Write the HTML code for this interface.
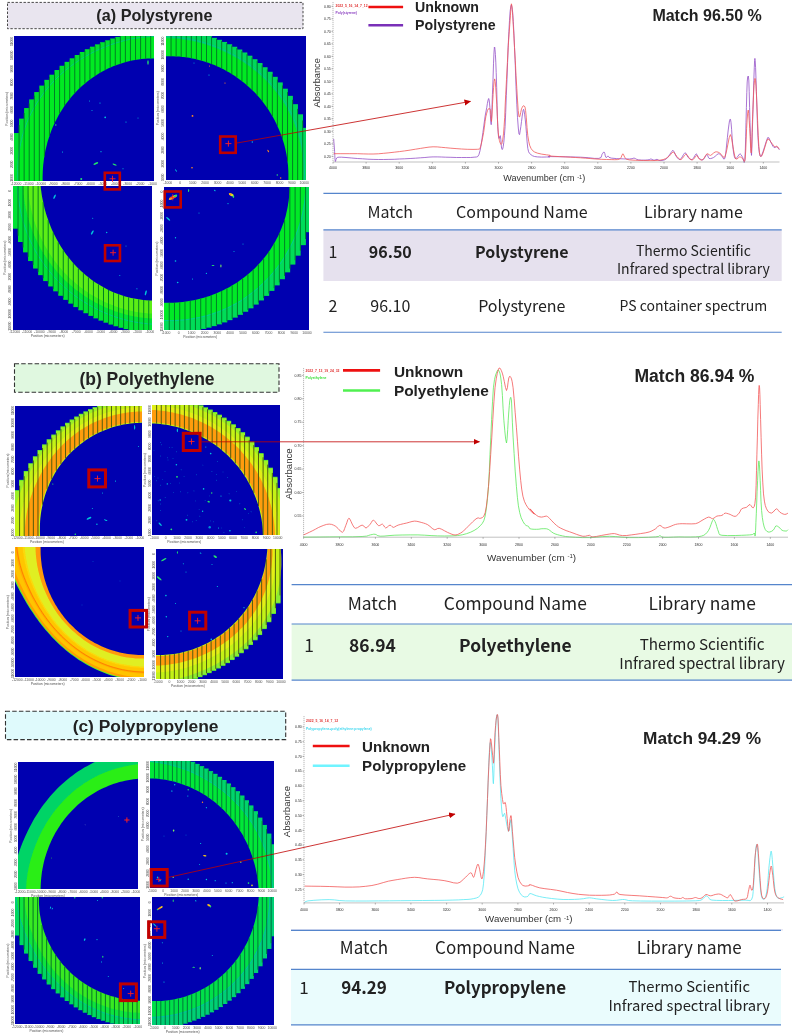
<!DOCTYPE html>
<html><head><meta charset="utf-8"><title>FTIR microplastic identification</title>
<style>html,body{margin:0;padding:0;background:#fff}svg{display:block}</style></head>
<body>
<svg width="792" height="1035" viewBox="0 0 792 1035" style="display:block">
<rect width="792" height="1035" fill="#fff"/>
<defs><filter id="bl" x="-5%" y="-5%" width="110%" height="110%"><feGaussianBlur stdDeviation="0.4"/></filter></defs>
<defs><marker id="ah" markerWidth="8" markerHeight="8" refX="6" refY="3" orient="auto" markerUnits="userSpaceOnUse"><path d="M0 0L6.5 3L0 6Z" fill="#c00000"/></marker></defs>
<clipPath id="c_aTL"><rect x="14" y="36" width="140.0" height="145.0"/></clipPath>
<g filter="url(#bl)"><g clip-path="url(#c_aTL)">
<rect x="14" y="36" width="140.0" height="145.0" fill="#0300b0"/>
<rect x="14.00" y="133.01" width="5.36" height="47.99" fill="#00e030"/>
<rect x="19.06" y="118.61" width="5.36" height="62.39" fill="#00e030"/>
<rect x="24.13" y="108.03" width="5.36" height="72.97" fill="#00e030"/>
<rect x="29.19" y="99.40" width="5.36" height="81.60" fill="#00e030"/>
<rect x="34.25" y="92.05" width="5.36" height="88.95" fill="#00e030"/>
<rect x="39.32" y="85.60" width="5.36" height="95.40" fill="#00e030"/>
<rect x="44.38" y="79.86" width="5.36" height="101.14" fill="#00e030"/>
<rect x="49.44" y="74.70" width="5.36" height="106.30" fill="#00e030"/>
<rect x="54.51" y="70.02" width="5.36" height="110.98" fill="#00e030"/>
<rect x="59.57" y="65.76" width="5.36" height="115.24" fill="#00e030"/>
<rect x="64.63" y="61.86" width="5.36" height="119.14" fill="#00e030"/>
<rect x="69.70" y="58.29" width="5.36" height="122.71" fill="#00e030"/>
<rect x="74.76" y="55.00" width="5.36" height="126.00" fill="#00e030"/>
<rect x="79.82" y="51.99" width="5.36" height="129.01" fill="#00e030"/>
<rect x="84.89" y="49.22" width="5.36" height="131.78" fill="#00e030"/>
<rect x="89.95" y="46.68" width="5.36" height="134.32" fill="#00e030"/>
<rect x="95.01" y="44.34" width="5.36" height="136.66" fill="#00e030"/>
<rect x="100.08" y="42.21" width="5.36" height="138.79" fill="#00e030"/>
<rect x="105.14" y="40.27" width="5.36" height="140.73" fill="#00e030"/>
<rect x="110.20" y="38.50" width="5.36" height="142.50" fill="#00e030"/>
<rect x="115.27" y="36.90" width="5.36" height="144.10" fill="#00e030"/>
<rect x="120.33" y="35.51" width="5.36" height="145.49" fill="#00e030"/>
<rect x="125.39" y="34.29" width="5.36" height="146.71" fill="#00e030"/>
<rect x="130.46" y="33.26" width="5.36" height="147.74" fill="#00e030"/>
<rect x="135.52" y="32.41" width="5.36" height="148.59" fill="#00e030"/>
<rect x="140.58" y="31.73" width="5.36" height="149.27" fill="#00e030"/>
<rect x="145.65" y="31.22" width="5.36" height="149.78" fill="#00e030"/>
<rect x="150.71" y="30.89" width="5.36" height="150.11" fill="#00e030"/>
<path d="M30.3 228.5L29.0 225.4L27.7 222.2L26.4 219.1L25.3 215.8L24.3 212.6L23.3 209.3L22.4 206.0L21.6 202.6L20.9 199.2L20.3 195.8L19.7 192.4L19.3 189.0L18.9 185.5L18.6 182.0L18.4 178.5L18.3 175.0L18.3 171.5L18.3 168.0L18.5 164.5L18.7 161.0L19.1 157.5L19.5 153.9L20.0 150.4L20.6 146.9L21.3 143.4L22.1 139.9L23.0 136.5L23.9 133.0L25.0 129.6L26.2 126.2L27.5 122.8L28.9 119.5L30.4 116.2L32.0 113.0L33.7 109.8L35.4 106.6L37.3 103.5L39.2 100.4L41.3 97.4L43.4 94.5L45.6 91.6L47.9 88.8L50.3 86.0L52.7 83.3L55.2 80.6L57.8 78.0L60.4 75.5L63.2 73.1L65.9 70.7L68.8 68.4L71.7 66.2L74.6 64.0L77.7 61.9L80.7 59.9L83.9 58.0L87.0 56.2L90.2 54.4L93.5 52.7L96.8 51.1L100.2 49.5L103.5 48.1L107.0 46.7L110.4 45.4L113.9 44.2L117.4 43.1L121.0 42.0L124.6 41.1L128.2 40.2L131.8 39.5L135.4 38.8L139.1 38.2L142.8 37.8L146.5 37.4L150.2 37.1L153.9 36.9L157.7 36.9L161.4 36.9L165.1 37.0L168.9 37.2L172.6 37.5L176.3 37.9L180.0 38.4L183.7 39.0L187.4 39.7L191.1 40.5L194.7 41.3L198.4 42.3L202.0 43.4L205.5 44.5L214.0 44.5L214.0 241.0L30.3 241.0Z" fill="#00ea20"/>
<path d="M29.8 228.7L28.4 225.6L27.1 222.4L25.9 219.2L24.8 216.0L23.7 212.7L22.7 209.4L21.8 206.1L21.0 202.7L20.3 199.3L19.7 195.9L19.1 192.4L18.6 189.0L18.3 185.5L18.0 182.0L17.8 178.5L17.7 175.0L17.7 171.5L17.7 167.9L17.9 164.4L18.1 160.9L18.5 157.3L18.9 153.8L19.4 150.3L20.0 146.7L20.7 143.2L21.5 139.7L22.3 136.2L23.3 132.8L24.4 129.3L25.6 125.9L26.9 122.6L28.3 119.2L29.8 115.9L31.4 112.7L33.1 109.4L34.9 106.3L36.8 103.1L38.7 100.1L40.8 97.1L42.9 94.1L45.1 91.2L47.4 88.4L49.8 85.6L52.3 82.9L54.8 80.2L57.4 77.6L60.0 75.1L62.8 72.6L65.6 70.3L68.4 68.0L71.4 65.7L74.3 63.6L77.4 61.5L80.4 59.5L83.6 57.5L86.8 55.7L90.0 53.9L93.3 52.2L96.6 50.6L100.0 49.1L103.4 47.6L106.8 46.2L110.3 44.9L113.8 43.7L117.3 42.6L120.8 41.5L124.4 40.6L128.1 39.7L131.7 38.9L135.4 38.3L139.1 37.7L142.8 37.2L146.5 36.8L150.2 36.6L153.9 36.4L157.7 36.3L161.4 36.3L165.2 36.4L168.9 36.6L172.7 36.9L176.4 37.3L180.1 37.8L183.8 38.4L187.5 39.1L191.2 39.9L194.9 40.8L198.5 41.7L202.2 42.8L205.8 44.0" fill="none" stroke="#00c890" stroke-width="0.8"/>
<path d="M51.0 221.0L49.9 218.3L48.9 215.7L48.0 213.0L47.2 210.3L46.4 207.6L45.7 204.8L45.1 202.0L44.5 199.2L44.0 196.4L43.6 193.6L43.3 190.8L43.0 187.9L42.8 185.1L42.7 182.2L42.6 179.3L42.6 176.4L42.7 173.6L42.8 170.7L43.0 167.8L43.2 164.9L43.6 162.1L43.9 159.2L44.4 156.3L44.9 153.4L45.4 150.6L46.1 147.7L46.8 144.9L47.5 142.0L48.4 139.2L49.3 136.4L50.3 133.6L51.3 130.8L52.4 128.0L53.6 125.3L54.8 122.6L56.2 119.9L57.6 117.2L59.0 114.6L60.6 111.9L62.2 109.4L63.9 106.8L65.6 104.3L67.4 101.9L69.3 99.5L71.3 97.1L73.3 94.8L75.4 92.5L77.5 90.3L79.7 88.1L82.0 86.0L84.4 84.0L86.8 82.0L89.2 80.1L91.8 78.2L94.3 76.4L97.0 74.7L99.6 73.1L102.4 71.5L105.2 70.0L108.0 68.6L110.9 67.3L113.8 66.1L116.7 64.9L119.7 63.9L122.8 62.9L125.8 62.0L128.9 61.2L132.0 60.6L135.1 60.0L138.3 59.5L141.4 59.1L144.6 58.8L147.7 58.6L150.9 58.5L154.1 58.5L157.3 58.6L160.4 58.8L163.6 59.1L166.8 59.4L169.9 59.8L173.0 60.3L176.1 60.9L179.2 61.6L182.3 62.3L185.3 63.1L188.4 64.0L191.4 65.0L194.3 66.0L197.3 67.2L214.0 67.2L214.0 241.0L51.0 241.0Z" fill="#0300b0"/>
<path d="M19.06 125.1V181.0M24.13 113.0V181.0M29.19 103.5V181.0M34.25 95.6V181.0M39.32 88.7V181.0M44.38 82.6V156.2M49.44 77.2V135.9M54.51 72.3V123.3M59.57 67.8V113.6M64.63 63.8V105.7M69.70 60.0V99.0M74.76 56.6V93.1M79.82 53.5V88.0M84.89 50.6V83.5M89.95 47.9V79.5M95.01 45.5V76.0M100.08 43.3V72.8M105.14 41.2V70.1M110.20 39.4V67.6M115.27 37.7V65.5M120.33 36.2V63.7M125.39 36.0V62.1M130.46 36.0V60.9M135.52 36.0V59.9M140.58 36.0V59.2M145.65 36.0V58.7M150.71 36.0V58.5" stroke="#007a26" stroke-width="0.95" fill="none"/>
<ellipse cx="148" cy="62.5" rx="0.7" ry="2.2" fill="#22e66a"/>
<ellipse cx="105.2" cy="117.3" rx="0.9" ry="0.9" fill="#00c4dc"/>
<ellipse cx="126" cy="122" rx="0.6" ry="0.6" fill="#00c4dc"/>
<ellipse cx="100" cy="103" rx="0.6" ry="0.6" fill="#00c4dc"/>
<ellipse cx="89.6" cy="101" rx="0.5" ry="0.5" fill="#00c4dc"/>
<ellipse cx="55.8" cy="125" rx="0.7" ry="0.7" fill="#22e66a"/>
<ellipse cx="95.8" cy="163.5" rx="2.6" ry="0.9" fill="#22e66a" transform="rotate(-25 95.8 163.5)"/>
<ellipse cx="114.6" cy="164.6" rx="2.2" ry="0.7" fill="#22e66a" transform="rotate(20 114.6 164.6)"/>
<ellipse cx="81.25" cy="179" rx="1" ry="1" fill="#22e66a"/>
<ellipse cx="62.5" cy="152" rx="0.6" ry="0.6" fill="#00c4dc"/>
<ellipse cx="123" cy="168.75" rx="0.6" ry="0.6" fill="#00c4dc"/>
<ellipse cx="101" cy="151.7" rx="0.6" ry="0.6" fill="#00c4dc"/>
<ellipse cx="138" cy="118" rx="0.5" ry="0.5" fill="#00c4dc"/>
<ellipse cx="92" cy="110.5" rx="0.5" ry="0.5" fill="#00c4dc"/>
</g></g>
<clipPath id="c_aTR"><rect x="166" y="36" width="140.0" height="144.0"/></clipPath>
<g filter="url(#bl)"><g clip-path="url(#c_aTR)">
<rect x="166" y="36" width="140.0" height="144.0" fill="#0300b0"/>
<rect x="166.00" y="28.37" width="5.36" height="151.63" fill="#00d85c"/>
<rect x="171.06" y="28.73" width="5.36" height="151.27" fill="#00d85c"/>
<rect x="176.13" y="29.26" width="5.36" height="150.74" fill="#00d85c"/>
<rect x="181.19" y="29.96" width="5.36" height="150.04" fill="#00d85c"/>
<rect x="186.25" y="30.83" width="5.36" height="149.17" fill="#00d85c"/>
<rect x="191.32" y="31.87" width="5.36" height="148.13" fill="#00d85c"/>
<rect x="196.38" y="33.09" width="5.36" height="146.91" fill="#00d85c"/>
<rect x="201.44" y="34.50" width="5.36" height="145.50" fill="#00d85c"/>
<rect x="206.51" y="36.08" width="5.36" height="143.92" fill="#00d85c"/>
<rect x="211.57" y="37.86" width="5.36" height="142.14" fill="#00d85c"/>
<rect x="216.63" y="39.80" width="5.36" height="140.20" fill="#00d85c"/>
<rect x="221.70" y="41.93" width="5.36" height="138.07" fill="#00d85c"/>
<rect x="226.76" y="44.24" width="5.36" height="135.76" fill="#00d85c"/>
<rect x="231.82" y="46.76" width="5.36" height="133.24" fill="#00d85c"/>
<rect x="236.89" y="49.50" width="5.36" height="130.50" fill="#00d85c"/>
<rect x="241.95" y="52.47" width="5.36" height="127.53" fill="#00d85c"/>
<rect x="247.01" y="55.70" width="5.36" height="124.30" fill="#00d85c"/>
<rect x="252.08" y="59.21" width="5.36" height="120.79" fill="#00d85c"/>
<rect x="257.14" y="63.04" width="5.36" height="116.96" fill="#00d85c"/>
<rect x="262.20" y="67.21" width="5.36" height="112.79" fill="#00d85c"/>
<rect x="267.27" y="71.79" width="5.36" height="108.21" fill="#00d85c"/>
<rect x="272.33" y="76.83" width="5.36" height="103.17" fill="#00d85c"/>
<rect x="277.39" y="82.42" width="5.36" height="97.58" fill="#00d85c"/>
<rect x="282.46" y="88.69" width="5.36" height="91.31" fill="#00d85c"/>
<rect x="287.52" y="95.84" width="5.36" height="84.16" fill="#00d85c"/>
<rect x="292.58" y="104.17" width="5.36" height="75.83" fill="#00d85c"/>
<rect x="297.65" y="114.31" width="5.36" height="65.69" fill="#00d85c"/>
<rect x="302.71" y="127.85" width="5.36" height="52.15" fill="#00d85c"/>
<path d="M112.3 47.7L115.7 46.5L119.3 45.3L122.8 44.2L126.4 43.2L130.0 42.3L133.6 41.5L137.2 40.8L140.9 40.1L144.5 39.6L148.2 39.2L151.9 38.8L155.6 38.6L159.3 38.4L163.0 38.3L166.8 38.4L170.5 38.5L174.2 38.7L177.9 39.1L181.6 39.5L185.3 40.0L189.0 40.6L192.6 41.3L196.2 42.1L199.9 43.0L203.4 44.0L207.0 45.1L210.5 46.3L214.0 47.6L217.5 48.9L220.9 50.4L224.3 51.9L227.7 53.5L231.0 55.2L234.3 57.0L237.6 58.8L240.7 60.8L243.9 62.8L247.0 64.9L250.0 67.0L253.0 69.3L255.9 71.6L258.7 74.1L261.5 76.6L264.2 79.1L266.9 81.8L269.4 84.5L271.9 87.3L274.3 90.1L276.7 93.0L278.9 96.0L281.1 99.1L283.1 102.2L285.1 105.3L287.0 108.6L288.8 111.8L290.4 115.2L292.0 118.5L293.5 122.0L294.8 125.4L296.1 128.9L297.2 132.4L298.2 136.0L299.2 139.5L300.0 143.1L300.7 146.7L301.4 150.4L301.9 154.0L302.3 157.6L302.7 161.3L302.9 164.9L303.1 168.5L303.2 172.2L303.1 175.8L303.0 179.4L302.8 183.0L302.5 186.6L302.1 190.1L301.6 193.7L301.0 197.2L300.3 200.7L299.5 204.2L298.7 207.7L297.8 211.1L296.7 214.5L295.6 217.8L294.4 221.1L293.2 224.4L291.8 227.7L290.4 230.9L290.4 240.0L106.0 240.0L106.0 47.7Z" fill="#00ea20"/>
<path d="M111.6 45.9L115.1 44.7L118.7 43.5L122.3 42.4L125.9 41.4L129.5 40.5L133.2 39.7L136.9 39.0L140.6 38.4L144.3 37.8L148.1 37.4L151.8 37.1L155.5 36.8L159.3 36.7L163.1 36.6L166.8 36.7L170.6 36.8L174.3 37.1L178.1 37.4L181.8 37.9L185.5 38.4L189.2 39.0L192.9 39.8L196.6 40.6L200.3 41.5L203.9 42.6L207.5 43.7L211.0 44.9L214.6 46.2L218.1 47.5L221.5 49.0L225.0 50.5L228.4 52.2L231.7 53.9L235.1 55.7L238.3 57.5L241.6 59.5L244.7 61.5L247.8 63.6L250.9 65.8L253.9 68.1L256.9 70.5L259.7 72.9L262.6 75.4L265.3 78.0L268.0 80.7L270.6 83.4L273.1 86.2L275.5 89.1L277.9 92.1L280.2 95.1L282.3 98.2L284.4 101.3L286.4 104.5L288.3 107.8L290.1 111.1L291.8 114.4L293.4 117.8L294.9 121.3L296.2 124.8L297.5 128.3L298.6 131.9L299.7 135.5L300.6 139.1L301.4 142.7L302.1 146.4L302.8 150.0L303.3 153.7L303.7 157.4L304.1 161.0L304.3 164.7L304.5 168.4L304.5 172.0L304.5 175.7L304.4 179.3L304.1 183.0L303.8 186.6L303.4 190.2L302.9 193.8L302.3 197.3L301.6 200.9L300.8 204.4L300.0 207.9L299.0 211.3L298.0 214.8L296.9 218.1L295.7 221.5L294.4 224.8L293.0 228.1L291.5 231.3" fill="none" stroke="#00c0a0" stroke-width="0.8"/>
<path d="M119.3 67.0L122.2 65.7L125.2 64.6L128.2 63.5L131.2 62.4L134.3 61.5L137.4 60.6L140.5 59.8L143.6 59.1L146.8 58.4L150.0 57.9L153.2 57.4L156.4 57.0L159.7 56.7L162.9 56.4L166.2 56.3L169.4 56.2L172.7 56.3L176.0 56.4L179.3 56.6L182.5 56.9L185.8 57.3L189.1 57.8L192.3 58.4L195.5 59.1L198.7 59.9L201.9 60.8L205.1 61.7L208.2 62.8L211.4 63.9L214.4 65.1L217.5 66.4L220.5 67.8L223.5 69.3L226.4 70.9L229.3 72.5L232.1 74.3L234.9 76.1L237.6 77.9L240.3 79.9L243.0 81.9L245.5 84.0L248.0 86.2L250.5 88.5L252.9 90.8L255.2 93.1L257.5 95.6L259.7 98.1L261.8 100.6L263.8 103.2L265.8 105.9L267.7 108.6L269.5 111.4L271.2 114.2L272.9 117.1L274.5 120.0L276.0 122.9L277.4 125.9L278.7 128.9L280.0 132.0L281.2 135.0L282.2 138.1L283.2 141.3L284.2 144.4L285.0 147.6L285.7 150.8L286.4 154.0L286.9 157.2L287.4 160.4L287.8 163.7L288.1 166.9L288.3 170.1L288.4 173.4L288.4 176.6L288.4 179.9L288.2 183.1L288.0 186.3L287.7 189.5L287.3 192.7L286.9 195.9L286.3 199.0L285.7 202.2L285.0 205.3L284.2 208.4L283.4 211.4L282.4 214.5L281.4 217.5L280.3 220.5L279.2 223.4L277.9 226.3L277.9 240.0L106.0 240.0L106.0 67.0Z" fill="#0300b0"/>
<path d="M171.06 36.0V56.2M176.13 36.0V56.4M181.19 36.0V56.8M186.25 36.0V57.4M191.32 36.0V58.2M196.38 36.0V59.3M201.44 36.0V60.6M206.51 36.0V62.2M211.57 36.9V64.0M216.63 38.8V66.1M221.70 40.8V68.4M226.76 43.1V71.1M231.82 45.5V74.1M236.89 48.1V77.4M241.95 51.0V81.1M247.01 54.1V85.3M252.08 57.4V90.0M257.14 61.1V95.2M262.20 65.1V101.2M267.27 69.4V108.0M272.33 74.2V116.1M277.39 79.6V125.9M282.46 85.5V138.8M287.52 92.1V161.4M292.58 99.8V180.0M297.65 108.9V180.0M302.71 120.5V180.0" stroke="#007a26" stroke-width="0.95" fill="none"/>
<ellipse cx="192.5" cy="115.9" rx="0.9" ry="0.9" fill="#ff8c1e"/>
<ellipse cx="192" cy="167.7" rx="0.8" ry="0.8" fill="#ff8c1e"/>
<ellipse cx="225" cy="83" rx="0.6" ry="0.6" fill="#ff8c1e"/>
<ellipse cx="209" cy="75" rx="0.6" ry="0.6" fill="#00c4dc"/>
<ellipse cx="268.2" cy="151" rx="0.6" ry="1.4" fill="#ff8c1e" transform="rotate(-30 268.2 151)"/>
<ellipse cx="252.3" cy="142" rx="0.7" ry="0.7" fill="#00c4dc"/>
<ellipse cx="176" cy="170.5" rx="0.5" ry="1.6" fill="#00c4dc" transform="rotate(-40 176 170.5)"/>
<ellipse cx="277.3" cy="175" rx="0.7" ry="0.7" fill="#22e66a"/>
<ellipse cx="280.7" cy="178" rx="0.7" ry="0.7" fill="#ff8c1e"/>
<ellipse cx="209.5" cy="66" rx="0.5" ry="0.5" fill="#ff8c1e"/>
<ellipse cx="194" cy="63" rx="0.5" ry="0.5" fill="#00c4dc"/>
</g></g>
<clipPath id="c_aBL"><rect x="13" y="186" width="139.0" height="144.0"/></clipPath>
<g filter="url(#bl)"><g clip-path="url(#c_aBL)">
<rect x="13" y="186" width="139.0" height="144.0" fill="#0300b0"/>
<rect x="13.00" y="186" width="5.33" height="42.68" fill="#00e234"/>
<rect x="18.03" y="186" width="5.33" height="56.00" fill="#00e234"/>
<rect x="23.05" y="186" width="5.33" height="66.37" fill="#00e234"/>
<rect x="28.08" y="186" width="5.33" height="75.04" fill="#00e234"/>
<rect x="33.11" y="186" width="5.33" height="82.54" fill="#00e234"/>
<rect x="38.14" y="186" width="5.33" height="89.16" fill="#00e234"/>
<rect x="43.16" y="186" width="5.33" height="95.09" fill="#00e234"/>
<rect x="48.19" y="186" width="5.33" height="100.45" fill="#00e234"/>
<rect x="53.22" y="186" width="5.33" height="105.33" fill="#00e234"/>
<rect x="58.24" y="186" width="5.33" height="109.79" fill="#00e234"/>
<rect x="63.27" y="186" width="5.33" height="113.88" fill="#00e234"/>
<rect x="68.30" y="186" width="5.33" height="117.64" fill="#00e234"/>
<rect x="73.33" y="186" width="5.33" height="121.09" fill="#00e234"/>
<rect x="78.35" y="186" width="5.33" height="124.28" fill="#00e234"/>
<rect x="83.38" y="186" width="5.33" height="127.21" fill="#00e234"/>
<rect x="88.41" y="186" width="5.33" height="129.90" fill="#00e234"/>
<rect x="93.43" y="186" width="5.33" height="132.37" fill="#00e234"/>
<rect x="98.46" y="186" width="5.33" height="134.64" fill="#00e234"/>
<rect x="103.49" y="186" width="5.33" height="136.70" fill="#00e234"/>
<rect x="108.52" y="186" width="5.33" height="138.57" fill="#00e234"/>
<rect x="113.54" y="186" width="5.33" height="140.27" fill="#00e234"/>
<rect x="118.57" y="186" width="5.33" height="141.79" fill="#00e234"/>
<rect x="123.60" y="186" width="5.33" height="143.14" fill="#00e234"/>
<rect x="128.62" y="186" width="5.33" height="144.32" fill="#00e234"/>
<rect x="133.65" y="186" width="5.33" height="145.32" fill="#00e234"/>
<rect x="138.68" y="186" width="5.33" height="146.15" fill="#00e234"/>
<rect x="143.71" y="186" width="5.33" height="146.81" fill="#00e234"/>
<rect x="148.73" y="186" width="5.33" height="147.29" fill="#00e234"/>
<path d="M203.2 311.4L199.9 312.5L196.5 313.5L193.1 314.4L189.7 315.2L186.3 316.0L182.9 316.6L179.4 317.2L175.9 317.7L172.5 318.0L169.0 318.3L165.5 318.6L162.0 318.7L158.5 318.7L155.0 318.7L151.5 318.5L148.1 318.3L144.6 317.9L141.1 317.5L137.7 317.0L134.3 316.4L130.9 315.7L127.5 314.9L124.1 314.0L120.8 313.0L117.5 312.0L114.2 310.9L111.0 309.6L107.8 308.4L104.6 307.0L101.5 305.5L98.4 304.0L95.4 302.4L92.4 300.7L89.4 299.0L86.5 297.2L83.6 295.3L80.8 293.3L78.0 291.3L75.3 289.2L72.7 287.1L70.1 284.8L67.5 282.5L65.0 280.2L62.6 277.8L60.3 275.3L58.0 272.8L55.7 270.2L53.6 267.6L51.5 264.9L49.4 262.2L47.5 259.4L45.6 256.6L43.7 253.7L42.0 250.8L40.3 247.9L38.7 244.9L37.2 241.8L35.7 238.8L34.3 235.7L33.0 232.5L31.8 229.4L30.7 226.2L29.6 223.0L28.6 219.7L27.7 216.5L26.9 213.2L26.1 209.9L25.4 206.5L24.8 203.2L24.3 199.9L23.8 196.5L23.5 193.1L23.2 189.7L22.9 186.4L22.8 183.0L22.8 179.6L22.8 176.2L22.9 172.8L23.1 169.4L23.4 166.0L23.8 162.6L24.3 159.2L24.8 155.8L25.5 152.5L26.2 149.1L27.0 145.8L27.9 142.5L28.9 139.2L30.0 136.0L30.0 126.0L212.0 126.0L212.0 311.4Z" fill="#30ea1c"/>
<path d="M201.3 306.2L198.2 307.3L194.9 308.3L191.7 309.2L188.4 310.1L185.1 310.8L181.8 311.5L178.5 312.0L175.2 312.5L171.8 312.9L168.5 313.3L165.1 313.5L161.8 313.6L158.4 313.7L155.1 313.7L151.7 313.6L148.3 313.4L145.0 313.1L141.7 312.7L138.3 312.2L135.0 311.7L131.8 311.0L128.5 310.3L125.2 309.4L122.0 308.5L118.8 307.5L115.7 306.4L112.6 305.2L109.5 304.0L106.4 302.7L103.4 301.3L100.4 299.8L97.5 298.2L94.6 296.6L91.7 294.9L88.9 293.2L86.2 291.3L83.5 289.4L80.8 287.4L78.2 285.4L75.6 283.3L73.1 281.1L70.7 278.9L68.3 276.7L66.0 274.3L63.7 271.9L61.6 269.5L59.4 267.0L57.3 264.4L55.3 261.8L53.4 259.2L51.5 256.5L49.7 253.8L48.0 251.0L46.3 248.2L44.7 245.4L43.2 242.5L41.7 239.6L40.3 236.6L39.0 233.6L37.7 230.6L36.5 227.6L35.4 224.5L34.4 221.4L33.4 218.3L32.6 215.2L31.7 212.0L31.0 208.8L30.3 205.6L29.7 202.4L29.2 199.2L28.7 196.0L28.3 192.7L28.0 189.5L27.8 186.2L27.6 182.9L27.5 179.6L27.5 176.4L27.6 173.1L27.7 169.8L28.0 166.5L28.3 163.2L28.7 160.0L29.2 156.7L29.8 153.5L30.5 150.2L31.2 147.0L32.1 143.8L33.0 140.6L34.0 137.5L34.0 126.0L212.0 126.0L212.0 306.2Z" fill="#5cee16"/>
<path d="M205.3 317.2L201.8 318.3L198.3 319.3L194.8 320.2L191.2 321.1L187.6 321.8L184.0 322.4L180.4 323.0L176.8 323.5L173.2 323.8L169.5 324.1L165.9 324.3L162.2 324.4L158.6 324.4L155.0 324.3L151.3 324.1L147.7 323.8L144.1 323.4L140.5 322.9L137.0 322.4L133.4 321.7L129.9 321.0L126.4 320.1L122.9 319.2L119.4 318.2L116.0 317.1L112.6 315.9L109.2 314.6L105.9 313.3L102.6 311.9L99.4 310.4L96.2 308.8L93.0 307.1L89.9 305.4L86.8 303.6L83.7 301.7L80.7 299.8L77.8 297.8L74.9 295.7L72.1 293.5L69.3 291.3L66.6 289.0L63.9 286.6L61.3 284.2L58.8 281.7L56.3 279.2L53.9 276.6L51.6 273.9L49.3 271.2L47.1 268.4L44.9 265.6L42.9 262.7L40.9 259.8L39.0 256.8L37.1 253.7L35.4 250.7L33.7 247.6L32.1 244.4L30.5 241.2L29.1 238.0L27.7 234.7L26.5 231.4L25.3 228.1L24.1 224.7L23.1 221.3L22.2 217.9L21.3 214.5L20.6 211.1L19.9 207.6L19.3 204.1L18.7 200.6L18.3 197.1L17.9 193.6L17.7 190.1L17.5 186.5L17.4 183.0L17.4 179.5L17.5 175.9L17.6 172.4L17.9 168.9L18.3 165.3L18.7 161.8L19.2 158.3L19.9 154.8L20.6 151.4L21.4 147.9L22.2 144.5L23.2 141.1L24.3 137.7L25.4 134.3" fill="none" stroke="#00c890" stroke-width="0.9"/>
<path d="M196.3 292.5L193.5 293.6L190.7 294.6L187.8 295.5L184.9 296.3L182.0 297.0L179.1 297.7L176.1 298.3L173.2 298.9L170.2 299.3L167.2 299.7L164.2 300.0L161.2 300.2L158.2 300.4L155.1 300.5L152.1 300.5L149.1 300.4L146.1 300.2L143.1 299.9L140.1 299.6L137.1 299.1L134.1 298.6L131.1 297.9L128.2 297.2L125.3 296.4L122.4 295.5L119.5 294.6L116.7 293.5L113.9 292.4L111.1 291.2L108.4 289.9L105.7 288.5L103.1 287.1L100.5 285.6L97.9 284.1L95.4 282.4L92.9 280.7L90.5 279.0L88.1 277.1L85.8 275.3L83.6 273.3L81.3 271.3L79.2 269.3L77.1 267.2L75.0 265.1L73.1 262.9L71.1 260.6L69.2 258.3L67.4 256.0L65.7 253.7L64.0 251.3L62.3 248.8L60.7 246.3L59.2 243.8L57.8 241.3L56.4 238.7L55.0 236.1L53.7 233.5L52.5 230.9L51.3 228.2L50.2 225.5L49.2 222.8L48.2 220.0L47.2 217.3L46.3 214.5L45.5 211.7L44.7 208.9L44.0 206.0L43.4 203.2L42.8 200.3L42.2 197.4L41.7 194.5L41.3 191.6L40.9 188.7L40.6 185.8L40.3 182.8L40.1 179.9L40.0 176.9L40.0 173.9L40.0 171.0L40.1 168.0L40.3 165.0L40.6 162.0L41.0 159.0L41.4 156.1L41.9 153.1L42.5 150.2L43.1 147.2L43.8 144.3L44.6 141.4L44.6 126.0L212.0 126.0L212.0 292.5Z" fill="#0300b0"/>
<path d="M18.03 186.0V235.8M23.05 186.0V247.5M28.08 186.0V256.9M33.11 186.0V264.9M38.14 186.0V271.9M43.16 202.2V278.2M48.19 220.1V283.8M53.22 232.4V288.9M58.24 242.2V293.6M63.27 250.2V297.9M68.30 257.1V301.8M73.33 263.2V305.4M78.35 268.5V308.7M83.38 273.2V311.8M88.41 277.4V314.6M93.43 281.1V317.2M98.46 284.4V319.5M103.49 287.3V321.7M108.52 289.9V323.7M113.54 292.2V325.4M118.57 294.2V327.0M123.60 295.9V328.5M128.62 297.3V329.8M133.65 298.5V330.0M138.68 299.4V330.0M143.71 300.0V330.0M148.73 300.4V330.0" stroke="#007a26" stroke-width="0.95" fill="none"/>
<ellipse cx="54.6" cy="196.7" rx="0.8" ry="2.4" fill="#00c4dc" transform="rotate(25 54.6 196.7)"/>
<ellipse cx="92.3" cy="232.5" rx="0.8" ry="2.4" fill="#00c4dc" transform="rotate(30 92.3 232.5)"/>
<ellipse cx="106.7" cy="232.5" rx="0.7" ry="0.7" fill="#00c4dc"/>
<ellipse cx="145.8" cy="292.9" rx="0.8" ry="2.6" fill="#00c4dc" transform="rotate(15 145.8 292.9)"/>
<ellipse cx="136.9" cy="288.75" rx="0.6" ry="0.6" fill="#00c4dc"/>
<ellipse cx="92.7" cy="218.3" rx="0.5" ry="0.5" fill="#00c4dc"/>
<ellipse cx="119.8" cy="275.5" rx="0.5" ry="0.5" fill="#00c4dc"/>
<ellipse cx="126" cy="246" rx="0.5" ry="0.5" fill="#00c4dc"/>
</g></g>
<clipPath id="c_aBR"><rect x="164" y="187" width="145.0" height="143.0"/></clipPath>
<g filter="url(#bl)"><g clip-path="url(#c_aBR)">
<rect x="164" y="187" width="145.0" height="143.0" fill="#0300b0"/>
<rect x="164.00" y="187" width="5.54" height="145.49" fill="#00dc58"/>
<rect x="169.24" y="187" width="5.54" height="145.53" fill="#00dc58"/>
<rect x="174.49" y="187" width="5.54" height="145.40" fill="#00dc58"/>
<rect x="179.73" y="187" width="5.54" height="145.08" fill="#00dc58"/>
<rect x="184.98" y="187" width="5.54" height="144.57" fill="#00dc58"/>
<rect x="190.22" y="187" width="5.54" height="143.88" fill="#00dc58"/>
<rect x="195.46" y="187" width="5.54" height="142.99" fill="#00dc58"/>
<rect x="200.71" y="187" width="5.54" height="141.91" fill="#00dc58"/>
<rect x="205.95" y="187" width="5.54" height="140.63" fill="#00dc58"/>
<rect x="211.20" y="187" width="5.54" height="139.13" fill="#00dc58"/>
<rect x="216.44" y="187" width="5.54" height="137.38" fill="#00dc58"/>
<rect x="221.69" y="187" width="5.54" height="135.40" fill="#00dc58"/>
<rect x="226.93" y="187" width="5.54" height="133.15" fill="#00dc58"/>
<rect x="232.17" y="187" width="5.54" height="130.64" fill="#00dc58"/>
<rect x="237.42" y="187" width="5.54" height="127.84" fill="#00dc58"/>
<rect x="242.66" y="187" width="5.54" height="124.76" fill="#00dc58"/>
<rect x="247.91" y="187" width="5.54" height="121.34" fill="#00dc58"/>
<rect x="253.15" y="187" width="5.54" height="117.59" fill="#00dc58"/>
<rect x="258.39" y="187" width="5.54" height="113.46" fill="#00dc58"/>
<rect x="263.64" y="187" width="5.54" height="108.91" fill="#00dc58"/>
<rect x="268.88" y="187" width="5.54" height="103.90" fill="#00dc58"/>
<rect x="274.13" y="187" width="5.54" height="98.37" fill="#00dc58"/>
<rect x="279.37" y="187" width="5.54" height="92.23" fill="#00dc58"/>
<rect x="284.61" y="187" width="5.54" height="85.35" fill="#00dc58"/>
<rect x="289.86" y="187" width="5.54" height="77.58" fill="#00dc58"/>
<rect x="295.10" y="187" width="5.54" height="68.67" fill="#00dc58"/>
<rect x="300.35" y="187" width="5.54" height="58.16" fill="#00dc58"/>
<rect x="305.59" y="187" width="5.54" height="45.19" fill="#00dc58"/>
<path d="M296.7 136.7L297.9 140.0L298.9 143.3L300.0 146.7L300.9 150.1L301.7 153.5L302.5 157.0L303.1 160.4L303.7 163.9L304.2 167.4L304.6 170.9L304.9 174.4L305.1 177.9L305.2 181.5L305.2 185.0L305.2 188.5L305.0 192.0L304.8 195.6L304.5 199.1L304.0 202.6L303.5 206.1L302.9 209.5L302.2 213.0L301.4 216.4L300.5 219.8L299.5 223.2L298.4 226.6L297.3 229.9L296.0 233.2L294.7 236.5L293.3 239.7L291.8 242.9L290.2 246.0L288.6 249.2L286.9 252.2L285.1 255.3L283.2 258.2L281.2 261.2L279.2 264.0L277.1 266.9L275.0 269.6L272.7 272.4L270.4 275.0L268.1 277.6L265.6 280.2L263.1 282.6L260.6 285.0L258.0 287.4L255.3 289.6L252.5 291.8L249.8 294.0L246.9 296.0L244.0 298.0L241.1 299.9L238.1 301.7L235.0 303.5L231.9 305.1L228.8 306.7L225.6 308.2L222.4 309.6L219.2 310.9L215.9 312.1L212.6 313.3L209.2 314.3L205.9 315.3L202.5 316.1L199.1 316.9L195.7 317.6L192.2 318.2L188.8 318.7L185.3 319.2L181.9 319.5L178.4 319.8L174.9 319.9L171.5 320.0L168.0 320.0L164.5 320.0L161.0 319.8L157.6 319.5L154.1 319.2L150.7 318.7L147.3 318.2L143.9 317.6L140.5 316.9L137.1 316.1L133.8 315.3L130.4 314.3L127.2 313.3L123.9 312.2L120.7 311.0L104.0 311.0L104.0 127.0L296.7 127.0Z" fill="#00ea28"/>
<path d="M297.2 136.5L298.4 139.8L299.5 143.2L300.5 146.6L301.4 150.0L302.3 153.4L303.0 156.9L303.7 160.3L304.2 163.8L304.7 167.3L305.1 170.9L305.4 174.4L305.6 177.9L305.8 181.5L305.8 185.0L305.7 188.5L305.6 192.1L305.3 195.6L305.0 199.1L304.6 202.7L304.0 206.2L303.4 209.6L302.7 213.1L301.9 216.6L301.0 220.0L300.0 223.4L298.9 226.8L297.8 230.1L296.5 233.4L295.2 236.7L293.8 239.9L292.3 243.1L290.7 246.3L289.0 249.4L287.3 252.5L285.5 255.5L283.6 258.5L281.7 261.5L279.7 264.4L277.6 267.2L275.4 270.0L273.2 272.7L270.9 275.4L268.5 278.0L266.0 280.5L263.5 283.0L261.0 285.4L258.3 287.8L255.6 290.1L252.9 292.3L250.1 294.4L247.2 296.5L244.3 298.5L241.4 300.4L238.4 302.2L235.3 304.0L232.2 305.6L229.1 307.2L225.9 308.7L222.6 310.1L219.4 311.5L216.1 312.7L212.8 313.8L209.4 314.9L206.0 315.9L202.6 316.7L199.2 317.5L195.8 318.2L192.3 318.8L188.9 319.3L185.4 319.8L181.9 320.1L178.4 320.4L175.0 320.5L171.5 320.6L168.0 320.6L164.5 320.5L161.0 320.4L157.5 320.1L154.1 319.8L150.6 319.3L147.2 318.8L143.8 318.2L140.4 317.5L137.0 316.7L133.6 315.8L130.3 314.9L127.0 313.8L123.7 312.7L120.5 311.5" fill="none" stroke="#00c8a0" stroke-width="0.8"/>
<path d="M280.9 142.4L282.0 145.3L283.0 148.2L284.0 151.2L284.9 154.2L285.7 157.2L286.4 160.2L287.1 163.2L287.6 166.3L288.1 169.3L288.6 172.4L288.9 175.5L289.2 178.6L289.3 181.8L289.4 184.9L289.5 188.0L289.4 191.1L289.2 194.3L289.0 197.4L288.7 200.5L288.2 203.6L287.7 206.7L287.1 209.8L286.4 212.8L285.7 215.9L284.8 218.9L283.9 221.9L282.8 224.8L281.7 227.8L280.5 230.7L279.3 233.5L277.9 236.4L276.5 239.1L275.0 241.9L273.4 244.6L271.8 247.3L270.1 249.9L268.3 252.4L266.5 254.9L264.5 257.4L262.6 259.8L260.5 262.2L258.4 264.5L256.3 266.7L254.1 268.9L251.8 271.0L249.5 273.0L247.1 275.0L244.7 277.0L242.2 278.8L239.7 280.6L237.2 282.4L234.6 284.0L231.9 285.6L229.3 287.2L226.5 288.6L223.8 290.0L221.0 291.3L218.2 292.6L215.4 293.7L212.6 294.8L209.7 295.9L206.8 296.8L203.9 297.7L200.9 298.5L198.0 299.3L195.0 300.0L192.0 300.6L189.0 301.1L186.0 301.6L183.0 301.9L180.0 302.3L176.9 302.5L173.9 302.7L170.9 302.8L167.9 302.8L164.8 302.8L161.8 302.6L158.8 302.5L155.8 302.2L152.7 301.8L149.7 301.4L146.8 300.9L143.8 300.4L140.8 299.7L137.9 299.0L135.0 298.2L132.1 297.3L129.2 296.4L126.4 295.4L104.0 295.4L104.0 127.0L280.9 127.0Z" fill="#0300b0"/>
<path d="M169.24 302.8V330.0M174.49 302.6V330.0M179.73 302.3V330.0M184.98 301.7V330.0M190.22 300.9V330.0M195.46 299.9V330.0M200.71 298.6V329.5M205.95 297.1V328.3M211.20 295.3V326.9M216.44 293.3V325.3M221.69 291.0V323.4M226.93 288.4V321.3M232.17 285.5V318.9M237.42 282.2V316.3M242.66 278.5V313.3M247.91 274.4V310.1M253.15 269.7V306.5M258.39 264.5V302.6M263.64 258.5V298.2M268.88 251.6V293.5M274.13 243.4V288.2M279.37 233.3V282.4M284.61 219.5V275.9M289.86 187.0V268.6M295.10 187.0V260.3M300.35 187.0V250.6M305.59 187.0V239.1" stroke="#007a26" stroke-width="0.95" fill="none"/>
<ellipse cx="172.9" cy="197.4" rx="4.6" ry="1.3" fill="#e6e21e" transform="rotate(-28 172.9 197.4)"/>
<ellipse cx="170.8" cy="198.6" rx="2.0" ry="1.0" fill="#ff8c1e" transform="rotate(-28 170.8 198.6)"/>
<ellipse cx="175.6" cy="195.9" rx="1.8" ry="1.0" fill="#22e66a" transform="rotate(-28 175.6 195.9)"/>
<ellipse cx="231.2" cy="194.6" rx="2.6" ry="1.3" fill="#e6e21e" transform="rotate(25 231.2 194.6)"/>
<ellipse cx="230.2" cy="194.2" rx="1.3" ry="0.8" fill="#ff8c1e" transform="rotate(25 230.2 194.2)"/>
<ellipse cx="233.4" cy="196.6" rx="0.8" ry="1.3" fill="#22e66a"/>
<ellipse cx="168.2" cy="218.9" rx="0.7" ry="2.6" fill="#00c4dc" transform="rotate(-50 168.2 218.9)"/>
<ellipse cx="188.6" cy="190.5" rx="0.6" ry="1.6" fill="#22e66a"/>
<ellipse cx="214.8" cy="190.5" rx="0.9" ry="0.5" fill="#00c4dc" transform="rotate(30 214.8 190.5)"/>
<ellipse cx="213" cy="265.5" rx="1.4" ry="0.5" fill="#22e66a"/>
<ellipse cx="220.9" cy="266" rx="0.6" ry="1.4" fill="#7cf060"/>
<ellipse cx="175.5" cy="261" rx="0.8" ry="0.8" fill="#00c4dc"/>
<ellipse cx="177.7" cy="282.5" rx="0.8" ry="0.8" fill="#00c4dc"/>
<ellipse cx="175.5" cy="237.7" rx="0.7" ry="0.7" fill="#00c4dc"/>
<ellipse cx="228" cy="203.6" rx="0.6" ry="0.6" fill="#00c4dc"/>
<ellipse cx="192.5" cy="279" rx="0.6" ry="0.6" fill="#00c4dc"/>
<ellipse cx="206.4" cy="273.4" rx="0.6" ry="0.6" fill="#00c4dc"/>
<ellipse cx="199" cy="213" rx="0.5" ry="0.5" fill="#00c4dc"/>
<ellipse cx="234" cy="251.5" rx="0.5" ry="0.5" fill="#00c4dc"/>
<ellipse cx="243" cy="244" rx="0.5" ry="0.5" fill="#00c4dc"/>
</g></g>
<clipPath id="c_bTL"><rect x="15" y="406" width="127.0" height="130.0"/></clipPath>
<g filter="url(#bl)"><g clip-path="url(#c_bTL)">
<rect x="15" y="406" width="127.0" height="130.0" fill="#0300b0"/>
<rect x="14.50" y="490.10" width="5.59" height="45.00" fill="#58e838"/>
<rect x="19.09" y="479.84" width="5.59" height="55.26" fill="#58e838"/>
<rect x="23.69" y="470.97" width="5.59" height="64.13" fill="#58e838"/>
<rect x="28.28" y="463.18" width="5.59" height="71.92" fill="#58e838"/>
<rect x="32.87" y="456.23" width="5.59" height="78.87" fill="#58e838"/>
<rect x="37.47" y="449.99" width="5.59" height="85.11" fill="#58e838"/>
<rect x="42.06" y="444.34" width="5.59" height="90.76" fill="#58e838"/>
<rect x="46.65" y="439.20" width="5.59" height="95.90" fill="#58e838"/>
<rect x="51.25" y="434.52" width="5.59" height="100.58" fill="#58e838"/>
<rect x="55.84" y="430.25" width="5.59" height="104.85" fill="#58e838"/>
<rect x="60.43" y="426.33" width="5.59" height="108.77" fill="#58e838"/>
<rect x="65.02" y="422.75" width="5.59" height="112.35" fill="#58e838"/>
<rect x="69.62" y="419.48" width="5.59" height="115.62" fill="#58e838"/>
<rect x="74.21" y="416.50" width="5.59" height="118.60" fill="#58e838"/>
<rect x="78.80" y="413.79" width="5.59" height="121.31" fill="#58e838"/>
<rect x="83.40" y="411.33" width="5.59" height="123.77" fill="#58e838"/>
<rect x="87.99" y="409.11" width="5.59" height="125.99" fill="#58e838"/>
<rect x="92.58" y="407.12" width="5.59" height="127.98" fill="#58e838"/>
<rect x="97.18" y="405.36" width="5.59" height="129.74" fill="#58e838"/>
<rect x="101.77" y="403.81" width="5.59" height="131.29" fill="#58e838"/>
<rect x="106.36" y="402.44" width="5.59" height="132.66" fill="#58e838"/>
<rect x="110.96" y="401.26" width="5.59" height="133.84" fill="#58e838"/>
<rect x="115.55" y="400.25" width="5.59" height="134.85" fill="#58e838"/>
<rect x="120.14" y="399.41" width="5.59" height="135.69" fill="#58e838"/>
<rect x="124.74" y="398.74" width="5.59" height="136.36" fill="#58e838"/>
<rect x="129.33" y="398.23" width="5.59" height="136.87" fill="#58e838"/>
<rect x="133.92" y="397.89" width="5.59" height="137.21" fill="#58e838"/>
<rect x="138.51" y="397.71" width="5.59" height="137.39" fill="#58e838"/>
<rect x="15.00" y="491.00" width="4.89" height="45.00" fill="#9cf028"/>
<rect x="19.59" y="480.74" width="4.89" height="55.26" fill="#9cf028"/>
<rect x="24.19" y="471.87" width="4.89" height="64.13" fill="#9cf028"/>
<rect x="28.78" y="464.08" width="4.89" height="71.92" fill="#9cf028"/>
<rect x="33.37" y="457.13" width="4.89" height="78.87" fill="#9cf028"/>
<rect x="37.97" y="450.89" width="4.89" height="85.11" fill="#9cf028"/>
<rect x="42.56" y="445.24" width="4.89" height="90.76" fill="#9cf028"/>
<rect x="47.15" y="440.10" width="4.89" height="95.90" fill="#9cf028"/>
<rect x="51.75" y="435.42" width="4.89" height="100.58" fill="#9cf028"/>
<rect x="56.34" y="431.15" width="4.89" height="104.85" fill="#9cf028"/>
<rect x="60.93" y="427.23" width="4.89" height="108.77" fill="#9cf028"/>
<rect x="65.52" y="423.65" width="4.89" height="112.35" fill="#9cf028"/>
<rect x="70.12" y="420.38" width="4.89" height="115.62" fill="#9cf028"/>
<rect x="74.71" y="417.40" width="4.89" height="118.60" fill="#9cf028"/>
<rect x="79.30" y="414.69" width="4.89" height="121.31" fill="#9cf028"/>
<rect x="83.90" y="412.23" width="4.89" height="123.77" fill="#9cf028"/>
<rect x="88.49" y="410.01" width="4.89" height="125.99" fill="#9cf028"/>
<rect x="93.08" y="408.02" width="4.89" height="127.98" fill="#9cf028"/>
<rect x="97.68" y="406.26" width="4.89" height="129.74" fill="#9cf028"/>
<rect x="102.27" y="404.71" width="4.89" height="131.29" fill="#9cf028"/>
<rect x="106.86" y="403.34" width="4.89" height="132.66" fill="#9cf028"/>
<rect x="111.46" y="402.16" width="4.89" height="133.84" fill="#9cf028"/>
<rect x="116.05" y="401.15" width="4.89" height="134.85" fill="#9cf028"/>
<rect x="120.64" y="400.31" width="4.89" height="135.69" fill="#9cf028"/>
<rect x="125.24" y="399.64" width="4.89" height="136.36" fill="#9cf028"/>
<rect x="129.83" y="399.13" width="4.89" height="136.87" fill="#9cf028"/>
<rect x="134.42" y="398.79" width="4.89" height="137.21" fill="#9cf028"/>
<rect x="139.01" y="398.61" width="4.89" height="137.39" fill="#9cf028"/>
<path d="M16.1 576.0L15.2 572.6L14.4 569.3L13.7 566.0L13.1 562.6L12.6 559.3L12.1 555.9L11.8 552.5L11.5 549.2L11.3 545.8L11.2 542.4L11.2 539.1L11.3 535.7L11.4 532.4L11.7 529.1L12.0 525.7L12.4 522.4L12.9 519.2L13.5 515.9L14.2 512.7L14.9 509.4L15.7 506.3L16.6 503.1L17.6 500.0L18.6 496.9L19.8 493.8L21.0 490.8L22.2 487.8L23.5 484.8L24.9 481.9L26.3 479.0L27.8 476.1L29.3 473.2L30.8 470.4L32.5 467.6L34.1 464.9L35.9 462.2L37.6 459.5L39.5 456.9L41.4 454.3L43.3 451.7L45.3 449.2L47.4 446.8L49.5 444.3L51.7 442.0L53.9 439.6L56.2 437.4L58.5 435.1L60.9 433.0L63.4 430.9L65.9 428.8L68.4 426.8L71.0 424.9L73.7 423.0L76.3 421.2L79.1 419.5L81.9 417.8L84.7 416.2L87.6 414.7L90.5 413.3L93.5 411.9L96.5 410.7L99.5 409.5L102.6 408.4L105.7 407.4L108.8 406.4L112.0 405.6L115.1 404.8L118.3 404.1L121.5 403.5L124.8 402.9L128.0 402.5L131.3 402.1L134.5 401.8L137.8 401.6L141.1 401.5L144.4 401.5L147.6 401.5L150.9 401.7L154.2 401.9L157.5 402.2L160.7 402.6L164.0 403.1L167.2 403.6L170.4 404.3L173.7 405.0L176.8 405.8L180.0 406.7L183.2 407.6L186.3 408.7L202.0 408.7L202.0 596.0L16.1 596.0Z" fill="#c4f214"/>
<path d="M24.0 573.1L23.1 570.0L22.3 566.9L21.6 563.8L20.9 560.6L20.4 557.5L19.9 554.4L19.5 551.2L19.2 548.0L19.0 544.9L18.8 541.7L18.8 538.6L18.8 535.4L18.9 532.3L19.0 529.1L19.3 526.0L19.6 522.9L20.0 519.8L20.5 516.7L21.1 513.6L21.7 510.5L22.4 507.5L23.2 504.5L24.0 501.5L25.0 498.6L26.0 495.6L27.0 492.7L28.2 489.9L29.3 487.0L30.6 484.2L31.9 481.4L33.2 478.7L34.6 475.9L36.0 473.2L37.5 470.5L39.1 467.9L40.7 465.3L42.4 462.7L44.1 460.2L45.9 457.7L47.8 455.2L49.6 452.8L51.6 450.5L53.6 448.1L55.7 445.8L57.8 443.6L60.0 441.4L62.2 439.3L64.5 437.2L66.8 435.2L69.2 433.2L71.6 431.3L74.1 429.5L76.6 427.7L79.2 425.9L81.8 424.3L84.5 422.7L87.2 421.2L90.0 419.7L92.7 418.3L95.6 417.0L98.5 415.8L101.4 414.7L104.3 413.6L107.3 412.6L110.2 411.7L113.3 410.9L116.3 410.2L119.3 409.5L122.4 408.9L125.5 408.4L128.6 408.0L131.7 407.6L134.9 407.4L138.0 407.2L141.1 407.1L144.3 407.1L147.4 407.1L150.5 407.3L153.7 407.5L156.8 407.8L159.9 408.2L163.0 408.7L166.1 409.2L169.2 409.8L172.2 410.5L175.3 411.3L178.3 412.2L181.3 413.1L184.3 414.1L202.0 414.1L202.0 596.0L24.0 596.0Z" fill="#e2ee18"/>
<path d="M30.1 570.8L29.2 567.9L28.4 565.0L27.7 562.1L27.1 559.1L26.5 556.1L26.0 553.1L25.6 550.2L25.2 547.2L25.0 544.2L24.8 541.2L24.7 538.1L24.7 535.1L24.7 532.1L24.8 529.2L25.0 526.2L25.3 523.2L25.6 520.2L26.0 517.3L26.5 514.3L27.0 511.4L27.6 508.5L28.3 505.6L29.1 502.7L29.9 499.9L30.8 497.1L31.8 494.3L32.8 491.5L33.9 488.8L35.0 486.0L36.2 483.3L37.4 480.7L38.8 478.0L40.1 475.4L41.5 472.8L43.0 470.3L44.5 467.7L46.1 465.2L47.8 462.8L49.5 460.4L51.2 458.0L53.0 455.6L54.9 453.4L56.8 451.1L58.8 448.9L60.8 446.7L62.9 444.6L65.0 442.5L67.2 440.5L69.5 438.6L71.8 436.7L74.1 434.8L76.5 433.0L78.9 431.3L81.4 429.6L84.0 428.0L86.5 426.5L89.1 425.0L91.8 423.6L94.5 422.3L97.2 421.0L100.0 419.9L102.8 418.8L105.6 417.7L108.5 416.8L111.4 415.9L114.3 415.1L117.2 414.4L120.1 413.7L123.1 413.2L126.1 412.7L129.1 412.3L132.1 411.9L135.1 411.7L138.1 411.5L141.1 411.5L144.2 411.4L147.2 411.5L150.2 411.7L153.2 411.9L156.2 412.2L159.3 412.6L162.2 413.0L165.2 413.6L168.2 414.2L171.1 414.9L174.1 415.6L177.0 416.5L179.9 417.4L182.8 418.3L202.0 418.3L202.0 596.0L30.1 596.0Z" fill="#ff9c08"/>
<path d="M44.8 565.5L43.9 563.0L43.1 560.5L42.4 557.9L41.7 555.4L41.1 552.8L40.6 550.2L40.1 547.6L39.7 545.0L39.3 542.4L39.1 539.8L38.8 537.2L38.7 534.5L38.6 531.9L38.6 529.3L38.6 526.6L38.7 524.0L38.9 521.3L39.1 518.7L39.4 516.1L39.7 513.5L40.1 510.9L40.6 508.3L41.1 505.7L41.7 503.1L42.4 500.5L43.1 498.0L43.9 495.4L44.7 492.9L45.6 490.4L46.6 487.9L47.6 485.5L48.7 483.0L49.8 480.6L51.0 478.2L52.3 475.9L53.6 473.5L55.0 471.2L56.4 469.0L57.9 466.7L59.5 464.5L61.1 462.4L62.7 460.3L64.5 458.2L66.2 456.2L68.1 454.2L69.9 452.2L71.9 450.3L73.9 448.5L75.9 446.7L78.0 444.9L80.1 443.2L82.3 441.6L84.5 440.0L86.7 438.5L89.1 437.0L91.4 435.6L93.8 434.2L96.2 432.9L98.7 431.7L101.1 430.6L103.7 429.5L106.2 428.5L108.8 427.5L111.4 426.7L114.0 425.8L116.7 425.1L119.4 424.5L122.0 423.9L124.8 423.3L127.5 422.9L130.2 422.6L133.0 422.3L135.7 422.1L138.5 421.9L141.2 421.9L144.0 421.9L146.7 422.0L149.5 422.1L152.2 422.4L155.0 422.7L157.7 423.0L160.4 423.5L163.1 424.0L165.8 424.6L168.5 425.2L171.2 425.9L173.8 426.7L176.5 427.6L179.1 428.5L202.0 428.5L202.0 596.0L44.8 596.0Z" fill="#c4f214"/>
<path d="M46.2 565.0L45.3 562.5L44.5 560.0L43.8 557.6L43.1 555.0L42.5 552.5L41.9 550.0L41.4 547.4L41.0 544.8L40.7 542.3L40.4 539.7L40.2 537.1L40.0 534.5L39.9 531.9L39.9 529.3L39.9 526.7L40.0 524.1L40.1 521.4L40.3 518.8L40.6 516.3L40.9 513.7L41.3 511.1L41.8 508.5L42.3 505.9L42.8 503.4L43.5 500.8L44.2 498.3L44.9 495.8L45.7 493.3L46.6 490.8L47.6 488.3L48.6 485.9L49.6 483.5L50.7 481.1L51.9 478.7L53.2 476.4L54.5 474.1L55.8 471.8L57.2 469.5L58.7 467.3L60.2 465.2L61.8 463.0L63.5 460.9L65.2 458.8L66.9 456.8L68.7 454.8L70.6 452.9L72.5 451.0L74.5 449.2L76.5 447.4L78.5 445.7L80.7 444.0L82.8 442.4L85.0 440.8L87.2 439.3L89.5 437.8L91.8 436.4L94.2 435.1L96.6 433.8L99.0 432.6L101.5 431.5L104.0 430.4L106.5 429.4L109.1 428.4L111.7 427.6L114.3 426.8L116.9 426.0L119.6 425.4L122.2 424.8L124.9 424.3L127.6 423.9L130.3 423.5L133.0 423.2L135.8 423.0L138.5 422.9L141.2 422.8L144.0 422.9L146.7 423.0L149.4 423.1L152.1 423.3L154.9 423.6L157.6 424.0L160.3 424.5L163.0 425.0L165.6 425.5L168.3 426.2L170.9 426.9L173.5 427.7L176.1 428.5L178.7 429.4L202.0 429.4L202.0 596.0L46.2 596.0Z" fill="#0300b0"/>
<path d="M19.59 485.7V536.0M24.19 476.2V536.0M28.78 467.9V536.0M33.37 460.5V536.0M37.97 453.9V536.0M42.56 448.0V504.6M47.15 442.6V489.4M51.75 437.7V479.1M56.34 433.2V471.0M60.93 429.1V464.2M65.52 425.4V458.4M70.12 422.0V453.4M74.71 418.9V449.0M79.30 416.0V445.1M83.90 413.4V441.6M88.49 411.1V438.5M93.08 409.0V435.7M97.68 407.1V433.3M102.27 406.0V431.1M106.86 406.0V429.3M111.46 406.0V427.6M116.05 406.0V426.3M120.64 406.0V425.1M125.24 406.0V424.2M129.83 406.0V423.6M134.42 406.0V423.1M139.01 406.0V422.9" stroke="#4a5810" stroke-width="0.95" fill="none"/>
<ellipse cx="134.6" cy="427.3" rx="0.6" ry="2.4" fill="#00c4dc"/>
<ellipse cx="89" cy="518.3" rx="2.6" ry="0.9" fill="#00c4dc" transform="rotate(-25 89 518.3)"/>
<ellipse cx="105.7" cy="520.2" rx="1.8" ry="0.6" fill="#00c4dc" transform="rotate(20 105.7 520.2)"/>
<ellipse cx="96.9" cy="524.2" rx="0.7" ry="0.7" fill="#00c4dc"/>
<ellipse cx="115.5" cy="481.1" rx="0.6" ry="0.6" fill="#00c4dc"/>
<ellipse cx="52.8" cy="484" rx="0.6" ry="0.6" fill="#22e66a"/>
<ellipse cx="92.4" cy="508.5" rx="0.5" ry="0.5" fill="#00c4dc"/>
<ellipse cx="75.3" cy="534.3" rx="0.8" ry="0.8" fill="#22e66a"/>
<ellipse cx="138.5" cy="446.5" rx="0.5" ry="0.5" fill="#00c4dc"/>
<ellipse cx="102.5" cy="493" rx="0.5" ry="0.5" fill="#00c4dc"/>
</g></g>
<clipPath id="c_bTR"><rect x="152" y="405" width="128.0" height="130.0"/></clipPath>
<g filter="url(#bl)"><g clip-path="url(#c_bTR)">
<rect x="152" y="405" width="128.0" height="130.0" fill="#0300b0"/>
<rect x="151.50" y="394.54" width="5.63" height="139.56" fill="#58e838"/>
<rect x="156.13" y="394.89" width="5.63" height="139.21" fill="#58e838"/>
<rect x="160.76" y="395.40" width="5.63" height="138.70" fill="#58e838"/>
<rect x="165.39" y="396.06" width="5.63" height="138.04" fill="#58e838"/>
<rect x="170.02" y="396.88" width="5.63" height="137.22" fill="#58e838"/>
<rect x="174.65" y="397.85" width="5.63" height="136.25" fill="#58e838"/>
<rect x="179.28" y="398.99" width="5.63" height="135.11" fill="#58e838"/>
<rect x="183.91" y="400.29" width="5.63" height="133.81" fill="#58e838"/>
<rect x="188.53" y="401.77" width="5.63" height="132.33" fill="#58e838"/>
<rect x="193.16" y="403.42" width="5.63" height="130.68" fill="#58e838"/>
<rect x="197.79" y="405.26" width="5.63" height="128.84" fill="#58e838"/>
<rect x="202.42" y="407.29" width="5.63" height="126.81" fill="#58e838"/>
<rect x="207.05" y="409.53" width="5.63" height="124.57" fill="#58e838"/>
<rect x="211.68" y="411.98" width="5.63" height="122.12" fill="#58e838"/>
<rect x="216.31" y="414.66" width="5.63" height="119.44" fill="#58e838"/>
<rect x="220.94" y="417.58" width="5.63" height="116.52" fill="#58e838"/>
<rect x="225.57" y="420.77" width="5.63" height="113.33" fill="#58e838"/>
<rect x="230.20" y="424.23" width="5.63" height="109.87" fill="#58e838"/>
<rect x="234.83" y="428.01" width="5.63" height="106.09" fill="#58e838"/>
<rect x="239.46" y="432.13" width="5.63" height="101.97" fill="#58e838"/>
<rect x="244.09" y="436.64" width="5.63" height="97.46" fill="#58e838"/>
<rect x="248.72" y="441.58" width="5.63" height="92.52" fill="#58e838"/>
<rect x="253.34" y="447.03" width="5.63" height="87.07" fill="#58e838"/>
<rect x="257.97" y="453.10" width="5.63" height="81.00" fill="#58e838"/>
<rect x="262.60" y="459.90" width="5.63" height="74.20" fill="#58e838"/>
<rect x="267.23" y="467.68" width="5.63" height="66.42" fill="#58e838"/>
<rect x="271.86" y="476.79" width="5.63" height="57.31" fill="#58e838"/>
<rect x="276.49" y="487.93" width="5.63" height="46.17" fill="#58e838"/>
<rect x="152.00" y="395.44" width="4.93" height="139.56" fill="#9cf028"/>
<rect x="156.63" y="395.79" width="4.93" height="139.21" fill="#9cf028"/>
<rect x="161.26" y="396.30" width="4.93" height="138.70" fill="#9cf028"/>
<rect x="165.89" y="396.96" width="4.93" height="138.04" fill="#9cf028"/>
<rect x="170.52" y="397.78" width="4.93" height="137.22" fill="#9cf028"/>
<rect x="175.15" y="398.75" width="4.93" height="136.25" fill="#9cf028"/>
<rect x="179.78" y="399.89" width="4.93" height="135.11" fill="#9cf028"/>
<rect x="184.41" y="401.19" width="4.93" height="133.81" fill="#9cf028"/>
<rect x="189.03" y="402.67" width="4.93" height="132.33" fill="#9cf028"/>
<rect x="193.66" y="404.32" width="4.93" height="130.68" fill="#9cf028"/>
<rect x="198.29" y="406.16" width="4.93" height="128.84" fill="#9cf028"/>
<rect x="202.92" y="408.19" width="4.93" height="126.81" fill="#9cf028"/>
<rect x="207.55" y="410.43" width="4.93" height="124.57" fill="#9cf028"/>
<rect x="212.18" y="412.88" width="4.93" height="122.12" fill="#9cf028"/>
<rect x="216.81" y="415.56" width="4.93" height="119.44" fill="#9cf028"/>
<rect x="221.44" y="418.48" width="4.93" height="116.52" fill="#9cf028"/>
<rect x="226.07" y="421.67" width="4.93" height="113.33" fill="#9cf028"/>
<rect x="230.70" y="425.13" width="4.93" height="109.87" fill="#9cf028"/>
<rect x="235.33" y="428.91" width="4.93" height="106.09" fill="#9cf028"/>
<rect x="239.96" y="433.03" width="4.93" height="101.97" fill="#9cf028"/>
<rect x="244.59" y="437.54" width="4.93" height="97.46" fill="#9cf028"/>
<rect x="249.22" y="442.48" width="4.93" height="92.52" fill="#9cf028"/>
<rect x="253.84" y="447.93" width="4.93" height="87.07" fill="#9cf028"/>
<rect x="258.47" y="454.00" width="4.93" height="81.00" fill="#9cf028"/>
<rect x="263.10" y="460.80" width="4.93" height="74.20" fill="#9cf028"/>
<rect x="267.73" y="468.58" width="4.93" height="66.42" fill="#9cf028"/>
<rect x="272.36" y="477.69" width="4.93" height="57.31" fill="#9cf028"/>
<rect x="276.99" y="488.83" width="4.93" height="46.17" fill="#9cf028"/>
<path d="M99.9 406.4L103.3 405.2L106.8 404.2L110.2 403.2L113.7 402.4L117.1 401.6L120.6 400.9L124.2 400.3L127.7 399.8L131.2 399.3L134.8 399.0L138.3 398.8L141.9 398.6L145.4 398.6L149.0 398.6L152.6 398.7L156.1 398.9L159.6 399.2L163.2 399.6L166.7 400.1L170.2 400.7L173.7 401.3L177.2 402.1L180.6 402.9L184.0 403.8L187.4 404.9L190.8 406.0L194.1 407.1L197.4 408.4L200.7 409.8L203.9 411.2L207.1 412.7L210.3 414.3L213.4 416.0L216.5 417.7L219.5 419.6L222.4 421.5L225.4 423.5L228.2 425.5L231.0 427.6L233.8 429.8L236.5 432.1L239.1 434.4L241.7 436.8L244.2 439.3L246.7 441.8L249.1 444.4L251.4 447.0L253.6 449.7L255.8 452.5L257.9 455.3L259.9 458.2L261.9 461.1L263.8 464.0L265.6 467.0L267.4 470.1L269.0 473.1L270.6 476.3L272.1 479.4L273.6 482.6L274.9 485.8L276.2 489.1L277.4 492.4L278.5 495.7L279.5 499.1L280.4 502.4L281.3 505.8L282.0 509.2L282.7 512.7L283.3 516.1L283.8 519.6L284.2 523.1L284.5 526.5L284.8 530.0L284.9 533.5L285.0 537.0L284.9 540.5L284.8 544.0L284.6 547.5L284.3 551.0L283.9 554.4L283.4 557.9L282.8 561.3L282.2 564.8L281.4 568.2L280.6 571.6L279.7 574.9L278.7 578.3L277.6 581.6L276.4 584.9L276.4 595.0L92.0 595.0L92.0 406.4Z" fill="#c4f214"/>
<path d="M102.2 412.6L105.4 411.5L108.7 410.5L112.0 409.6L115.3 408.7L118.6 408.0L121.9 407.3L125.3 406.7L128.6 406.2L132.0 405.8L135.4 405.5L138.8 405.2L142.2 405.1L145.6 405.0L149.0 405.1L152.3 405.2L155.7 405.4L159.1 405.6L162.5 406.0L165.8 406.5L169.2 407.0L172.5 407.6L175.8 408.3L179.1 409.1L182.4 410.0L185.6 410.9L188.8 412.0L192.0 413.1L195.2 414.3L198.3 415.6L201.4 416.9L204.5 418.4L207.5 419.9L210.5 421.5L213.4 423.1L216.3 424.9L219.1 426.7L221.9 428.6L224.7 430.5L227.4 432.5L230.0 434.6L232.6 436.8L235.1 439.0L237.6 441.3L240.0 443.6L242.4 446.0L244.6 448.5L246.9 451.0L249.0 453.6L251.1 456.2L253.2 458.9L255.1 461.6L257.0 464.4L258.8 467.2L260.6 470.1L262.3 473.0L263.9 475.9L265.4 478.9L266.9 481.9L268.2 485.0L269.5 488.1L270.8 491.2L271.9 494.3L273.0 497.5L273.9 500.7L274.8 503.9L275.7 507.2L276.4 510.5L277.1 513.7L277.6 517.0L278.1 520.4L278.5 523.7L278.8 527.0L279.0 530.4L279.2 533.7L279.2 537.1L279.2 540.4L279.1 543.7L278.9 547.1L278.6 550.4L278.2 553.8L277.8 557.1L277.2 560.4L276.6 563.7L275.9 566.9L275.1 570.2L274.3 573.4L273.3 576.6L272.3 579.8L271.1 583.0L271.1 595.0L92.0 595.0L92.0 412.6Z" fill="#e2ee18"/>
<path d="M103.9 417.2L107.0 416.1L110.1 415.1L113.3 414.2L116.5 413.4L119.7 412.7L122.9 412.1L126.1 411.5L129.3 411.0L132.6 410.6L135.8 410.3L139.1 410.0L142.4 409.9L145.7 409.8L148.9 409.8L152.2 409.9L155.5 410.1L158.7 410.4L162.0 410.7L165.2 411.1L168.4 411.7L171.6 412.2L174.8 412.9L178.0 413.7L181.2 414.5L184.3 415.4L187.4 416.4L190.5 417.5L193.5 418.6L196.6 419.9L199.5 421.2L202.5 422.5L205.4 424.0L208.3 425.5L211.1 427.1L213.9 428.8L216.7 430.5L219.4 432.3L222.0 434.2L224.6 436.1L227.2 438.2L229.7 440.2L232.2 442.4L234.6 444.6L236.9 446.8L239.2 449.1L241.4 451.5L243.6 453.9L245.7 456.4L247.7 458.9L249.7 461.5L251.6 464.1L253.4 466.8L255.2 469.5L256.9 472.3L258.5 475.1L260.1 477.9L261.5 480.8L262.9 483.8L264.3 486.7L265.6 489.7L266.7 492.7L267.9 495.8L268.9 498.8L269.8 501.9L270.7 505.0L271.5 508.2L272.2 511.3L272.9 514.5L273.4 517.7L273.9 520.9L274.3 524.1L274.6 527.4L274.8 530.6L275.0 533.8L275.0 537.1L275.0 540.3L274.9 543.6L274.7 546.8L274.4 550.0L274.1 553.2L273.6 556.5L273.1 559.7L272.5 562.8L271.8 566.0L271.1 569.2L270.2 572.3L269.3 575.4L268.3 578.5L267.2 581.5L267.2 595.0L92.0 595.0L92.0 417.2Z" fill="#ff9c08"/>
<path d="M108.2 429.1L111.0 428.1L113.9 427.2L116.7 426.4L119.6 425.6L122.4 424.9L125.3 424.3L128.2 423.8L131.2 423.4L134.1 423.0L137.0 422.7L140.0 422.4L142.9 422.3L145.9 422.2L148.8 422.2L151.8 422.3L154.7 422.4L157.7 422.6L160.6 422.9L163.6 423.3L166.5 423.7L169.4 424.2L172.3 424.8L175.2 425.5L178.0 426.2L180.9 427.0L183.7 427.9L186.5 428.9L189.2 429.9L192.0 431.0L194.7 432.1L197.4 433.3L200.0 434.6L202.7 436.0L205.3 437.4L207.8 438.9L210.3 440.5L212.8 442.1L215.2 443.8L217.6 445.5L219.9 447.3L222.2 449.2L224.5 451.1L226.7 453.0L228.8 455.1L230.9 457.2L233.0 459.3L235.0 461.5L236.9 463.7L238.8 466.0L240.6 468.3L242.3 470.7L244.0 473.1L245.7 475.6L247.2 478.1L248.7 480.7L250.2 483.2L251.5 485.9L252.9 488.5L254.1 491.2L255.3 493.9L256.4 496.7L257.4 499.4L258.4 502.2L259.2 505.1L260.1 507.9L260.8 510.8L261.5 513.7L262.1 516.6L262.6 519.5L263.0 522.4L263.4 525.3L263.7 528.3L263.9 531.2L264.0 534.2L264.1 537.2L264.1 540.1L264.0 543.1L263.8 546.0L263.6 549.0L263.3 551.9L262.9 554.9L262.4 557.8L261.9 560.7L261.3 563.6L260.6 566.5L259.9 569.4L259.0 572.2L258.1 575.0L257.1 577.8L257.1 595.0L92.0 595.0L92.0 429.1Z" fill="#c4f214"/>
<path d="M108.6 430.2L111.4 429.2L114.2 428.3L117.0 427.5L119.8 426.7L122.7 426.1L125.5 425.5L128.4 424.9L131.3 424.5L134.2 424.1L137.1 423.8L140.1 423.6L143.0 423.4L145.9 423.3L148.8 423.3L151.8 423.4L154.7 423.5L157.6 423.7L160.5 424.0L163.4 424.4L166.3 424.8L169.2 425.3L172.0 425.9L174.9 426.6L177.7 427.3L180.5 428.1L183.3 429.0L186.1 429.9L188.9 430.9L191.6 432.0L194.3 433.1L196.9 434.3L199.6 435.6L202.2 436.9L204.7 438.4L207.3 439.8L209.7 441.4L212.2 443.0L214.6 444.6L217.0 446.3L219.3 448.1L221.6 450.0L223.8 451.9L226.0 453.8L228.1 455.8L230.2 457.9L232.2 460.0L234.2 462.2L236.1 464.4L238.0 466.6L239.8 469.0L241.5 471.3L243.2 473.7L244.8 476.2L246.4 478.6L247.8 481.2L249.3 483.7L250.6 486.3L251.9 488.9L253.2 491.6L254.3 494.3L255.4 497.0L256.4 499.8L257.4 502.6L258.3 505.3L259.1 508.2L259.8 511.0L260.5 513.9L261.1 516.7L261.6 519.6L262.0 522.5L262.4 525.5L262.7 528.4L262.9 531.3L263.0 534.2L263.1 537.2L263.1 540.1L263.0 543.0L262.9 546.0L262.6 548.9L262.3 551.8L261.9 554.7L261.5 557.6L260.9 560.5L260.3 563.4L259.7 566.3L258.9 569.1L258.1 571.9L257.2 574.7L256.2 577.5L256.2 595.0L92.0 595.0L92.0 430.2Z" fill="#0300b0"/>
<path d="M156.63 405.0V423.7M161.26 405.0V424.1M165.89 405.0V424.8M170.52 405.0V425.6M175.15 405.0V426.6M179.78 405.0V427.9M184.41 405.0V429.3M189.03 405.0V431.0M193.66 405.0V432.9M198.29 405.2V435.0M202.92 407.2V437.4M207.55 409.3V440.0M212.18 411.6V443.0M216.81 414.2V446.2M221.44 417.0V449.9M226.07 420.0V453.9M230.70 423.4V458.4M235.33 427.0V463.5M239.96 430.9V469.2M244.59 435.2V475.8M249.22 439.9V483.6M253.84 445.1V493.2M258.47 450.9V506.0M263.10 457.3V535.0M267.73 464.6V535.0M272.36 472.9V535.0M276.99 482.9V535.0" stroke="#4a5810" stroke-width="0.95" fill="none"/>
<ellipse cx="177.4" cy="430.4" rx="0.6" ry="1.8" fill="#00c4dc"/>
<ellipse cx="177" cy="476.8" rx="0.9" ry="0.9" fill="#22e66a"/>
<ellipse cx="203.6" cy="488.9" rx="0.8" ry="0.8" fill="#00c4dc"/>
<ellipse cx="208.7" cy="501.7" rx="1.3" ry="0.8" fill="#22e66a" transform="rotate(20 208.7 501.7)"/>
<ellipse cx="230.3" cy="500.5" rx="1.1" ry="1.1" fill="#00c4dc"/>
<ellipse cx="210.7" cy="453.6" rx="0.8" ry="0.8" fill="#00c4dc"/>
<ellipse cx="211.7" cy="493" rx="0.7" ry="0.7" fill="#22e66a"/>
<ellipse cx="245" cy="509" rx="0.6" ry="1.3" fill="#22e66a" transform="rotate(-40 245 509)"/>
<ellipse cx="160.2" cy="524.3" rx="0.7" ry="2.2" fill="#00c4dc" transform="rotate(-45 160.2 524.3)"/>
<ellipse cx="171.3" cy="529.3" rx="0.9" ry="0.9" fill="#22e66a"/>
<ellipse cx="209.7" cy="527.3" rx="1.2" ry="1.2" fill="#0090d8"/>
<ellipse cx="229.9" cy="530.8" rx="0.8" ry="0.8" fill="#00c4dc"/>
<ellipse cx="256.2" cy="532.4" rx="0.8" ry="0.8" fill="#22e66a"/>
<ellipse cx="186.5" cy="519.8" rx="0.9" ry="0.9" fill="#00c4dc"/>
<ellipse cx="202.6" cy="511.2" rx="0.7" ry="0.7" fill="#00c4dc"/>
<ellipse cx="160.2" cy="500" rx="0.7" ry="0.7" fill="#00c4dc"/>
<ellipse cx="167.3" cy="483.9" rx="0.7" ry="0.7" fill="#00c4dc"/>
<ellipse cx="176.4" cy="464.7" rx="0.8" ry="0.8" fill="#00c4dc"/>
<ellipse cx="205.8" cy="447" rx="0.6" ry="0.6" fill="#00c4dc"/>
<ellipse cx="221" cy="496" rx="0.6" ry="0.6" fill="#00c4dc"/>
<ellipse cx="218.5" cy="528" rx="0.6" ry="0.6" fill="#00c4dc"/>
<ellipse cx="189.0" cy="450.6" rx="0.45" ry="0.45" fill="#0a7ad0"/>
<ellipse cx="211.9" cy="471.5" rx="0.45" ry="0.45" fill="#0a7ad0"/>
<ellipse cx="160.3" cy="485.2" rx="0.45" ry="0.45" fill="#0a7ad0"/>
<ellipse cx="158.0" cy="478.1" rx="0.45" ry="0.45" fill="#0a7ad0"/>
<ellipse cx="161.5" cy="444.8" rx="0.45" ry="0.45" fill="#0a7ad0"/>
<ellipse cx="199.8" cy="516.2" rx="0.45" ry="0.45" fill="#0a7ad0"/>
<ellipse cx="167.4" cy="457.7" rx="0.45" ry="0.45" fill="#0a7ad0"/>
<ellipse cx="221.8" cy="527.9" rx="0.45" ry="0.45" fill="#0a7ad0"/>
<ellipse cx="216.3" cy="474.5" rx="0.45" ry="0.45" fill="#0a7ad0"/>
<ellipse cx="169.6" cy="447.4" rx="0.45" ry="0.45" fill="#0a7ad0"/>
<ellipse cx="187.3" cy="515.2" rx="0.45" ry="0.45" fill="#0a7ad0"/>
<ellipse cx="173.5" cy="492.4" rx="0.45" ry="0.45" fill="#0a7ad0"/>
<ellipse cx="223.0" cy="472.1" rx="0.45" ry="0.45" fill="#0a7ad0"/>
<ellipse cx="160.4" cy="456.0" rx="0.45" ry="0.45" fill="#0a7ad0"/>
<ellipse cx="227.5" cy="477.5" rx="0.45" ry="0.45" fill="#0a7ad0"/>
<ellipse cx="187.9" cy="492.8" rx="0.45" ry="0.45" fill="#0a7ad0"/>
<ellipse cx="202.9" cy="465.1" rx="0.45" ry="0.45" fill="#0a7ad0"/>
<ellipse cx="239.8" cy="503.8" rx="0.45" ry="0.45" fill="#0a7ad0"/>
<ellipse cx="180.4" cy="491.7" rx="0.45" ry="0.45" fill="#0a7ad0"/>
<ellipse cx="210.7" cy="520.9" rx="0.45" ry="0.45" fill="#0a7ad0"/>
<ellipse cx="199.2" cy="509.4" rx="0.45" ry="0.45" fill="#0a7ad0"/>
<ellipse cx="170.4" cy="483.4" rx="0.45" ry="0.45" fill="#0a7ad0"/>
<ellipse cx="158.2" cy="500.8" rx="0.45" ry="0.45" fill="#0a7ad0"/>
<ellipse cx="236.6" cy="491.6" rx="0.45" ry="0.45" fill="#0a7ad0"/>
<ellipse cx="229.1" cy="493.7" rx="0.45" ry="0.45" fill="#0a7ad0"/>
<ellipse cx="216.6" cy="480.3" rx="0.45" ry="0.45" fill="#0a7ad0"/>
<ellipse cx="244.7" cy="527.6" rx="0.45" ry="0.45" fill="#0a7ad0"/>
<ellipse cx="205.2" cy="500.4" rx="0.45" ry="0.45" fill="#0a7ad0"/>
<ellipse cx="160.6" cy="504.0" rx="0.45" ry="0.45" fill="#0a7ad0"/>
<ellipse cx="223.9" cy="532.3" rx="0.45" ry="0.45" fill="#0a7ad0"/>
<ellipse cx="195.7" cy="500.9" rx="0.45" ry="0.45" fill="#0a7ad0"/>
<ellipse cx="156.4" cy="480.8" rx="0.45" ry="0.45" fill="#0a7ad0"/>
<ellipse cx="172.1" cy="447.4" rx="0.45" ry="0.45" fill="#0a7ad0"/>
<ellipse cx="160.4" cy="510.5" rx="0.45" ry="0.45" fill="#0a7ad0"/>
<ellipse cx="168.0" cy="460.0" rx="0.45" ry="0.45" fill="#0a7ad0"/>
<ellipse cx="196.2" cy="520.5" rx="0.45" ry="0.45" fill="#0a7ad0"/>
<ellipse cx="162.7" cy="479.6" rx="0.45" ry="0.45" fill="#0a7ad0"/>
<ellipse cx="213.3" cy="521.7" rx="0.45" ry="0.45" fill="#0a7ad0"/>
<ellipse cx="242.5" cy="519.8" rx="0.45" ry="0.45" fill="#0a7ad0"/>
<ellipse cx="184.1" cy="476.3" rx="0.45" ry="0.45" fill="#0a7ad0"/>
<ellipse cx="192.7" cy="521.8" rx="0.45" ry="0.45" fill="#0a7ad0"/>
<ellipse cx="173.0" cy="458.5" rx="0.45" ry="0.45" fill="#0a7ad0"/>
<ellipse cx="179.2" cy="483.0" rx="0.45" ry="0.45" fill="#0a7ad0"/>
<ellipse cx="217.6" cy="461.5" rx="0.45" ry="0.45" fill="#0a7ad0"/>
<ellipse cx="154.4" cy="476.6" rx="0.45" ry="0.45" fill="#0a7ad0"/>
<ellipse cx="193.9" cy="490.9" rx="0.45" ry="0.45" fill="#0a7ad0"/>
<ellipse cx="209.7" cy="495.9" rx="0.45" ry="0.45" fill="#0a7ad0"/>
<ellipse cx="251.1" cy="511.7" rx="0.45" ry="0.45" fill="#0a7ad0"/>
<ellipse cx="248.4" cy="513.4" rx="0.45" ry="0.45" fill="#0a7ad0"/>
<ellipse cx="196.4" cy="474.7" rx="0.45" ry="0.45" fill="#0a7ad0"/>
<ellipse cx="165.2" cy="497.5" rx="0.45" ry="0.45" fill="#0a7ad0"/>
<ellipse cx="160.7" cy="442.5" rx="0.45" ry="0.45" fill="#0a7ad0"/>
<ellipse cx="176.5" cy="451.7" rx="0.45" ry="0.45" fill="#0a7ad0"/>
<ellipse cx="190.7" cy="441.1" rx="0.45" ry="0.45" fill="#0a7ad0"/>
<ellipse cx="154.0" cy="450.7" rx="0.45" ry="0.45" fill="#0a7ad0"/>
<ellipse cx="165.0" cy="471.3" rx="0.45" ry="0.45" fill="#0a7ad0"/>
<ellipse cx="156.8" cy="520.8" rx="0.45" ry="0.45" fill="#0a7ad0"/>
<ellipse cx="181.2" cy="469.7" rx="0.45" ry="0.45" fill="#0a7ad0"/>
</g></g>
<clipPath id="c_bBL"><rect x="15" y="547" width="129.0" height="130.0"/></clipPath>
<g filter="url(#bl)"><g clip-path="url(#c_bBL)">
<rect x="15" y="547" width="129.0" height="130.0" fill="#0300b0"/>
<path d="M188.1 675.4L184.8 676.4L181.5 677.2L178.2 678.0L174.8 678.7L171.5 679.3L168.1 679.8L164.7 680.2L161.3 680.6L157.9 680.8L154.6 681.0L151.2 681.1L147.8 681.1L144.4 681.0L141.1 680.8L137.7 680.6L134.4 680.2L131.0 679.8L127.7 679.3L124.4 678.7L121.1 678.0L117.9 677.2L114.7 676.3L111.5 675.4L108.3 674.4L105.2 673.3L102.1 672.1L99.1 670.8L96.1 669.4L93.1 668.0L90.2 666.5L87.3 665.0L84.4 663.3L81.6 661.6L78.9 659.9L76.2 658.0L73.5 656.1L70.9 654.2L68.4 652.2L65.9 650.2L63.4 648.1L61.0 645.9L58.6 643.7L56.3 641.5L54.1 639.2L51.8 636.9L49.7 634.5L47.5 632.1L45.4 629.7L43.4 627.2L41.4 624.7L39.4 622.2L37.5 619.6L35.6 617.0L33.8 614.3L32.0 611.6L30.2 608.9L28.5 606.2L26.8 603.4L25.1 600.6L23.5 597.7L21.9 594.8L20.3 591.9L18.8 588.9L17.2 585.9L15.8 582.9L14.3 579.8L12.9 576.7L11.7 573.5L10.4 570.3L9.3 567.0L8.3 563.7L7.3 560.3L6.4 556.9L5.6 553.5L4.9 550.0L4.3 546.5L3.8 542.9L3.3 539.4L3.0 535.8L2.7 532.2L2.6 528.5L2.5 524.9L2.6 521.2L2.7 517.5L2.9 513.8L3.3 510.1L3.7 506.4L4.2 502.7L4.8 498.9L4.8 487.0L204.0 487.0L204.0 675.4Z" fill="#58f030"/>
<path d="M187.8 674.3L184.5 675.3L181.2 676.1L177.9 676.9L174.6 677.6L171.2 678.2L167.9 678.7L164.5 679.2L161.2 679.5L157.8 679.8L154.5 680.0L151.1 680.0L147.7 680.0L144.4 680.0L141.1 679.8L137.7 679.5L134.4 679.2L131.1 678.8L127.8 678.3L124.6 677.7L121.3 677.0L118.1 676.2L114.9 675.4L111.7 674.5L108.6 673.4L105.5 672.3L102.4 671.2L99.4 669.9L96.4 668.6L93.4 667.2L90.5 665.7L87.7 664.1L84.9 662.5L82.1 660.8L79.3 659.1L76.7 657.3L74.0 655.4L71.4 653.5L68.9 651.5L66.4 649.5L64.0 647.4L61.6 645.2L59.2 643.1L56.9 640.8L54.7 638.6L52.5 636.3L50.3 633.9L48.2 631.5L46.1 629.1L44.1 626.7L42.1 624.2L40.2 621.6L38.3 619.1L36.4 616.5L34.6 613.8L32.8 611.2L31.1 608.5L29.3 605.7L27.7 603.0L26.0 600.2L24.4 597.3L22.9 594.4L21.3 591.5L19.8 588.6L18.3 585.6L16.9 582.6L15.5 579.5L14.1 576.4L12.9 573.3L11.7 570.1L10.6 566.8L9.6 563.5L8.6 560.2L7.8 556.8L7.0 553.4L6.3 550.0L5.8 546.5L5.2 543.0L4.8 539.5L4.5 535.9L4.3 532.3L4.1 528.7L4.1 525.1L4.2 521.5L4.3 517.9L4.6 514.2L4.9 510.5L5.3 506.9L5.9 503.2L6.5 499.5L6.5 487.0L204.0 487.0L204.0 674.3Z" fill="#ffa000"/>
<path d="M186.9 671.9L183.7 672.9L180.4 673.7L177.2 674.5L173.9 675.2L170.7 675.8L167.4 676.3L164.1 676.8L160.8 677.1L157.5 677.4L154.2 677.6L150.9 677.7L147.6 677.7L144.4 677.6L141.1 677.5L137.8 677.2L134.5 676.9L131.3 676.5L128.1 676.0L124.9 675.4L121.7 674.8L118.5 674.1L115.3 673.2L112.2 672.3L109.1 671.4L106.1 670.3L103.1 669.1L100.1 667.9L97.1 666.6L94.2 665.2L91.4 663.8L88.6 662.2L85.8 660.7L83.0 659.0L80.4 657.3L77.7 655.5L75.1 653.7L72.6 651.8L70.1 649.8L67.6 647.9L65.2 645.8L62.9 643.7L60.5 641.6L58.3 639.4L56.1 637.2L53.9 634.9L51.8 632.6L49.7 630.2L47.7 627.8L45.7 625.4L43.7 622.9L41.8 620.4L40.0 617.9L38.2 615.3L36.4 612.7L34.7 610.1L33.0 607.4L31.3 604.7L29.7 602.0L28.1 599.2L26.6 596.4L25.1 593.6L23.6 590.7L22.2 587.8L20.8 584.9L19.4 581.9L18.1 578.9L16.8 575.9L15.6 572.8L14.5 569.6L13.5 566.4L12.5 563.2L11.7 559.9L10.9 556.6L10.2 553.3L9.6 550.0L9.0 546.6L8.6 543.1L8.2 539.7L7.9 536.2L7.8 532.8L7.7 529.3L7.7 525.7L7.8 522.2L7.9 518.7L8.2 515.1L8.6 511.6L9.1 508.0L9.6 504.5L10.3 500.9L10.3 487.0L204.0 487.0L204.0 671.9Z" fill="#ffc400"/>
<path d="M185.4 667.9L182.3 668.8L179.2 669.7L176.1 670.4L172.9 671.1L169.8 671.7L166.6 672.3L163.4 672.7L160.2 673.1L157.0 673.4L153.9 673.6L150.7 673.7L147.5 673.8L144.3 673.7L141.1 673.6L137.9 673.4L134.8 673.1L131.6 672.7L128.5 672.3L125.4 671.7L122.3 671.1L119.2 670.4L116.1 669.7L113.1 668.8L110.1 667.9L107.1 666.8L104.2 665.7L101.3 664.6L98.4 663.3L95.6 662.0L92.8 660.6L90.0 659.1L87.3 657.6L84.7 656.0L82.0 654.3L79.5 652.6L76.9 650.8L74.4 649.0L72.0 647.1L69.6 645.2L67.3 643.2L65.0 641.2L62.7 639.1L60.5 636.9L58.4 634.8L56.3 632.6L54.2 630.3L52.2 628.0L50.3 625.7L48.3 623.3L46.5 620.9L44.6 618.4L42.9 616.0L41.1 613.4L39.4 610.9L37.8 608.3L36.2 605.7L34.6 603.1L33.1 600.4L31.6 597.7L30.2 594.9L28.8 592.2L27.4 589.4L26.1 586.6L24.8 583.7L23.6 580.8L22.4 577.9L21.2 574.9L20.2 571.9L19.2 568.9L18.3 565.8L17.5 562.7L16.7 559.5L16.0 556.3L15.4 553.1L14.9 549.9L14.5 546.7L14.1 543.4L13.8 540.1L13.6 536.8L13.5 533.5L13.5 530.1L13.6 526.8L13.8 523.4L14.0 520.1L14.3 516.7L14.8 513.3L15.3 509.9L15.9 506.6L16.6 503.2L16.6 487.0L204.0 487.0L204.0 667.9Z" fill="#ffb000"/>
<path d="M184.5 665.4L181.5 666.4L178.4 667.2L175.4 668.0L172.3 668.7L169.2 669.3L166.1 669.8L163.0 670.3L159.9 670.7L156.8 671.0L153.6 671.2L150.5 671.3L147.4 671.4L144.2 671.4L141.1 671.3L138.0 671.1L134.9 670.8L131.8 670.5L128.7 670.0L125.7 669.5L122.6 668.9L119.6 668.3L116.6 667.5L113.6 666.7L110.6 665.8L107.7 664.8L104.8 663.7L102.0 662.5L99.2 661.3L96.4 660.0L93.6 658.7L90.9 657.2L88.2 655.7L85.6 654.2L83.0 652.6L80.5 650.9L78.0 649.1L75.6 647.3L73.2 645.5L70.8 643.6L68.5 641.6L66.3 639.6L64.1 637.6L61.9 635.5L59.8 633.3L57.7 631.2L55.7 628.9L53.7 626.7L51.8 624.4L49.9 622.0L48.1 619.6L46.3 617.2L44.6 614.8L42.9 612.3L41.3 609.8L39.7 607.2L38.1 604.7L36.6 602.1L35.1 599.4L33.7 596.8L32.4 594.1L31.0 591.3L29.7 588.6L28.5 585.8L27.3 583.0L26.1 580.1L25.0 577.2L23.9 574.3L22.9 571.4L22.0 568.4L21.2 565.4L20.4 562.3L19.7 559.3L19.1 556.2L18.6 553.0L18.1 549.9L17.7 546.7L17.4 543.5L17.2 540.3L17.1 537.1L17.0 533.9L17.0 530.6L17.2 527.4L17.4 524.1L17.6 520.9L18.0 517.6L18.5 514.4L19.0 511.1L19.6 507.8L20.4 504.6L20.4 487.0L204.0 487.0L204.0 665.4Z" fill="#ffc600"/>
<path d="M183.2 661.9L180.3 662.9L177.4 663.7L174.4 664.5L171.4 665.2L168.4 665.8L165.4 666.3L162.4 666.8L159.4 667.2L156.3 667.5L153.3 667.7L150.3 667.9L147.2 668.0L144.2 668.0L141.1 667.9L138.1 667.7L135.1 667.5L132.1 667.2L129.1 666.8L126.1 666.3L123.1 665.8L120.2 665.1L117.2 664.4L114.3 663.6L111.5 662.7L108.6 661.8L105.8 660.8L103.0 659.6L100.2 658.5L97.5 657.2L94.8 655.9L92.2 654.5L89.6 653.1L87.0 651.6L84.5 650.0L82.0 648.4L79.6 646.7L77.2 644.9L74.9 643.1L72.6 641.3L70.3 639.4L68.1 637.4L66.0 635.4L63.8 633.4L61.8 631.3L59.8 629.2L57.8 627.0L55.9 624.8L54.0 622.5L52.2 620.2L50.5 617.9L48.8 615.5L47.1 613.1L45.5 610.7L43.9 608.2L42.4 605.7L40.9 603.2L39.5 600.6L38.1 598.0L36.8 595.4L35.5 592.8L34.2 590.1L33.0 587.4L31.9 584.7L30.8 581.9L29.7 579.2L28.7 576.3L27.8 573.5L26.9 570.6L26.1 567.7L25.3 564.8L24.7 561.9L24.1 558.9L23.6 555.9L23.1 552.9L22.8 549.9L22.5 546.8L22.2 543.7L22.1 540.7L22.0 537.6L22.0 534.5L22.1 531.4L22.3 528.3L22.6 525.2L22.9 522.1L23.3 519.0L23.8 515.9L24.4 512.8L25.1 509.7L25.8 506.6L25.8 487.0L204.0 487.0L204.0 661.9Z" fill="#fad808"/>
<path d="M182.6 660.3L179.8 661.2L176.9 662.1L173.9 662.9L171.0 663.6L168.0 664.2L165.1 664.7L162.1 665.2L159.1 665.6L156.1 665.9L153.1 666.2L150.1 666.3L147.1 666.4L144.2 666.4L141.2 666.4L138.2 666.2L135.2 666.0L132.2 665.7L129.2 665.3L126.3 664.8L123.4 664.3L120.4 663.7L117.6 663.0L114.7 662.2L111.8 661.3L109.0 660.4L106.2 659.4L103.5 658.3L100.7 657.2L98.1 655.9L95.4 654.6L92.8 653.3L90.2 651.9L87.7 650.4L85.2 648.8L82.7 647.2L80.3 645.6L77.9 643.8L75.6 642.1L73.4 640.2L71.1 638.3L69.0 636.4L66.8 634.4L64.7 632.4L62.7 630.3L60.7 628.2L58.8 626.1L56.9 623.9L55.1 621.6L53.3 619.4L51.6 617.1L49.9 614.7L48.2 612.3L46.7 609.9L45.1 607.5L43.6 605.0L42.2 602.5L40.8 600.0L39.5 597.4L38.2 594.8L36.9 592.2L35.7 589.5L34.6 586.9L33.5 584.2L32.4 581.5L31.4 578.7L30.4 575.9L29.5 573.1L28.7 570.3L28.0 567.4L27.3 564.6L26.7 561.7L26.1 558.7L25.6 555.8L25.2 552.8L24.9 549.8L24.6 546.9L24.4 543.8L24.3 540.8L24.3 537.8L24.4 534.8L24.5 531.7L24.7 528.7L25.0 525.7L25.3 522.6L25.8 519.6L26.3 516.5L26.9 513.5L27.6 510.5L28.3 507.5L28.3 487.0L204.0 487.0L204.0 660.3Z" fill="#e0ee24"/>
<path d="M179.7 652.2L177.0 653.1L174.4 654.0L171.7 654.7L168.9 655.4L166.2 656.1L163.5 656.6L160.7 657.1L158.0 657.6L155.2 657.9L152.4 658.2L149.6 658.4L146.8 658.6L144.0 658.6L141.2 658.6L138.4 658.5L135.6 658.4L132.8 658.1L130.1 657.8L127.3 657.4L124.5 657.0L121.8 656.4L119.1 655.8L116.4 655.1L113.7 654.3L111.1 653.5L108.4 652.6L105.8 651.6L103.3 650.6L100.7 649.5L98.2 648.3L95.7 647.0L93.3 645.7L90.9 644.4L88.5 642.9L86.2 641.4L83.9 639.9L81.7 638.3L79.5 636.6L77.4 634.9L75.3 633.1L73.2 631.3L71.2 629.5L69.3 627.5L67.4 625.6L65.5 623.6L63.7 621.5L61.9 619.4L60.2 617.3L58.6 615.2L57.0 613.0L55.5 610.7L54.0 608.4L52.6 606.1L51.2 603.8L49.9 601.4L48.6 599.1L47.4 596.6L46.3 594.2L45.2 591.7L44.1 589.2L43.1 586.7L42.2 584.2L41.3 581.6L40.5 579.0L39.8 576.5L39.1 573.8L38.4 571.2L37.9 568.6L37.3 565.9L36.9 563.3L36.5 560.6L36.2 557.9L35.9 555.2L35.7 552.5L35.6 549.8L35.5 547.1L35.5 544.3L35.6 541.6L35.7 538.9L35.9 536.2L36.2 533.5L36.5 530.7L37.0 528.0L37.4 525.4L38.0 522.7L38.6 520.0L39.3 517.3L40.1 514.7L40.9 512.1L40.9 487.0L204.0 487.0L204.0 652.2Z" fill="#ff9a08"/>
<path d="M184.8 666.2L181.8 667.2L178.7 668.0L175.6 668.8L172.5 669.5L169.4 670.1L166.3 670.7L163.1 671.1L160.0 671.5L156.9 671.8L153.7 672.0L150.6 672.1L147.4 672.2L144.3 672.2L141.1 672.0L138.0 671.8L134.9 671.6L131.7 671.2L128.6 670.8L125.6 670.3L122.5 669.7L119.4 669.0L116.4 668.2L113.4 667.4L110.5 666.5L107.5 665.5L104.6 664.4L101.7 663.2L98.9 662.0L96.1 660.7L93.3 659.3L90.6 657.9L87.9 656.4L85.3 654.8L82.7 653.2L80.2 651.5L77.7 649.7L75.2 647.9L72.8 646.0L70.4 644.1L68.1 642.2L65.8 640.1L63.6 638.1L61.4 636.0L59.3 633.8L57.2 631.6L55.2 629.4L53.2 627.1L51.3 624.8L49.4 622.4L47.6 620.1L45.8 617.6L44.0 615.2L42.3 612.7L40.7 610.2L39.0 607.6L37.5 605.0L36.0 602.4L34.5 599.7L33.0 597.1L31.6 594.4L30.3 591.6L29.0 588.8L27.7 586.0L26.4 583.2L25.3 580.4L24.1 577.5L23.0 574.5L22.0 571.6L21.1 568.6L20.2 565.5L19.4 562.4L18.7 559.3L18.1 556.2L17.5 553.1L17.0 549.9L16.6 546.7L16.3 543.5L16.1 540.3L15.9 537.0L15.9 533.7L15.9 530.5L16.0 527.2L16.2 523.9L16.4 520.6L16.8 517.3L17.2 514.0L17.8 510.7L18.4 507.4L19.1 504.1" fill="none" stroke="#ff6a00" stroke-width="0.7"/>
<path d="M178.3 648.4L175.8 649.3L173.2 650.2L170.6 650.9L168.0 651.7L165.4 652.3L162.7 652.9L160.1 653.4L157.4 653.8L154.7 654.2L152.0 654.5L149.3 654.7L146.6 654.9L143.9 655.0L141.2 655.0L138.5 654.9L135.8 654.8L133.1 654.6L130.4 654.3L127.8 654.0L125.1 653.5L122.4 653.0L119.8 652.5L117.2 651.8L114.6 651.1L112.0 650.3L109.5 649.4L106.9 648.5L104.4 647.5L102.0 646.4L99.5 645.3L97.1 644.1L94.7 642.9L92.4 641.5L90.1 640.2L87.8 638.7L85.6 637.2L83.5 635.7L81.3 634.1L79.2 632.4L77.2 630.7L75.2 628.9L73.3 627.1L71.4 625.3L69.5 623.4L67.7 621.4L66.0 619.4L64.3 617.4L62.7 615.3L61.1 613.2L59.6 611.0L58.1 608.9L56.7 606.6L55.3 604.4L54.0 602.1L52.8 599.8L51.6 597.4L50.5 595.1L49.4 592.7L48.4 590.3L47.5 587.8L46.6 585.4L45.8 582.9L45.0 580.4L44.3 577.9L43.7 575.4L43.1 572.9L42.6 570.3L42.1 567.8L41.7 565.2L41.4 562.6L41.1 560.1L40.9 557.5L40.7 554.9L40.6 552.3L40.6 549.7L40.6 547.1L40.7 544.6L40.8 542.0L41.1 539.4L41.3 536.8L41.7 534.3L42.1 531.7L42.6 529.2L43.1 526.6L43.7 524.1L44.4 521.6L45.1 519.1L45.9 516.7L46.8 514.2L46.8 487.0L204.0 487.0L204.0 648.4Z" fill="#0300b0"/>
<ellipse cx="93" cy="561.5" rx="0.5" ry="0.5" fill="#0a50c8"/>
<ellipse cx="120" cy="581" rx="0.5" ry="0.5" fill="#0a50c8"/>
<ellipse cx="82" cy="605" rx="0.5" ry="0.5" fill="#0a50c8"/>
</g></g>
<clipPath id="c_bBR"><rect x="156" y="549" width="127.0" height="130.0"/></clipPath>
<g filter="url(#bl)"><g clip-path="url(#c_bBR)">
<rect x="156" y="549" width="127.0" height="130.0" fill="#0300b0"/>
<rect x="155.50" y="549" width="5.59" height="138.54" fill="#58e838"/>
<rect x="160.09" y="549" width="5.59" height="138.01" fill="#58e838"/>
<rect x="164.69" y="549" width="5.59" height="137.33" fill="#58e838"/>
<rect x="169.28" y="549" width="5.59" height="136.50" fill="#58e838"/>
<rect x="173.87" y="549" width="5.59" height="135.52" fill="#58e838"/>
<rect x="178.47" y="549" width="5.59" height="134.37" fill="#58e838"/>
<rect x="183.06" y="549" width="5.59" height="133.05" fill="#58e838"/>
<rect x="187.65" y="549" width="5.59" height="131.57" fill="#58e838"/>
<rect x="192.25" y="549" width="5.59" height="129.92" fill="#58e838"/>
<rect x="196.84" y="549" width="5.59" height="128.13" fill="#58e838"/>
<rect x="201.43" y="549" width="5.59" height="126.21" fill="#58e838"/>
<rect x="206.02" y="549" width="5.59" height="124.13" fill="#58e838"/>
<rect x="210.62" y="549" width="5.59" height="121.89" fill="#58e838"/>
<rect x="215.21" y="549" width="5.59" height="119.49" fill="#58e838"/>
<rect x="219.80" y="549" width="5.59" height="116.88" fill="#58e838"/>
<rect x="224.40" y="549" width="5.59" height="114.08" fill="#58e838"/>
<rect x="228.99" y="549" width="5.59" height="111.04" fill="#58e838"/>
<rect x="233.58" y="549" width="5.59" height="107.76" fill="#58e838"/>
<rect x="238.18" y="549" width="5.59" height="104.18" fill="#58e838"/>
<rect x="242.77" y="549" width="5.59" height="100.28" fill="#58e838"/>
<rect x="247.36" y="549" width="5.59" height="96.01" fill="#58e838"/>
<rect x="251.96" y="549" width="5.59" height="91.29" fill="#58e838"/>
<rect x="256.55" y="549" width="5.59" height="86.03" fill="#58e838"/>
<rect x="261.14" y="549" width="5.59" height="80.07" fill="#58e838"/>
<rect x="265.74" y="549" width="5.59" height="73.20" fill="#58e838"/>
<rect x="270.33" y="549" width="5.59" height="64.97" fill="#58e838"/>
<rect x="274.92" y="549" width="5.59" height="54.40" fill="#58e838"/>
<rect x="279.51" y="549" width="5.59" height="-0.32" fill="#58e838"/>
<rect x="156.00" y="549" width="4.89" height="137.64" fill="#8cec30"/>
<rect x="160.59" y="549" width="4.89" height="137.11" fill="#8cec30"/>
<rect x="165.19" y="549" width="4.89" height="136.43" fill="#8cec30"/>
<rect x="169.78" y="549" width="4.89" height="135.60" fill="#8cec30"/>
<rect x="174.37" y="549" width="4.89" height="134.62" fill="#8cec30"/>
<rect x="178.97" y="549" width="4.89" height="133.47" fill="#8cec30"/>
<rect x="183.56" y="549" width="4.89" height="132.15" fill="#8cec30"/>
<rect x="188.15" y="549" width="4.89" height="130.67" fill="#8cec30"/>
<rect x="192.75" y="549" width="4.89" height="129.02" fill="#8cec30"/>
<rect x="197.34" y="549" width="4.89" height="127.23" fill="#8cec30"/>
<rect x="201.93" y="549" width="4.89" height="125.31" fill="#8cec30"/>
<rect x="206.52" y="549" width="4.89" height="123.23" fill="#8cec30"/>
<rect x="211.12" y="549" width="4.89" height="120.99" fill="#8cec30"/>
<rect x="215.71" y="549" width="4.89" height="118.59" fill="#8cec30"/>
<rect x="220.30" y="549" width="4.89" height="115.98" fill="#8cec30"/>
<rect x="224.90" y="549" width="4.89" height="113.18" fill="#8cec30"/>
<rect x="229.49" y="549" width="4.89" height="110.14" fill="#8cec30"/>
<rect x="234.08" y="549" width="4.89" height="106.86" fill="#8cec30"/>
<rect x="238.68" y="549" width="4.89" height="103.28" fill="#8cec30"/>
<rect x="243.27" y="549" width="4.89" height="99.38" fill="#8cec30"/>
<rect x="247.86" y="549" width="4.89" height="95.11" fill="#8cec30"/>
<rect x="252.46" y="549" width="4.89" height="90.39" fill="#8cec30"/>
<rect x="257.05" y="549" width="4.89" height="85.13" fill="#8cec30"/>
<rect x="261.64" y="549" width="4.89" height="79.17" fill="#8cec30"/>
<rect x="266.24" y="549" width="4.89" height="72.30" fill="#8cec30"/>
<rect x="270.83" y="549" width="4.89" height="64.07" fill="#8cec30"/>
<rect x="275.42" y="549" width="4.89" height="53.50" fill="#8cec30"/>
<rect x="280.01" y="549" width="4.89" height="-1.22" fill="#8cec30"/>
<path d="M266.1 502.9L267.5 505.5L268.9 508.1L270.2 510.8L271.4 513.5L272.6 516.3L273.7 519.1L274.8 522.0L275.7 524.9L276.6 527.8L277.4 530.7L278.2 533.7L278.8 536.7L279.4 539.8L279.9 542.9L280.4 546.0L280.7 549.1L281.0 552.2L281.2 555.4L281.3 558.6L281.3 561.8L281.3 565.0L281.2 568.2L280.9 571.4L280.6 574.7L280.2 577.9L279.8 581.1L279.2 584.4L278.5 587.6L277.8 590.8L276.9 594.0L275.9 597.2L274.8 600.3L273.5 603.4L272.2 606.5L270.8 609.5L269.3 612.5L267.7 615.4L266.0 618.3L264.2 621.1L262.3 623.9L260.3 626.7L258.3 629.3L256.1 632.0L253.9 634.5L251.7 637.0L249.3 639.5L246.9 641.9L244.4 644.2L241.9 646.5L239.2 648.6L236.6 650.8L233.9 652.8L231.1 654.8L228.3 656.8L225.4 658.6L222.5 660.4L219.5 662.2L216.5 663.9L213.5 665.5L210.4 667.0L207.3 668.5L204.1 669.9L200.9 671.3L197.7 672.6L194.4 673.8L191.1 675.0L187.8 676.1L184.4 677.1L181.0 678.0L177.6 678.9L174.1 679.6L170.6 680.3L167.1 680.9L163.6 681.3L160.0 681.7L156.4 682.0L152.8 682.3L149.3 682.4L145.6 682.4L142.0 682.3L138.4 682.2L134.8 681.9L131.2 681.6L127.5 681.1L123.9 680.6L120.3 680.0L116.7 679.2L113.1 678.4L109.5 677.5L96.0 677.5L96.0 489.0L266.1 489.0Z" fill="#c4f214"/>
<path d="M264.2 503.6L265.4 506.2L266.6 508.8L267.8 511.5L268.8 514.2L269.8 516.9L270.7 519.7L271.6 522.5L272.4 525.3L273.1 528.2L273.7 531.1L274.3 534.0L274.8 536.9L275.2 539.9L275.6 542.8L275.8 545.8L276.0 548.8L276.1 551.8L276.2 554.9L276.1 557.9L276.0 560.9L275.8 564.0L275.6 567.0L275.2 570.1L274.8 573.1L274.3 576.1L273.7 579.2L273.1 582.2L272.3 585.2L271.5 588.2L270.6 591.2L269.5 594.2L268.4 597.1L267.2 600.0L265.9 602.8L264.5 605.7L263.0 608.5L261.5 611.2L259.8 613.9L258.1 616.6L256.3 619.2L254.4 621.8L252.5 624.3L250.5 626.7L248.4 629.1L246.2 631.5L244.0 633.8L241.7 636.0L239.4 638.2L237.0 640.3L234.5 642.4L232.0 644.4L229.5 646.3L226.9 648.2L224.2 650.0L221.5 651.8L218.7 653.5L215.9 655.1L213.1 656.6L210.2 658.1L207.3 659.5L204.4 660.9L201.4 662.2L198.3 663.4L195.3 664.6L192.2 665.7L189.1 666.7L186.0 667.7L182.8 668.5L179.6 669.3L176.4 670.0L173.1 670.7L169.8 671.2L166.6 671.7L163.3 672.0L159.9 672.3L156.6 672.5L153.3 672.6L149.9 672.6L146.6 672.6L143.2 672.4L139.9 672.2L136.5 671.8L133.2 671.4L129.8 670.9L126.5 670.3L123.2 669.7L119.9 668.9L116.6 668.1L113.3 667.1L96.0 667.1L96.0 489.0L264.2 489.0Z" fill="#e4ee18"/>
<path d="M262.8 504.1L263.9 506.7L265.0 509.3L266.0 512.0L266.9 514.7L267.8 517.4L268.6 520.1L269.3 522.9L269.9 525.7L270.5 528.5L271.0 531.3L271.5 534.2L271.8 537.1L272.1 539.9L272.3 542.8L272.5 545.7L272.5 548.6L272.5 551.5L272.5 554.4L272.3 557.4L272.1 560.3L271.8 563.2L271.5 566.1L271.0 569.0L270.5 571.9L269.9 574.8L269.3 577.7L268.6 580.6L267.8 583.5L266.9 586.3L265.9 589.2L264.9 592.0L263.7 594.7L262.5 597.5L261.2 600.2L259.9 602.9L258.4 605.5L256.9 608.1L255.3 610.7L253.7 613.2L251.9 615.7L250.1 618.1L248.3 620.5L246.3 622.9L244.3 625.2L242.3 627.4L240.1 629.6L238.0 631.7L235.7 633.8L233.4 635.8L231.1 637.8L228.7 639.7L226.2 641.6L223.8 643.3L221.2 645.1L218.6 646.7L216.0 648.3L213.3 649.9L210.6 651.3L207.8 652.7L205.1 654.1L202.2 655.3L199.4 656.5L196.5 657.7L193.6 658.7L190.6 659.7L187.6 660.6L184.6 661.5L181.6 662.3L178.6 663.0L175.5 663.6L172.4 664.1L169.3 664.5L166.2 664.9L163.0 665.2L159.9 665.4L156.7 665.5L153.6 665.5L150.4 665.5L147.3 665.3L144.1 665.1L141.0 664.8L137.8 664.4L134.7 664.0L131.5 663.4L128.4 662.8L125.3 662.1L122.2 661.3L119.1 660.5L116.1 659.5L96.0 659.5L96.0 489.0L262.8 489.0Z" fill="#ff9c08"/>
<path d="M260.9 504.8L261.8 507.4L262.7 510.0L263.5 512.7L264.3 515.3L265.0 518.0L265.6 520.7L266.1 523.5L266.6 526.2L267.0 528.9L267.3 531.7L267.6 534.5L267.8 537.2L267.9 540.0L267.9 542.8L267.9 545.6L267.8 548.3L267.6 551.1L267.4 553.9L267.1 556.7L266.8 559.4L266.3 562.2L265.9 564.9L265.3 567.7L264.7 570.4L264.0 573.1L263.3 575.8L262.4 578.5L261.6 581.1L260.6 583.8L259.6 586.4L258.5 589.0L257.4 591.5L256.2 594.1L254.9 596.6L253.6 599.1L252.2 601.5L250.7 603.9L249.2 606.3L247.6 608.7L246.0 611.0L244.3 613.2L242.5 615.5L240.7 617.6L238.8 619.8L236.9 621.9L234.9 623.9L232.8 625.9L230.7 627.8L228.6 629.7L226.4 631.6L224.1 633.3L221.9 635.1L219.5 636.7L217.1 638.3L214.7 639.9L212.2 641.3L209.7 642.7L207.2 644.1L204.6 645.4L202.0 646.6L199.3 647.7L196.6 648.8L193.9 649.8L191.2 650.7L188.4 651.6L185.6 652.4L182.8 653.1L180.0 653.7L177.2 654.3L174.3 654.8L171.4 655.1L168.5 655.5L165.6 655.7L162.7 655.9L159.8 655.9L156.9 655.9L154.0 655.9L151.1 655.7L148.2 655.5L145.3 655.2L142.4 654.8L139.6 654.4L136.7 653.8L133.8 653.2L131.0 652.6L128.2 651.8L125.4 651.0L122.6 650.1L119.9 649.2L96.0 649.2L96.0 489.0L260.9 489.0Z" fill="#c4f214"/>
<path d="M260.7 504.9L261.6 507.5L262.5 510.1L263.3 512.7L264.0 515.4L264.7 518.1L265.3 520.8L265.8 523.5L266.2 526.2L266.6 529.0L266.9 531.7L267.2 534.5L267.4 537.2L267.5 540.0L267.5 542.8L267.4 545.5L267.3 548.3L267.2 551.1L266.9 553.8L266.6 556.6L266.2 559.3L265.8 562.1L265.3 564.8L264.7 567.5L264.1 570.2L263.4 572.9L262.6 575.6L261.8 578.2L260.9 580.9L260.0 583.5L259.0 586.1L257.9 588.7L256.7 591.2L255.5 593.7L254.3 596.2L252.9 598.7L251.5 601.1L250.1 603.5L248.6 605.9L247.0 608.2L245.4 610.5L243.7 612.7L241.9 615.0L240.1 617.1L238.2 619.2L236.3 621.3L234.3 623.3L232.3 625.3L230.2 627.2L228.1 629.1L225.9 630.9L223.7 632.7L221.4 634.4L219.1 636.1L216.7 637.6L214.3 639.2L211.9 640.6L209.4 642.0L206.8 643.4L204.3 644.6L201.7 645.8L199.0 647.0L196.4 648.0L193.7 649.0L191.0 649.9L188.2 650.8L185.4 651.6L182.7 652.2L179.8 652.9L177.0 653.4L174.2 653.9L171.3 654.3L168.4 654.6L165.6 654.8L162.7 654.9L159.8 655.0L156.9 655.0L154.0 654.9L151.2 654.7L148.3 654.5L145.4 654.2L142.6 653.8L139.7 653.3L136.9 652.8L134.1 652.2L131.3 651.5L128.5 650.8L125.7 650.0L123.0 649.1L120.3 648.1L96.0 648.1L96.0 489.0L260.7 489.0Z" fill="#0300b0"/>
<path d="M160.59 655.0V679.0M165.19 654.8V679.0M169.78 654.4V679.0M174.37 653.8V679.0M178.97 653.0V679.0M183.56 652.0V679.0M188.15 650.8V679.0M192.75 649.3V678.9M197.34 647.7V677.1M201.93 645.7V675.3M206.52 643.5V673.3M211.12 641.1V671.1M215.71 638.3V668.8M220.30 635.2V666.3M224.90 631.8V663.6M229.49 627.9V660.7M234.08 623.6V657.5M238.68 618.7V654.1M243.27 613.2V650.4M247.86 606.9V646.3M252.46 599.5V641.8M257.05 590.5V636.8M261.64 578.8V631.2M266.24 559.3V624.9M270.83 549.0V617.4M275.42 549.0V608.2M280.01 549.0V595.4" stroke="#4a5810" stroke-width="0.95" fill="none"/>
<ellipse cx="163.8" cy="559.6" rx="3.0" ry="0.8" fill="#22e66a" transform="rotate(-30 163.8 559.6)"/>
<ellipse cx="215.2" cy="556.6" rx="2.0" ry="0.9" fill="#22e66a" transform="rotate(30 215.2 556.6)"/>
<ellipse cx="159.2" cy="578.4" rx="0.8" ry="3.0" fill="#22e66a" transform="rotate(-50 159.2 578.4)"/>
<ellipse cx="177.4" cy="552.5" rx="0.5" ry="1.2" fill="#22e66a"/>
<ellipse cx="200.6" cy="553.1" rx="0.9" ry="0.5" fill="#00c4dc" transform="rotate(30 200.6 553.1)"/>
<ellipse cx="165.9" cy="595.6" rx="0.8" ry="0.8" fill="#00c4dc"/>
<ellipse cx="166.3" cy="616.8" rx="0.7" ry="0.7" fill="#00c4dc"/>
<ellipse cx="217.4" cy="586.5" rx="0.6" ry="0.6" fill="#00c4dc"/>
<ellipse cx="211.3" cy="639.4" rx="0.8" ry="0.8" fill="#00c4dc"/>
<ellipse cx="167.7" cy="636.6" rx="0.7" ry="0.7" fill="#00c4dc"/>
<ellipse cx="183.4" cy="563.8" rx="0.5" ry="0.5" fill="#00c4dc"/>
<ellipse cx="244" cy="607.7" rx="0.6" ry="0.6" fill="#00c4dc"/>
<ellipse cx="186" cy="572" rx="0.5" ry="0.5" fill="#00c4dc"/>
<ellipse cx="175.5" cy="603.5" rx="0.5" ry="0.5" fill="#00c4dc"/>
<ellipse cx="181" cy="631" rx="0.5" ry="0.5" fill="#00c4dc"/>
<ellipse cx="212" cy="564.5" rx="0.5" ry="0.5" fill="#00c4dc"/>
</g></g>
<clipPath id="c_cTL"><rect x="18" y="762" width="120.0" height="127.0"/></clipPath>
<g filter="url(#bl)"><g clip-path="url(#c_cTL)">
<rect x="18" y="762" width="120.0" height="127.0" fill="#0300b0"/>
<path d="M17.9 937.7L16.9 934.4L16.0 931.2L15.1 927.9L14.4 924.6L13.7 921.2L13.1 917.9L12.6 914.6L12.2 911.2L11.8 907.9L11.6 904.5L11.4 901.1L11.3 897.8L11.3 894.4L11.4 891.1L11.6 887.7L11.9 884.4L12.2 881.0L12.7 877.7L13.2 874.4L13.8 871.1L14.5 867.8L15.2 864.6L16.1 861.4L17.0 858.2L18.0 855.0L19.1 851.8L20.2 848.7L21.4 845.6L22.6 842.5L23.9 839.4L25.2 836.4L26.6 833.4L28.0 830.4L29.5 827.4L31.1 824.4L32.7 821.5L34.3 818.6L36.1 815.7L37.9 812.9L39.7 810.1L41.6 807.3L43.6 804.6L45.7 801.9L47.8 799.2L50.0 796.6L52.2 794.0L54.6 791.5L56.9 789.0L59.4 786.6L61.9 784.2L64.5 781.9L67.1 779.7L69.8 777.5L72.6 775.4L75.4 773.3L78.3 771.3L81.3 769.4L84.3 767.6L87.4 765.9L90.5 764.2L93.6 762.6L96.9 761.1L100.1 759.7L103.4 758.4L106.8 757.2L110.2 756.0L113.6 754.9L117.1 754.0L120.5 753.1L124.1 752.3L127.6 751.5L131.2 750.9L134.7 750.4L138.3 749.9L142.0 749.6L145.6 749.3L149.3 749.1L152.9 749.0L156.6 749.1L160.3 749.2L164.0 749.4L167.6 749.7L171.3 750.1L175.0 750.6L178.7 751.2L182.3 751.8L186.0 752.6L189.6 753.5L193.2 754.5L198.0 754.5L198.0 949.0L17.9 949.0Z" fill="#00d466"/>
<path d="M32.6 932.3L31.7 929.4L30.8 926.6L30.0 923.7L29.3 920.8L28.6 917.9L28.0 914.9L27.5 912.0L27.0 909.0L26.7 906.1L26.4 903.1L26.2 900.1L26.1 897.1L26.0 894.1L26.0 891.2L26.1 888.2L26.3 885.2L26.5 882.2L26.8 879.3L27.2 876.3L27.6 873.3L28.2 870.4L28.7 867.5L29.4 864.6L30.1 861.7L30.9 858.8L31.8 856.0L32.7 853.1L33.6 850.3L34.7 847.5L35.7 844.7L36.9 841.9L38.0 839.2L39.3 836.4L40.6 833.7L42.0 831.0L43.4 828.4L44.9 825.7L46.4 823.1L48.0 820.5L49.7 818.0L51.4 815.5L53.2 813.0L55.1 810.6L57.0 808.1L59.0 805.8L61.0 803.5L63.1 801.2L65.3 799.0L67.5 796.8L69.8 794.7L72.1 792.6L74.5 790.6L77.0 788.6L79.5 786.7L82.0 784.9L84.6 783.1L87.3 781.4L90.0 779.8L92.8 778.2L95.6 776.8L98.5 775.3L101.4 774.0L104.4 772.8L107.3 771.6L110.4 770.5L113.4 769.5L116.5 768.5L119.6 767.7L122.8 766.9L125.9 766.2L129.1 765.6L132.3 765.1L135.6 764.6L138.8 764.3L142.1 764.0L145.3 763.8L148.6 763.7L151.9 763.7L155.2 763.8L158.5 763.9L161.8 764.2L165.1 764.5L168.4 764.9L171.6 765.4L174.9 766.0L178.2 766.6L181.4 767.4L184.6 768.2L187.9 769.1L198.0 769.1L198.0 949.0L32.6 949.0Z" fill="#2cee14"/>
<path d="M47.4 926.9L46.5 924.5L45.6 922.0L44.9 919.5L44.1 917.0L43.5 914.5L42.9 912.0L42.4 909.4L41.9 906.8L41.6 904.3L41.2 901.7L41.0 899.1L40.8 896.5L40.7 893.9L40.6 891.3L40.6 888.6L40.7 886.0L40.8 883.4L41.0 880.8L41.2 878.2L41.5 875.6L41.8 873.0L42.2 870.4L42.7 867.8L43.2 865.2L43.8 862.6L44.4 860.1L45.1 857.5L45.9 855.0L46.7 852.4L47.6 849.9L48.5 847.4L49.5 844.9L50.6 842.5L51.7 840.0L52.9 837.6L54.1 835.2L55.4 832.8L56.8 830.5L58.2 828.2L59.7 825.9L61.2 823.6L62.8 821.4L64.4 819.2L66.2 817.1L67.9 815.0L69.8 812.9L71.6 810.9L73.6 808.9L75.6 807.0L77.6 805.1L79.7 803.3L81.9 801.5L84.1 799.8L86.3 798.1L88.6 796.5L91.0 794.9L93.4 793.4L95.8 792.0L98.3 790.6L100.8 789.3L103.4 788.1L106.0 786.9L108.6 785.8L111.2 784.8L113.9 783.8L116.7 782.9L119.4 782.1L122.2 781.4L125.0 780.7L127.8 780.2L130.7 779.7L133.5 779.2L136.4 778.9L139.3 778.7L142.2 778.5L145.1 778.4L148.0 778.3L150.9 778.4L153.8 778.5L156.7 778.7L159.6 779.0L162.5 779.3L165.4 779.7L168.3 780.2L171.2 780.8L174.0 781.4L176.9 782.1L179.7 782.9L182.5 783.8L198.0 783.8L198.0 949.0L47.4 949.0Z" fill="#0300b0"/>
<ellipse cx="85.2" cy="824.8" rx="0.5" ry="0.5" fill="#3040c0"/>
<ellipse cx="51.5" cy="858" rx="0.6" ry="0.6" fill="#208070"/>
<ellipse cx="118.5" cy="816.5" rx="0.5" ry="0.5" fill="#2050c0"/>
</g></g>
<clipPath id="c_cTR"><rect x="150" y="761" width="124.0" height="127.0"/></clipPath>
<g filter="url(#bl)"><g clip-path="url(#c_cTR)">
<rect x="150" y="761" width="124.0" height="127.0" fill="#0300b0"/>
<rect x="150.00" y="750.51" width="4.78" height="137.49" fill="#00d46c"/>
<rect x="154.48" y="751.15" width="4.78" height="136.85" fill="#00d46c"/>
<rect x="158.97" y="751.94" width="4.78" height="136.06" fill="#00d46c"/>
<rect x="163.45" y="752.88" width="4.78" height="135.12" fill="#00d46c"/>
<rect x="167.94" y="753.96" width="4.78" height="134.04" fill="#00d46c"/>
<rect x="172.42" y="755.20" width="4.78" height="132.80" fill="#00d46c"/>
<rect x="176.91" y="756.60" width="4.78" height="131.40" fill="#00d46c"/>
<rect x="181.39" y="758.17" width="4.78" height="129.83" fill="#00d46c"/>
<rect x="185.88" y="759.90" width="4.78" height="128.10" fill="#00d46c"/>
<rect x="190.36" y="761.81" width="4.78" height="126.19" fill="#00d46c"/>
<rect x="194.85" y="763.88" width="4.78" height="124.12" fill="#00d46c"/>
<rect x="199.33" y="766.11" width="4.78" height="121.89" fill="#00d46c"/>
<rect x="203.82" y="768.51" width="4.78" height="119.49" fill="#00d46c"/>
<rect x="208.30" y="771.08" width="4.78" height="116.92" fill="#00d46c"/>
<rect x="212.78" y="773.85" width="4.78" height="114.15" fill="#00d46c"/>
<rect x="217.27" y="776.81" width="4.78" height="111.19" fill="#00d46c"/>
<rect x="221.75" y="780.01" width="4.78" height="107.99" fill="#00d46c"/>
<rect x="226.24" y="783.44" width="4.78" height="104.56" fill="#00d46c"/>
<rect x="230.72" y="787.14" width="4.78" height="100.86" fill="#00d46c"/>
<rect x="235.21" y="791.15" width="4.78" height="96.85" fill="#00d46c"/>
<rect x="239.69" y="795.49" width="4.78" height="92.51" fill="#00d46c"/>
<rect x="244.18" y="800.23" width="4.78" height="87.77" fill="#00d46c"/>
<rect x="248.66" y="805.42" width="4.78" height="82.58" fill="#00d46c"/>
<rect x="253.15" y="811.16" width="4.78" height="76.84" fill="#00d46c"/>
<rect x="257.63" y="817.61" width="4.78" height="70.39" fill="#00d46c"/>
<rect x="262.12" y="824.95" width="4.78" height="63.05" fill="#00d46c"/>
<rect x="266.60" y="833.57" width="4.78" height="54.43" fill="#00d46c"/>
<rect x="271.08" y="844.25" width="4.78" height="43.75" fill="#00d46c"/>
<path d="M100.7 767.4L104.1 766.4L107.5 765.6L110.9 764.8L114.4 764.1L117.8 763.5L121.3 763.0L124.7 762.5L128.2 762.2L131.7 761.9L135.1 761.8L138.6 761.7L142.1 761.7L145.5 761.8L149.0 762.0L152.4 762.3L155.8 762.7L159.2 763.1L162.6 763.7L166.0 764.3L169.3 765.1L172.6 765.9L175.9 766.8L179.2 767.8L182.4 768.9L185.6 770.1L188.7 771.3L191.8 772.6L194.9 774.0L197.9 775.5L200.9 777.0L203.9 778.6L206.8 780.3L209.6 782.0L212.4 783.8L215.2 785.7L217.9 787.6L220.5 789.6L223.1 791.6L225.7 793.7L228.2 795.9L230.6 798.1L233.0 800.4L235.3 802.7L237.6 805.1L239.8 807.5L241.9 810.0L244.0 812.6L246.0 815.1L247.9 817.8L249.8 820.4L251.6 823.1L253.3 825.9L254.9 828.7L256.5 831.5L258.0 834.4L259.5 837.3L260.8 840.2L262.1 843.2L263.3 846.1L264.4 849.2L265.4 852.2L266.4 855.3L267.3 858.3L268.1 861.4L268.8 864.6L269.5 867.7L270.1 870.8L270.6 874.0L271.0 877.1L271.4 880.3L271.6 883.4L271.8 886.6L272.0 889.8L272.0 892.9L272.0 896.1L271.9 899.3L271.7 902.4L271.4 905.6L271.0 908.7L270.6 911.8L270.1 914.9L269.5 918.0L268.8 921.1L268.0 924.2L267.2 927.2L266.3 930.2L265.3 933.2L264.3 936.1L263.1 939.0L263.1 948.0L90.0 948.0L90.0 767.4Z" fill="#00e838"/>
<path d="M100.5 766.8L103.9 765.8L107.3 764.9L110.7 764.2L114.2 763.5L117.7 762.9L121.1 762.3L124.6 761.9L128.1 761.6L131.6 761.3L135.1 761.2L138.6 761.1L142.0 761.1L145.5 761.2L149.0 761.4L152.4 761.7L155.9 762.1L159.3 762.6L162.7 763.2L166.1 763.8L169.4 764.6L172.7 765.4L176.0 766.3L179.3 767.3L182.5 768.4L185.7 769.6L188.9 770.8L192.0 772.2L195.1 773.6L198.1 775.1L201.1 776.6L204.1 778.2L207.0 779.9L209.8 781.6L212.6 783.4L215.4 785.3L218.1 787.2L220.8 789.2L223.4 791.3L226.0 793.4L228.5 795.5L230.9 797.8L233.3 800.1L235.6 802.4L237.9 804.8L240.1 807.2L242.2 809.7L244.3 812.2L246.3 814.8L248.3 817.5L250.1 820.1L251.9 822.9L253.7 825.6L255.3 828.4L256.9 831.3L258.4 834.1L259.9 837.0L261.2 840.0L262.5 843.0L263.7 846.0L264.8 849.0L265.9 852.0L266.9 855.1L267.7 858.2L268.6 861.3L269.3 864.4L270.0 867.6L270.5 870.7L271.0 873.9L271.5 877.0L271.8 880.2L272.1 883.4L272.3 886.6L272.4 889.7L272.5 892.9L272.4 896.1L272.3 899.3L272.1 902.4L271.8 905.6L271.5 908.7L271.0 911.9L270.5 915.0L269.9 918.1L269.2 921.2L268.5 924.2L267.6 927.3L266.7 930.3L265.7 933.3L264.7 936.2L263.5 939.2" fill="none" stroke="#00c0a8" stroke-width="0.8"/>
<path d="M107.4 785.7L110.2 784.7L113.1 783.8L116.0 782.9L118.9 782.1L121.9 781.4L124.8 780.8L127.8 780.2L130.8 779.7L133.8 779.3L136.8 779.0L139.8 778.7L142.8 778.5L145.8 778.4L148.9 778.4L151.9 778.5L154.9 778.6L157.9 778.8L160.9 779.2L163.9 779.6L166.9 780.1L169.9 780.7L172.8 781.3L175.7 782.1L178.6 782.9L181.5 783.9L184.3 784.9L187.1 786.0L189.9 787.1L192.7 788.4L195.3 789.7L198.0 791.0L200.6 792.5L203.2 794.0L205.7 795.6L208.2 797.3L210.6 799.0L213.0 800.8L215.3 802.6L217.6 804.5L219.8 806.5L222.0 808.5L224.1 810.6L226.1 812.7L228.1 814.8L230.0 817.0L231.9 819.3L233.7 821.6L235.5 823.9L237.1 826.3L238.8 828.7L240.3 831.2L241.8 833.6L243.3 836.1L244.6 838.7L245.9 841.3L247.2 843.8L248.4 846.5L249.5 849.1L250.5 851.8L251.5 854.5L252.5 857.2L253.3 859.9L254.1 862.6L254.9 865.4L255.5 868.1L256.2 870.9L256.7 873.7L257.2 876.5L257.7 879.3L258.0 882.1L258.3 884.9L258.6 887.7L258.8 890.5L258.9 893.4L259.0 896.2L258.9 899.0L258.9 901.9L258.7 904.7L258.4 907.5L258.1 910.3L257.8 913.1L257.3 915.9L256.8 918.7L256.2 921.5L255.5 924.2L254.8 926.9L254.0 929.7L253.1 932.4L252.2 935.0L252.2 948.0L90.0 948.0L90.0 785.7Z" fill="#0300b0"/>
<path d="M154.48 761.0V778.6M158.97 761.0V778.9M163.45 761.0V779.5M167.94 761.0V780.3M172.42 761.0V781.3M176.91 761.0V782.4M181.39 761.0V783.8M185.88 761.0V785.5M190.36 761.0V787.3M194.85 762.8V789.4M199.33 765.0V791.8M203.82 767.3V794.4M208.30 769.8V797.4M212.78 772.4V800.6M217.27 775.3V804.3M221.75 778.4V808.3M226.24 781.7V812.8M230.72 785.3V817.9M235.21 789.1V823.6M239.69 793.3V830.2M244.18 797.8V837.8M248.66 802.8V847.2M253.15 808.2V859.3M257.63 814.3V879.1M262.12 821.1V888.0M266.60 829.1V888.0M271.08 838.6V888.0" stroke="#007a34" stroke-width="0.95" fill="none"/>
<ellipse cx="174.7" cy="784.8" rx="0.7" ry="0.7" fill="#00c4dc"/>
<ellipse cx="188.2" cy="789.7" rx="0.7" ry="0.7" fill="#22e66a"/>
<ellipse cx="171.8" cy="791.1" rx="0.9" ry="0.5" fill="#00c4dc"/>
<ellipse cx="187.8" cy="796" rx="0.6" ry="0.6" fill="#00c4dc"/>
<ellipse cx="202.5" cy="802.3" rx="0.7" ry="0.7" fill="#ff8c1e"/>
<ellipse cx="206.4" cy="807.7" rx="0.6" ry="0.6" fill="#00c4dc"/>
<ellipse cx="173.6" cy="830.6" rx="0.8" ry="1.1" fill="#7cf060"/>
<ellipse cx="204.9" cy="855.7" rx="1.6" ry="0.7" fill="#e6e21e" transform="rotate(10 204.9 855.7)"/>
<ellipse cx="203.9" cy="855.6" rx="0.7" ry="0.5" fill="#ff8c1e"/>
<ellipse cx="226.6" cy="853.7" rx="1.0" ry="1.0" fill="#00c4dc"/>
<ellipse cx="240.7" cy="861.9" rx="0.7" ry="1.0" fill="#7cf060" transform="rotate(-30 240.7 861.9)"/>
<ellipse cx="173.2" cy="877.2" rx="0.7" ry="0.7" fill="#7cf060"/>
<ellipse cx="188.2" cy="879.2" rx="0.7" ry="0.7" fill="#00c4dc"/>
<ellipse cx="206.4" cy="879.5" rx="0.7" ry="0.7" fill="#00c4dc"/>
<ellipse cx="215.2" cy="880.7" rx="0.6" ry="0.6" fill="#00c4dc"/>
<ellipse cx="232.3" cy="882.7" rx="0.6" ry="0.6" fill="#00c4dc"/>
<ellipse cx="248.5" cy="883.1" rx="0.8" ry="0.8" fill="#22e66a"/>
<ellipse cx="252" cy="885.4" rx="0.8" ry="0.8" fill="#e6e21e"/>
<ellipse cx="200.6" cy="843.5" rx="0.6" ry="0.6" fill="#00c4dc"/>
<ellipse cx="199.6" cy="864.5" rx="0.5" ry="0.5" fill="#00c4dc"/>
<ellipse cx="226" cy="883" rx="0.6" ry="0.6" fill="#00c4dc"/>
<ellipse cx="157.5" cy="877.5" rx="0.7" ry="0.9" fill="#00c4dc"/>
<ellipse cx="160" cy="880.6" rx="0.8" ry="0.8" fill="#00c4dc"/>
<ellipse cx="164" cy="836" rx="0.5" ry="0.5" fill="#1060d0"/>
<ellipse cx="186" cy="835" rx="0.5" ry="0.5" fill="#1060d0"/>
</g></g>
<clipPath id="c_cBL"><rect x="15" y="897" width="125.0" height="127.0"/></clipPath>
<g filter="url(#bl)"><g clip-path="url(#c_cBL)">
<rect x="15" y="897" width="125.0" height="127.0" fill="#0300b0"/>
<rect x="15.00" y="897" width="4.82" height="38.52" fill="#00d860"/>
<rect x="19.52" y="897" width="4.82" height="48.14" fill="#00d860"/>
<rect x="24.04" y="897" width="4.82" height="56.57" fill="#00d860"/>
<rect x="28.56" y="897" width="4.82" height="64.05" fill="#00d860"/>
<rect x="33.08" y="897" width="4.82" height="70.78" fill="#00d860"/>
<rect x="37.60" y="897" width="4.82" height="76.88" fill="#00d860"/>
<rect x="42.12" y="897" width="4.82" height="82.43" fill="#00d860"/>
<rect x="46.65" y="897" width="4.82" height="87.51" fill="#00d860"/>
<rect x="51.17" y="897" width="4.82" height="92.17" fill="#00d860"/>
<rect x="55.69" y="897" width="4.82" height="96.45" fill="#00d860"/>
<rect x="60.21" y="897" width="4.82" height="100.38" fill="#00d860"/>
<rect x="64.73" y="897" width="4.82" height="104.00" fill="#00d860"/>
<rect x="69.25" y="897" width="4.82" height="107.32" fill="#00d860"/>
<rect x="73.77" y="897" width="4.82" height="110.38" fill="#00d860"/>
<rect x="78.29" y="897" width="4.82" height="113.18" fill="#00d860"/>
<rect x="82.81" y="897" width="4.82" height="115.73" fill="#00d860"/>
<rect x="87.33" y="897" width="4.82" height="118.06" fill="#00d860"/>
<rect x="91.85" y="897" width="4.82" height="120.17" fill="#00d860"/>
<rect x="96.37" y="897" width="4.82" height="122.07" fill="#00d860"/>
<rect x="100.90" y="897" width="4.82" height="123.76" fill="#00d860"/>
<rect x="105.42" y="897" width="4.82" height="125.25" fill="#00d860"/>
<rect x="109.94" y="897" width="4.82" height="126.56" fill="#00d860"/>
<rect x="114.46" y="897" width="4.82" height="127.67" fill="#00d860"/>
<rect x="118.98" y="897" width="4.82" height="128.62" fill="#00d860"/>
<rect x="123.50" y="897" width="4.82" height="129.40" fill="#00d860"/>
<rect x="128.02" y="897" width="4.82" height="130.01" fill="#00d860"/>
<rect x="132.54" y="897" width="4.82" height="130.45" fill="#00d860"/>
<rect x="137.06" y="897" width="4.82" height="130.74" fill="#00d860"/>
<path d="M183.7 1013.2L180.7 1014.1L177.8 1015.0L174.8 1015.8L171.8 1016.6L168.7 1017.2L165.7 1017.8L162.7 1018.3L159.6 1018.8L156.5 1019.1L153.5 1019.4L150.4 1019.6L147.3 1019.7L144.2 1019.7L141.1 1019.7L138.1 1019.6L135.0 1019.4L131.9 1019.1L128.9 1018.7L125.8 1018.3L122.8 1017.8L119.8 1017.2L116.8 1016.6L113.8 1015.8L110.8 1015.0L107.9 1014.1L105.0 1013.2L102.1 1012.1L99.3 1011.0L96.5 1009.8L93.7 1008.6L90.9 1007.2L88.2 1005.9L85.5 1004.4L82.9 1002.9L80.3 1001.3L77.7 999.6L75.2 997.9L72.7 996.2L70.3 994.3L67.9 992.5L65.5 990.5L63.2 988.5L61.0 986.5L58.8 984.4L56.6 982.2L54.5 980.1L52.4 977.8L50.4 975.5L48.5 973.2L46.5 970.8L44.7 968.4L42.9 966.0L41.1 963.5L39.4 960.9L37.7 958.4L36.1 955.7L34.6 953.1L33.1 950.4L31.6 947.7L30.2 944.9L28.8 942.2L27.6 939.3L26.3 936.5L25.1 933.6L24.0 930.7L22.9 927.8L21.9 924.8L20.9 921.8L20.0 918.7L19.3 915.6L18.6 912.5L17.9 909.4L17.4 906.3L16.9 903.1L16.5 899.9L16.2 896.7L16.0 893.5L15.9 890.2L15.8 887.0L15.8 883.7L15.9 880.5L16.1 877.2L16.4 873.9L16.8 870.7L17.2 867.4L17.8 864.2L18.4 860.9L19.1 857.7L19.9 854.4L19.9 837.0L200.0 837.0L200.0 1013.2Z" fill="#10e43c"/>
<path d="M181.3 1006.6L178.5 1007.5L175.7 1008.3L172.9 1009.1L170.1 1009.8L167.2 1010.5L164.4 1011.0L161.5 1011.5L158.6 1012.0L155.7 1012.3L152.8 1012.6L149.9 1012.8L147.0 1012.9L144.1 1012.9L141.2 1012.9L138.3 1012.8L135.4 1012.6L132.5 1012.4L129.6 1012.1L126.7 1011.7L123.9 1011.2L121.0 1010.7L118.2 1010.1L115.3 1009.4L112.5 1008.7L109.8 1007.9L107.0 1007.0L104.3 1006.0L101.6 1005.0L98.9 1003.9L96.2 1002.8L93.6 1001.5L91.0 1000.2L88.5 998.9L85.9 997.5L83.5 996.0L81.0 994.5L78.6 992.9L76.2 991.2L73.9 989.5L71.6 987.7L69.4 985.9L67.2 984.0L65.0 982.1L62.9 980.1L60.9 978.1L58.9 976.0L56.9 973.9L55.0 971.7L53.1 969.5L51.3 967.2L49.5 964.9L47.8 962.6L46.2 960.2L44.6 957.8L43.0 955.4L41.5 952.9L40.1 950.3L38.7 947.8L37.3 945.2L36.1 942.5L34.8 939.9L33.7 937.2L32.6 934.5L31.5 931.7L30.5 928.9L29.6 926.1L28.7 923.3L27.9 920.4L27.2 917.6L26.6 914.7L26.0 911.7L25.5 908.8L25.1 905.8L24.8 902.8L24.5 899.8L24.3 896.8L24.2 893.8L24.2 890.8L24.2 887.8L24.4 884.8L24.6 881.7L24.9 878.7L25.2 875.7L25.7 872.7L26.2 869.7L26.8 866.7L27.5 863.7L28.2 860.7L29.1 857.8L29.1 837.0L200.0 837.0L200.0 1006.6Z" fill="#38ea20"/>
<path d="M183.7 1013.2L180.7 1014.1L177.8 1015.0L174.8 1015.8L171.8 1016.6L168.7 1017.2L165.7 1017.8L162.7 1018.3L159.6 1018.8L156.5 1019.1L153.5 1019.4L150.4 1019.6L147.3 1019.7L144.2 1019.7L141.1 1019.7L138.1 1019.6L135.0 1019.4L131.9 1019.1L128.9 1018.7L125.8 1018.3L122.8 1017.8L119.8 1017.2L116.8 1016.6L113.8 1015.8L110.8 1015.0L107.9 1014.1L105.0 1013.2L102.1 1012.1L99.3 1011.0L96.5 1009.8L93.7 1008.6L90.9 1007.2L88.2 1005.9L85.5 1004.4L82.9 1002.9L80.3 1001.3L77.7 999.6L75.2 997.9L72.7 996.2L70.3 994.3L67.9 992.5L65.5 990.5L63.2 988.5L61.0 986.5L58.8 984.4L56.6 982.2L54.5 980.1L52.4 977.8L50.4 975.5L48.5 973.2L46.5 970.8L44.7 968.4L42.9 966.0L41.1 963.5L39.4 960.9L37.7 958.4L36.1 955.7L34.6 953.1L33.1 950.4L31.6 947.7L30.2 944.9L28.8 942.2L27.6 939.3L26.3 936.5L25.1 933.6L24.0 930.7L22.9 927.8L21.9 924.8L20.9 921.8L20.0 918.7L19.3 915.6L18.6 912.5L17.9 909.4L17.4 906.3L16.9 903.1L16.5 899.9L16.2 896.7L16.0 893.5L15.9 890.2L15.8 887.0L15.8 883.7L15.9 880.5L16.1 877.2L16.4 873.9L16.8 870.7L17.2 867.4L17.8 864.2L18.4 860.9L19.1 857.7L19.9 854.4" fill="none" stroke="#00c0a0" stroke-width="0.9"/>
<path d="M176.9 994.7L174.5 995.5L172.0 996.3L169.5 997.0L167.0 997.7L164.5 998.3L161.9 998.8L159.4 999.3L156.8 999.7L154.2 1000.0L151.6 1000.3L149.0 1000.5L146.5 1000.6L143.9 1000.7L141.3 1000.7L138.7 1000.7L136.1 1000.5L133.5 1000.4L130.9 1000.1L128.3 999.8L125.8 999.4L123.2 999.0L120.7 998.5L118.1 997.9L115.6 997.3L113.1 996.6L110.6 995.9L108.1 995.1L105.7 994.2L103.3 993.3L100.8 992.3L98.5 991.3L96.1 990.1L93.8 989.0L91.5 987.7L89.2 986.5L87.0 985.1L84.8 983.7L82.6 982.3L80.5 980.8L78.4 979.2L76.3 977.6L74.3 975.9L72.3 974.2L70.4 972.4L68.5 970.6L66.7 968.7L64.9 966.8L63.2 964.9L61.5 962.9L59.9 960.8L58.3 958.7L56.7 956.6L55.3 954.4L53.9 952.2L52.5 949.9L51.2 947.7L50.0 945.3L48.8 943.0L47.7 940.6L46.6 938.2L45.6 935.8L44.7 933.3L43.8 930.8L43.0 928.3L42.3 925.8L41.7 923.2L41.1 920.7L40.6 918.1L40.1 915.5L39.7 912.9L39.4 910.3L39.2 907.6L39.0 905.0L38.9 902.4L38.9 899.7L38.9 897.1L39.0 894.5L39.2 891.9L39.5 889.2L39.8 886.6L40.2 884.0L40.6 881.4L41.1 878.9L41.7 876.3L42.3 873.8L43.0 871.2L43.8 868.7L44.6 866.3L45.5 863.8L45.5 837.0L200.0 837.0L200.0 994.7Z" fill="#0300b0"/>
<path d="M19.52 897.0V940.5M24.04 897.0V949.5M28.56 897.0V957.4M33.08 897.0V964.5M37.60 897.0V970.9M42.12 925.0V976.7M46.65 938.3V982.0M51.17 947.6V986.9M55.69 955.0V991.4M60.21 961.3V995.5M64.73 966.6V999.2M69.25 971.3V1002.7M73.77 975.4V1005.9M78.29 979.1V1008.8M82.81 982.4V1011.5M87.33 985.3V1013.9M91.85 988.0V1016.1M96.37 990.3V1018.1M100.90 992.3V1019.9M105.42 994.1V1021.5M109.94 995.7V1022.9M114.46 997.0V1024.0M118.98 998.1V1024.0M123.50 999.1V1024.0M128.02 999.8V1024.0M132.54 1000.3V1024.0M137.06 1000.6V1024.0" stroke="#00702a" stroke-width="0.95" fill="none"/>
<ellipse cx="50.5" cy="907.6" rx="0.5" ry="1.2" fill="#00c4dc" transform="rotate(20 50.5 907.6)"/>
<ellipse cx="52.3" cy="908.6" rx="0.5" ry="1.0" fill="#00c4dc" transform="rotate(20 52.3 908.6)"/>
<ellipse cx="84.7" cy="939.6" rx="0.7" ry="1.3" fill="#00c4dc" transform="rotate(25 84.7 939.6)"/>
<ellipse cx="97" cy="939.6" rx="0.6" ry="0.6" fill="#00c4dc"/>
<ellipse cx="102.8" cy="956.7" rx="0.6" ry="1.0" fill="#22e66a"/>
<ellipse cx="108.3" cy="976.6" rx="0.5" ry="0.5" fill="#00c4dc"/>
<ellipse cx="97.5" cy="900.4" rx="0.5" ry="0.5" fill="#00c4dc"/>
<ellipse cx="74.8" cy="897.8" rx="0.7" ry="0.7" fill="#22e66a"/>
<ellipse cx="102.3" cy="897.8" rx="0.7" ry="0.7" fill="#22e66a"/>
<ellipse cx="101.5" cy="962" rx="0.4" ry="0.8" fill="#00c4dc"/>
<ellipse cx="123.6" cy="988.5" rx="0.5" ry="0.5" fill="#00c4dc"/>
</g></g>
<clipPath id="c_cBR"><rect x="152" y="897" width="122.0" height="128.0"/></clipPath>
<g filter="url(#bl)"><g clip-path="url(#c_cBR)">
<rect x="152" y="897" width="122.0" height="128.0" fill="#0300b0"/>
<rect x="152.00" y="897" width="4.71" height="132.52" fill="#00d074"/>
<rect x="156.41" y="897" width="4.71" height="132.13" fill="#00d074"/>
<rect x="160.82" y="897" width="4.71" height="131.60" fill="#00d074"/>
<rect x="165.24" y="897" width="4.71" height="130.92" fill="#00d074"/>
<rect x="169.65" y="897" width="4.71" height="130.09" fill="#00d074"/>
<rect x="174.06" y="897" width="4.71" height="129.11" fill="#00d074"/>
<rect x="178.47" y="897" width="4.71" height="127.96" fill="#00d074"/>
<rect x="182.89" y="897" width="4.71" height="126.67" fill="#00d074"/>
<rect x="187.30" y="897" width="4.71" height="125.21" fill="#00d074"/>
<rect x="191.71" y="897" width="4.71" height="123.60" fill="#00d074"/>
<rect x="196.12" y="897" width="4.71" height="121.82" fill="#00d074"/>
<rect x="200.54" y="897" width="4.71" height="119.86" fill="#00d074"/>
<rect x="204.95" y="897" width="4.71" height="117.72" fill="#00d074"/>
<rect x="209.36" y="897" width="4.71" height="115.37" fill="#00d074"/>
<rect x="213.77" y="897" width="4.71" height="112.82" fill="#00d074"/>
<rect x="218.18" y="897" width="4.71" height="110.04" fill="#00d074"/>
<rect x="222.60" y="897" width="4.71" height="107.01" fill="#00d074"/>
<rect x="227.01" y="897" width="4.71" height="103.71" fill="#00d074"/>
<rect x="231.42" y="897" width="4.71" height="100.12" fill="#00d074"/>
<rect x="235.83" y="897" width="4.71" height="96.20" fill="#00d074"/>
<rect x="240.25" y="897" width="4.71" height="91.89" fill="#00d074"/>
<rect x="244.66" y="897" width="4.71" height="87.15" fill="#00d074"/>
<rect x="249.07" y="897" width="4.71" height="81.89" fill="#00d074"/>
<rect x="253.48" y="897" width="4.71" height="75.99" fill="#00d074"/>
<rect x="257.90" y="897" width="4.71" height="69.28" fill="#00d074"/>
<rect x="262.31" y="897" width="4.71" height="61.45" fill="#00d074"/>
<rect x="266.72" y="897" width="4.71" height="51.95" fill="#00d074"/>
<rect x="271.13" y="897" width="4.71" height="39.31" fill="#00d074"/>
<path d="M260.9 854.3L262.0 857.0L263.0 859.7L263.9 862.5L264.7 865.2L265.5 868.0L266.2 870.8L266.9 873.6L267.4 876.5L267.9 879.3L268.4 882.2L268.7 885.1L269.0 888.0L269.2 890.9L269.3 893.8L269.4 896.7L269.4 899.7L269.3 902.6L269.1 905.5L268.9 908.4L268.6 911.4L268.2 914.3L267.8 917.2L267.2 920.1L266.7 923.0L266.0 925.9L265.3 928.7L264.5 931.6L263.6 934.4L262.6 937.2L261.6 940.0L260.5 942.8L259.4 945.5L258.1 948.3L256.8 951.0L255.4 953.6L254.0 956.2L252.5 958.8L250.9 961.4L249.2 963.9L247.5 966.4L245.7 968.8L243.9 971.2L242.0 973.6L240.0 975.9L238.0 978.1L235.9 980.3L233.7 982.5L231.5 984.6L229.3 986.6L227.0 988.6L224.6 990.6L222.2 992.4L219.7 994.3L217.2 996.0L214.6 997.7L212.0 999.3L209.3 1000.9L206.6 1002.4L203.9 1003.8L201.1 1005.2L198.3 1006.5L195.4 1007.7L192.5 1008.8L189.6 1009.9L186.7 1010.9L183.7 1011.8L180.7 1012.7L177.6 1013.5L174.6 1014.2L171.5 1014.8L168.4 1015.3L165.3 1015.8L162.2 1016.1L159.0 1016.4L155.9 1016.6L152.7 1016.7L149.6 1016.8L146.4 1016.7L143.2 1016.6L140.1 1016.4L136.9 1016.1L133.8 1015.7L130.6 1015.3L127.5 1014.7L124.3 1014.1L121.2 1013.4L118.1 1012.6L115.1 1011.8L112.0 1010.8L92.0 1010.8L92.0 837.0L260.9 837.0Z" fill="#00e048"/>
<path d="M261.2 854.2L262.3 856.9L263.3 859.6L264.2 862.4L265.0 865.1L265.8 867.9L266.6 870.7L267.2 873.6L267.8 876.4L268.3 879.3L268.7 882.2L269.1 885.1L269.4 888.0L269.6 890.9L269.7 893.8L269.8 896.8L269.7 899.7L269.7 902.6L269.5 905.6L269.3 908.5L269.0 911.4L268.6 914.4L268.2 917.3L267.6 920.2L267.1 923.1L266.4 926.0L265.7 928.9L264.9 931.7L264.0 934.6L263.0 937.4L262.0 940.2L260.9 943.0L259.8 945.8L258.5 948.5L257.2 951.2L255.8 953.9L254.4 956.5L252.9 959.1L251.3 961.7L249.6 964.2L247.9 966.7L246.1 969.1L244.2 971.5L242.3 973.9L240.4 976.2L238.3 978.5L236.2 980.7L234.1 982.8L231.8 985.0L229.6 987.0L227.2 989.0L224.9 991.0L222.4 992.8L220.0 994.7L217.4 996.4L214.8 998.1L212.2 999.8L209.6 1001.3L206.8 1002.8L204.1 1004.3L201.3 1005.6L198.5 1006.9L195.6 1008.2L192.7 1009.3L189.8 1010.4L186.8 1011.4L183.8 1012.4L180.8 1013.2L177.7 1014.0L174.7 1014.7L171.6 1015.3L168.5 1015.9L165.4 1016.3L162.2 1016.7L159.1 1017.0L155.9 1017.2L152.7 1017.3L149.5 1017.4L146.4 1017.3L143.2 1017.2L140.0 1017.0L136.8 1016.7L133.7 1016.3L130.5 1015.9L127.3 1015.3L124.2 1014.7L121.1 1014.0L117.9 1013.2L114.8 1012.4L111.8 1011.4" fill="none" stroke="#00b8b0" stroke-width="0.8"/>
<path d="M253.0 857.2L253.9 859.7L254.7 862.3L255.4 864.8L256.0 867.4L256.6 870.0L257.1 872.6L257.6 875.2L258.0 877.9L258.3 880.5L258.5 883.1L258.7 885.8L258.8 888.4L258.9 891.1L258.9 893.7L258.8 896.4L258.6 899.0L258.4 901.7L258.1 904.3L257.8 906.9L257.4 909.6L257.0 912.2L256.5 914.8L255.9 917.4L255.3 919.9L254.6 922.5L253.9 925.1L253.1 927.6L252.3 930.1L251.3 932.6L250.4 935.1L249.3 937.5L248.3 940.0L247.1 942.4L245.9 944.7L244.6 947.1L243.3 949.4L241.9 951.7L240.5 954.0L239.0 956.2L237.5 958.4L235.9 960.6L234.2 962.7L232.5 964.8L230.7 966.8L228.9 968.8L227.0 970.8L225.1 972.7L223.1 974.5L221.1 976.3L219.0 978.1L216.9 979.8L214.7 981.4L212.5 983.0L210.3 984.6L208.0 986.0L205.6 987.4L203.2 988.8L200.8 990.1L198.4 991.3L195.9 992.5L193.4 993.5L190.8 994.6L188.2 995.5L185.6 996.4L183.0 997.2L180.3 997.9L177.6 998.6L175.0 999.2L172.2 999.7L169.5 1000.1L166.8 1000.4L164.0 1000.7L161.3 1000.9L158.5 1001.0L155.8 1001.0L153.0 1001.0L150.3 1000.9L147.5 1000.7L144.8 1000.4L142.1 1000.1L139.3 999.6L136.6 999.2L133.9 998.6L131.3 998.0L128.6 997.3L125.9 996.6L123.3 995.8L120.7 994.9L118.2 993.9L92.0 993.9L92.0 837.0L253.0 837.0Z" fill="#0300b0"/>
<path d="M156.41 1001.0V1025.0M160.82 1000.9V1025.0M165.24 1000.6V1025.0M169.65 1000.1V1025.0M174.06 999.3V1025.0M178.47 998.4V1025.0M182.89 997.2V1024.3M187.30 995.8V1023.0M191.71 994.2V1021.4M196.12 992.3V1019.7M200.54 990.2V1017.9M204.95 987.8V1015.8M209.36 985.1V1013.6M213.77 982.1V1011.1M218.18 978.8V1008.5M222.60 975.0V1005.6M227.01 970.8V1002.4M231.42 966.0V999.0M235.83 960.6V995.2M240.25 954.4V991.1M244.66 947.1V986.6M249.07 938.2V981.6M253.48 926.4V976.0M257.90 906.3V969.7M262.31 897.0V962.5M266.72 897.0V954.0M271.13 897.0V943.2" stroke="#00703c" stroke-width="0.95" fill="none"/>
<ellipse cx="160" cy="908" rx="3.0" ry="0.9" fill="#ff8c1e" transform="rotate(-30 160 908)"/>
<ellipse cx="161.5" cy="907.1" rx="1.2" ry="0.7" fill="#e6e21e" transform="rotate(-30 161.5 907.1)"/>
<ellipse cx="157.6" cy="909.5" rx="0.9" ry="0.6" fill="#22e66a" transform="rotate(-30 157.6 909.5)"/>
<ellipse cx="209" cy="905.3" rx="1.8" ry="1.0" fill="#e6e21e" transform="rotate(25 209 905.3)"/>
<ellipse cx="208.3" cy="904.9" rx="0.9" ry="0.6" fill="#ff8c1e" transform="rotate(25 208.3 904.9)"/>
<ellipse cx="210.6" cy="906.6" rx="0.6" ry="0.9" fill="#22e66a"/>
<ellipse cx="173.2" cy="900.8" rx="0.5" ry="1.2" fill="#22e66a"/>
<ellipse cx="193.7" cy="967.3" rx="1.3" ry="0.5" fill="#22e66a"/>
<ellipse cx="200.2" cy="968.3" rx="0.6" ry="1.3" fill="#7cf060"/>
<ellipse cx="154.6" cy="924.8" rx="0.6" ry="2.2" fill="#00c4dc" transform="rotate(-45 154.6 924.8)"/>
<ellipse cx="195.7" cy="900.8" rx="0.8" ry="0.5" fill="#00c4dc" transform="rotate(30 195.7 900.8)"/>
<ellipse cx="164" cy="982" rx="0.6" ry="0.6" fill="#00c4dc"/>
<ellipse cx="162.4" cy="942.8" rx="0.5" ry="0.5" fill="#00c4dc"/>
<ellipse cx="212.3" cy="955.6" rx="0.5" ry="0.5" fill="#00c4dc"/>
<ellipse cx="162.5" cy="963" rx="0.5" ry="0.5" fill="#00c4dc"/>
</g></g>
<g font-family="Liberation Sans, sans-serif" font-size="3.4" fill="#222" opacity="0.8">
<text x="16.0" y="184.6" text-anchor="middle">-12000</text>
<text x="28.4" y="184.6" text-anchor="middle">-11000</text>
<text x="40.8" y="184.6" text-anchor="middle">-10000</text>
<text x="53.2" y="184.6" text-anchor="middle">-9000</text>
<text x="65.6" y="184.6" text-anchor="middle">-8000</text>
<text x="78.0" y="184.6" text-anchor="middle">-7000</text>
<text x="90.5" y="184.6" text-anchor="middle">-6000</text>
<text x="102.9" y="184.6" text-anchor="middle">-5000</text>
<text x="115.3" y="184.6" text-anchor="middle">-4000</text>
<text x="127.7" y="184.6" text-anchor="middle">-3000</text>
<text x="140.1" y="184.6" text-anchor="middle">-2000</text>
<text x="152.5" y="184.6" text-anchor="middle">-1000</text>
<text transform="translate(12.5 178.0) rotate(-90)" text-anchor="middle">1000</text>
<text transform="translate(12.5 164.3) rotate(-90)" text-anchor="middle">2000</text>
<text transform="translate(12.5 150.7) rotate(-90)" text-anchor="middle">3000</text>
<text transform="translate(12.5 137.1) rotate(-90)" text-anchor="middle">4000</text>
<text transform="translate(12.5 123.4) rotate(-90)" text-anchor="middle">5000</text>
<text transform="translate(12.5 109.8) rotate(-90)" text-anchor="middle">6000</text>
<text transform="translate(12.5 96.1) rotate(-90)" text-anchor="middle">7000</text>
<text transform="translate(12.5 82.5) rotate(-90)" text-anchor="middle">8000</text>
<text transform="translate(12.5 68.8) rotate(-90)" text-anchor="middle">9000</text>
<text transform="translate(12.5 55.2) rotate(-90)" text-anchor="middle">10000</text>
<text transform="translate(12.5 41.5) rotate(-90)" text-anchor="middle">11000</text>
<text transform="translate(7.5 108.8) rotate(-90)" text-anchor="middle">Position (micrometers)</text>
<text x="167.9" y="183.9" text-anchor="middle">-1000</text>
<text x="180.3" y="183.9" text-anchor="middle">0</text>
<text x="192.7" y="183.9" text-anchor="middle">1000</text>
<text x="205.1" y="183.9" text-anchor="middle">2000</text>
<text x="217.5" y="183.9" text-anchor="middle">3000</text>
<text x="229.9" y="183.9" text-anchor="middle">4000</text>
<text x="242.3" y="183.9" text-anchor="middle">5000</text>
<text x="254.7" y="183.9" text-anchor="middle">6000</text>
<text x="267.1" y="183.9" text-anchor="middle">7000</text>
<text x="279.5" y="183.9" text-anchor="middle">8000</text>
<text x="291.9" y="183.9" text-anchor="middle">9000</text>
<text x="304.3" y="183.9" text-anchor="middle">10000</text>
<text transform="translate(164.4 177.3) rotate(-90)" text-anchor="middle">1000</text>
<text transform="translate(164.4 163.7) rotate(-90)" text-anchor="middle">2000</text>
<text transform="translate(164.4 150.1) rotate(-90)" text-anchor="middle">3000</text>
<text transform="translate(164.4 136.5) rotate(-90)" text-anchor="middle">4000</text>
<text transform="translate(164.4 122.9) rotate(-90)" text-anchor="middle">5000</text>
<text transform="translate(164.4 109.2) rotate(-90)" text-anchor="middle">6000</text>
<text transform="translate(164.4 95.6) rotate(-90)" text-anchor="middle">7000</text>
<text transform="translate(164.4 82.0) rotate(-90)" text-anchor="middle">8000</text>
<text transform="translate(164.4 68.4) rotate(-90)" text-anchor="middle">9000</text>
<text transform="translate(164.4 54.8) rotate(-90)" text-anchor="middle">10000</text>
<text transform="translate(164.4 41.2) rotate(-90)" text-anchor="middle">11000</text>
<text transform="translate(159.4 108.2) rotate(-90)" text-anchor="middle">Position (micrometers)</text>
<text x="14.8" y="333.3" text-anchor="middle">-12000</text>
<text x="27.1" y="333.3" text-anchor="middle">-11000</text>
<text x="39.4" y="333.3" text-anchor="middle">-10000</text>
<text x="51.6" y="333.3" text-anchor="middle">-9000</text>
<text x="63.9" y="333.3" text-anchor="middle">-8000</text>
<text x="76.2" y="333.3" text-anchor="middle">-7000</text>
<text x="88.5" y="333.3" text-anchor="middle">-6000</text>
<text x="100.8" y="333.3" text-anchor="middle">-5000</text>
<text x="113.1" y="333.3" text-anchor="middle">-4000</text>
<text x="125.3" y="333.3" text-anchor="middle">-3000</text>
<text x="137.6" y="333.3" text-anchor="middle">-2000</text>
<text x="149.9" y="333.3" text-anchor="middle">-1000</text>
<text transform="translate(11.3 326.7) rotate(-90)" text-anchor="middle">-11000</text>
<text transform="translate(11.3 314.3) rotate(-90)" text-anchor="middle">-10000</text>
<text transform="translate(11.3 302.0) rotate(-90)" text-anchor="middle">-9000</text>
<text transform="translate(11.3 289.6) rotate(-90)" text-anchor="middle">-8000</text>
<text transform="translate(11.3 277.2) rotate(-90)" text-anchor="middle">-7000</text>
<text transform="translate(11.3 264.9) rotate(-90)" text-anchor="middle">-6000</text>
<text transform="translate(11.3 252.5) rotate(-90)" text-anchor="middle">-5000</text>
<text transform="translate(11.3 240.2) rotate(-90)" text-anchor="middle">-4000</text>
<text transform="translate(11.3 227.8) rotate(-90)" text-anchor="middle">-3000</text>
<text transform="translate(11.3 215.4) rotate(-90)" text-anchor="middle">-2000</text>
<text transform="translate(11.3 203.1) rotate(-90)" text-anchor="middle">-1000</text>
<text transform="translate(11.3 190.7) rotate(-90)" text-anchor="middle">0</text>
<text transform="translate(6.3 257.7) rotate(-90)" text-anchor="middle">Position (micrometers)</text>
<text x="47.6" y="337.3" text-anchor="middle">Position (micrometers)</text>
<text x="166.0" y="334.1" text-anchor="middle">-1000</text>
<text x="178.8" y="334.1" text-anchor="middle">0</text>
<text x="191.6" y="334.1" text-anchor="middle">1000</text>
<text x="204.5" y="334.1" text-anchor="middle">2000</text>
<text x="217.3" y="334.1" text-anchor="middle">3000</text>
<text x="230.1" y="334.1" text-anchor="middle">4000</text>
<text x="242.9" y="334.1" text-anchor="middle">5000</text>
<text x="255.7" y="334.1" text-anchor="middle">6000</text>
<text x="268.5" y="334.1" text-anchor="middle">7000</text>
<text x="281.4" y="334.1" text-anchor="middle">8000</text>
<text x="294.2" y="334.1" text-anchor="middle">9000</text>
<text x="307.0" y="334.1" text-anchor="middle">10000</text>
<text transform="translate(162.5 327.5) rotate(-90)" text-anchor="middle">-11000</text>
<text transform="translate(162.5 315.1) rotate(-90)" text-anchor="middle">-10000</text>
<text transform="translate(162.5 302.8) rotate(-90)" text-anchor="middle">-9000</text>
<text transform="translate(162.5 290.4) rotate(-90)" text-anchor="middle">-8000</text>
<text transform="translate(162.5 278.1) rotate(-90)" text-anchor="middle">-7000</text>
<text transform="translate(162.5 265.7) rotate(-90)" text-anchor="middle">-6000</text>
<text transform="translate(162.5 253.4) rotate(-90)" text-anchor="middle">-5000</text>
<text transform="translate(162.5 241.0) rotate(-90)" text-anchor="middle">-4000</text>
<text transform="translate(162.5 228.7) rotate(-90)" text-anchor="middle">-3000</text>
<text transform="translate(162.5 216.3) rotate(-90)" text-anchor="middle">-2000</text>
<text transform="translate(162.5 204.0) rotate(-90)" text-anchor="middle">-1000</text>
<text transform="translate(162.5 191.6) rotate(-90)" text-anchor="middle">0</text>
<text transform="translate(157.5 258.6) rotate(-90)" text-anchor="middle">Position (micrometers)</text>
<text x="200.2" y="338.1" text-anchor="middle">Position (micrometers)</text>
<text x="17.3" y="539.1" text-anchor="middle">-12000</text>
<text x="28.4" y="539.1" text-anchor="middle">-11000</text>
<text x="39.6" y="539.1" text-anchor="middle">-10000</text>
<text x="50.7" y="539.1" text-anchor="middle">-9000</text>
<text x="61.9" y="539.1" text-anchor="middle">-8000</text>
<text x="73.0" y="539.1" text-anchor="middle">-7000</text>
<text x="84.2" y="539.1" text-anchor="middle">-6000</text>
<text x="95.3" y="539.1" text-anchor="middle">-5000</text>
<text x="106.5" y="539.1" text-anchor="middle">-4000</text>
<text x="117.6" y="539.1" text-anchor="middle">-3000</text>
<text x="128.8" y="539.1" text-anchor="middle">-2000</text>
<text x="139.9" y="539.1" text-anchor="middle">-1000</text>
<text transform="translate(13.8 532.5) rotate(-90)" text-anchor="middle">1000</text>
<text transform="translate(13.8 520.3) rotate(-90)" text-anchor="middle">2000</text>
<text transform="translate(13.8 508.1) rotate(-90)" text-anchor="middle">3000</text>
<text transform="translate(13.8 495.9) rotate(-90)" text-anchor="middle">4000</text>
<text transform="translate(13.8 483.7) rotate(-90)" text-anchor="middle">5000</text>
<text transform="translate(13.8 471.5) rotate(-90)" text-anchor="middle">6000</text>
<text transform="translate(13.8 459.3) rotate(-90)" text-anchor="middle">7000</text>
<text transform="translate(13.8 447.1) rotate(-90)" text-anchor="middle">8000</text>
<text transform="translate(13.8 434.9) rotate(-90)" text-anchor="middle">9000</text>
<text transform="translate(13.8 422.7) rotate(-90)" text-anchor="middle">10000</text>
<text transform="translate(13.8 410.5) rotate(-90)" text-anchor="middle">11000</text>
<text transform="translate(8.8 470.5) rotate(-90)" text-anchor="middle">Position (micrometers)</text>
<text x="47.0" y="543.1" text-anchor="middle">Position (micrometers)</text>
<text x="154.5" y="539.0" text-anchor="middle">-1000</text>
<text x="165.7" y="539.0" text-anchor="middle">0</text>
<text x="176.9" y="539.0" text-anchor="middle">1000</text>
<text x="188.1" y="539.0" text-anchor="middle">2000</text>
<text x="199.3" y="539.0" text-anchor="middle">3000</text>
<text x="210.5" y="539.0" text-anchor="middle">4000</text>
<text x="221.8" y="539.0" text-anchor="middle">5000</text>
<text x="233.0" y="539.0" text-anchor="middle">6000</text>
<text x="244.2" y="539.0" text-anchor="middle">7000</text>
<text x="255.4" y="539.0" text-anchor="middle">8000</text>
<text x="266.6" y="539.0" text-anchor="middle">9000</text>
<text x="277.8" y="539.0" text-anchor="middle">10000</text>
<text transform="translate(151.0 532.4) rotate(-90)" text-anchor="middle">1000</text>
<text transform="translate(151.0 520.1) rotate(-90)" text-anchor="middle">2000</text>
<text transform="translate(151.0 507.9) rotate(-90)" text-anchor="middle">3000</text>
<text transform="translate(151.0 495.6) rotate(-90)" text-anchor="middle">4000</text>
<text transform="translate(151.0 483.3) rotate(-90)" text-anchor="middle">5000</text>
<text transform="translate(151.0 471.0) rotate(-90)" text-anchor="middle">6000</text>
<text transform="translate(151.0 458.8) rotate(-90)" text-anchor="middle">7000</text>
<text transform="translate(151.0 446.5) rotate(-90)" text-anchor="middle">8000</text>
<text transform="translate(151.0 434.2) rotate(-90)" text-anchor="middle">9000</text>
<text transform="translate(151.0 422.0) rotate(-90)" text-anchor="middle">10000</text>
<text transform="translate(151.0 409.7) rotate(-90)" text-anchor="middle">11000</text>
<text transform="translate(146.0 470.0) rotate(-90)" text-anchor="middle">Position (micrometers)</text>
<text x="184.3" y="543.0" text-anchor="middle">Position (micrometers)</text>
<text x="17.3" y="680.6" text-anchor="middle">-12000</text>
<text x="28.7" y="680.6" text-anchor="middle">-11000</text>
<text x="40.0" y="680.6" text-anchor="middle">-10000</text>
<text x="51.4" y="680.6" text-anchor="middle">-9000</text>
<text x="62.8" y="680.6" text-anchor="middle">-8000</text>
<text x="74.2" y="680.6" text-anchor="middle">-7000</text>
<text x="85.5" y="680.6" text-anchor="middle">-6000</text>
<text x="96.9" y="680.6" text-anchor="middle">-5000</text>
<text x="108.3" y="680.6" text-anchor="middle">-4000</text>
<text x="119.7" y="680.6" text-anchor="middle">-3000</text>
<text x="131.0" y="680.6" text-anchor="middle">-2000</text>
<text x="142.4" y="680.6" text-anchor="middle">-1000</text>
<text transform="translate(13.8 674.0) rotate(-90)" text-anchor="middle">-11000</text>
<text transform="translate(13.8 662.9) rotate(-90)" text-anchor="middle">-10000</text>
<text transform="translate(13.8 651.9) rotate(-90)" text-anchor="middle">-9000</text>
<text transform="translate(13.8 640.8) rotate(-90)" text-anchor="middle">-8000</text>
<text transform="translate(13.8 629.8) rotate(-90)" text-anchor="middle">-7000</text>
<text transform="translate(13.8 618.7) rotate(-90)" text-anchor="middle">-6000</text>
<text transform="translate(13.8 607.7) rotate(-90)" text-anchor="middle">-5000</text>
<text transform="translate(13.8 596.6) rotate(-90)" text-anchor="middle">-4000</text>
<text transform="translate(13.8 585.6) rotate(-90)" text-anchor="middle">-3000</text>
<text transform="translate(13.8 574.5) rotate(-90)" text-anchor="middle">-2000</text>
<text transform="translate(13.8 563.5) rotate(-90)" text-anchor="middle">-1000</text>
<text transform="translate(13.8 552.4) rotate(-90)" text-anchor="middle">0</text>
<text transform="translate(8.8 612.2) rotate(-90)" text-anchor="middle">Position (micrometers)</text>
<text x="47.6" y="684.6" text-anchor="middle">Position (micrometers)</text>
<text x="158.2" y="683.0" text-anchor="middle">-1000</text>
<text x="169.4" y="683.0" text-anchor="middle">0</text>
<text x="180.5" y="683.0" text-anchor="middle">1000</text>
<text x="191.7" y="683.0" text-anchor="middle">2000</text>
<text x="202.9" y="683.0" text-anchor="middle">3000</text>
<text x="214.0" y="683.0" text-anchor="middle">4000</text>
<text x="225.2" y="683.0" text-anchor="middle">5000</text>
<text x="236.3" y="683.0" text-anchor="middle">6000</text>
<text x="247.5" y="683.0" text-anchor="middle">7000</text>
<text x="258.7" y="683.0" text-anchor="middle">8000</text>
<text x="269.8" y="683.0" text-anchor="middle">9000</text>
<text x="281.0" y="683.0" text-anchor="middle">10000</text>
<text transform="translate(154.7 676.4) rotate(-90)" text-anchor="middle">-11000</text>
<text transform="translate(154.7 665.3) rotate(-90)" text-anchor="middle">-10000</text>
<text transform="translate(154.7 654.2) rotate(-90)" text-anchor="middle">-9000</text>
<text transform="translate(154.7 643.0) rotate(-90)" text-anchor="middle">-8000</text>
<text transform="translate(154.7 631.9) rotate(-90)" text-anchor="middle">-7000</text>
<text transform="translate(154.7 620.8) rotate(-90)" text-anchor="middle">-6000</text>
<text transform="translate(154.7 609.7) rotate(-90)" text-anchor="middle">-5000</text>
<text transform="translate(154.7 598.6) rotate(-90)" text-anchor="middle">-4000</text>
<text transform="translate(154.7 587.5) rotate(-90)" text-anchor="middle">-3000</text>
<text transform="translate(154.7 576.3) rotate(-90)" text-anchor="middle">-2000</text>
<text transform="translate(154.7 565.2) rotate(-90)" text-anchor="middle">-1000</text>
<text transform="translate(154.7 554.1) rotate(-90)" text-anchor="middle">0</text>
<text transform="translate(149.7 614.2) rotate(-90)" text-anchor="middle">Position (micrometers)</text>
<text x="187.9" y="687.0" text-anchor="middle">Position (micrometers)</text>
<text x="20.0" y="892.8" text-anchor="middle">-12000</text>
<text x="30.5" y="892.8" text-anchor="middle">-11000</text>
<text x="41.1" y="892.8" text-anchor="middle">-10000</text>
<text x="51.6" y="892.8" text-anchor="middle">-9000</text>
<text x="62.1" y="892.8" text-anchor="middle">-8000</text>
<text x="72.7" y="892.8" text-anchor="middle">-7000</text>
<text x="83.2" y="892.8" text-anchor="middle">-6000</text>
<text x="93.8" y="892.8" text-anchor="middle">-5000</text>
<text x="104.3" y="892.8" text-anchor="middle">-4000</text>
<text x="114.8" y="892.8" text-anchor="middle">-3000</text>
<text x="125.4" y="892.8" text-anchor="middle">-2000</text>
<text x="135.9" y="892.8" text-anchor="middle">-1000</text>
<text transform="translate(16.5 886.2) rotate(-90)" text-anchor="middle">1000</text>
<text transform="translate(16.5 874.3) rotate(-90)" text-anchor="middle">2000</text>
<text transform="translate(16.5 862.4) rotate(-90)" text-anchor="middle">3000</text>
<text transform="translate(16.5 850.5) rotate(-90)" text-anchor="middle">4000</text>
<text transform="translate(16.5 838.6) rotate(-90)" text-anchor="middle">5000</text>
<text transform="translate(16.5 826.8) rotate(-90)" text-anchor="middle">6000</text>
<text transform="translate(16.5 814.9) rotate(-90)" text-anchor="middle">7000</text>
<text transform="translate(16.5 803.0) rotate(-90)" text-anchor="middle">8000</text>
<text transform="translate(16.5 791.1) rotate(-90)" text-anchor="middle">9000</text>
<text transform="translate(16.5 779.2) rotate(-90)" text-anchor="middle">10000</text>
<text transform="translate(16.5 767.3) rotate(-90)" text-anchor="middle">11000</text>
<text transform="translate(11.5 825.8) rotate(-90)" text-anchor="middle">Position (micrometers)</text>
<text x="48.0" y="896.8" text-anchor="middle">Position (micrometers)</text>
<text x="152.3" y="891.6" text-anchor="middle">-1000</text>
<text x="163.2" y="891.6" text-anchor="middle">0</text>
<text x="174.1" y="891.6" text-anchor="middle">1000</text>
<text x="185.0" y="891.6" text-anchor="middle">2000</text>
<text x="195.9" y="891.6" text-anchor="middle">3000</text>
<text x="206.8" y="891.6" text-anchor="middle">4000</text>
<text x="217.8" y="891.6" text-anchor="middle">5000</text>
<text x="228.7" y="891.6" text-anchor="middle">6000</text>
<text x="239.6" y="891.6" text-anchor="middle">7000</text>
<text x="250.5" y="891.6" text-anchor="middle">8000</text>
<text x="261.4" y="891.6" text-anchor="middle">9000</text>
<text x="272.3" y="891.6" text-anchor="middle">10000</text>
<text transform="translate(148.8 885.0) rotate(-90)" text-anchor="middle">1000</text>
<text transform="translate(148.8 873.1) rotate(-90)" text-anchor="middle">2000</text>
<text transform="translate(148.8 861.2) rotate(-90)" text-anchor="middle">3000</text>
<text transform="translate(148.8 849.2) rotate(-90)" text-anchor="middle">4000</text>
<text transform="translate(148.8 837.3) rotate(-90)" text-anchor="middle">5000</text>
<text transform="translate(148.8 825.4) rotate(-90)" text-anchor="middle">6000</text>
<text transform="translate(148.8 813.5) rotate(-90)" text-anchor="middle">7000</text>
<text transform="translate(148.8 801.6) rotate(-90)" text-anchor="middle">8000</text>
<text transform="translate(148.8 789.6) rotate(-90)" text-anchor="middle">9000</text>
<text transform="translate(148.8 777.7) rotate(-90)" text-anchor="middle">10000</text>
<text transform="translate(148.8 765.8) rotate(-90)" text-anchor="middle">11000</text>
<text transform="translate(143.8 824.4) rotate(-90)" text-anchor="middle">Position (micrometers)</text>
<text x="181.3" y="895.6" text-anchor="middle">Position (micrometers)</text>
<text x="17.2" y="1027.6" text-anchor="middle">-12000</text>
<text x="28.2" y="1027.6" text-anchor="middle">-11000</text>
<text x="39.1" y="1027.6" text-anchor="middle">-10000</text>
<text x="50.1" y="1027.6" text-anchor="middle">-9000</text>
<text x="61.1" y="1027.6" text-anchor="middle">-8000</text>
<text x="72.0" y="1027.6" text-anchor="middle">-7000</text>
<text x="83.0" y="1027.6" text-anchor="middle">-6000</text>
<text x="93.9" y="1027.6" text-anchor="middle">-5000</text>
<text x="104.9" y="1027.6" text-anchor="middle">-4000</text>
<text x="115.9" y="1027.6" text-anchor="middle">-3000</text>
<text x="126.8" y="1027.6" text-anchor="middle">-2000</text>
<text x="137.8" y="1027.6" text-anchor="middle">-1000</text>
<text transform="translate(13.7 1021.0) rotate(-90)" text-anchor="middle">-11000</text>
<text transform="translate(13.7 1010.2) rotate(-90)" text-anchor="middle">-10000</text>
<text transform="translate(13.7 999.4) rotate(-90)" text-anchor="middle">-9000</text>
<text transform="translate(13.7 988.6) rotate(-90)" text-anchor="middle">-8000</text>
<text transform="translate(13.7 977.8) rotate(-90)" text-anchor="middle">-7000</text>
<text transform="translate(13.7 967.0) rotate(-90)" text-anchor="middle">-6000</text>
<text transform="translate(13.7 956.2) rotate(-90)" text-anchor="middle">-5000</text>
<text transform="translate(13.7 945.4) rotate(-90)" text-anchor="middle">-4000</text>
<text transform="translate(13.7 934.6) rotate(-90)" text-anchor="middle">-3000</text>
<text transform="translate(13.7 923.8) rotate(-90)" text-anchor="middle">-2000</text>
<text transform="translate(13.7 913.0) rotate(-90)" text-anchor="middle">-1000</text>
<text transform="translate(13.7 902.2) rotate(-90)" text-anchor="middle">0</text>
<text transform="translate(8.7 960.6) rotate(-90)" text-anchor="middle">Position (micrometers)</text>
<text x="46.4" y="1031.6" text-anchor="middle">Position (micrometers)</text>
<text x="154.2" y="1028.6" text-anchor="middle">-1000</text>
<text x="164.9" y="1028.6" text-anchor="middle">0</text>
<text x="175.7" y="1028.6" text-anchor="middle">1000</text>
<text x="186.4" y="1028.6" text-anchor="middle">2000</text>
<text x="197.1" y="1028.6" text-anchor="middle">3000</text>
<text x="207.9" y="1028.6" text-anchor="middle">4000</text>
<text x="218.6" y="1028.6" text-anchor="middle">5000</text>
<text x="229.4" y="1028.6" text-anchor="middle">6000</text>
<text x="240.1" y="1028.6" text-anchor="middle">7000</text>
<text x="250.8" y="1028.6" text-anchor="middle">8000</text>
<text x="261.6" y="1028.6" text-anchor="middle">9000</text>
<text x="272.3" y="1028.6" text-anchor="middle">10000</text>
<text transform="translate(150.7 1022.0) rotate(-90)" text-anchor="middle">-11000</text>
<text transform="translate(150.7 1011.1) rotate(-90)" text-anchor="middle">-10000</text>
<text transform="translate(150.7 1000.3) rotate(-90)" text-anchor="middle">-9000</text>
<text transform="translate(150.7 989.4) rotate(-90)" text-anchor="middle">-8000</text>
<text transform="translate(150.7 978.5) rotate(-90)" text-anchor="middle">-7000</text>
<text transform="translate(150.7 967.6) rotate(-90)" text-anchor="middle">-6000</text>
<text transform="translate(150.7 956.8) rotate(-90)" text-anchor="middle">-5000</text>
<text transform="translate(150.7 945.9) rotate(-90)" text-anchor="middle">-4000</text>
<text transform="translate(150.7 935.0) rotate(-90)" text-anchor="middle">-3000</text>
<text transform="translate(150.7 924.1) rotate(-90)" text-anchor="middle">-2000</text>
<text transform="translate(150.7 913.3) rotate(-90)" text-anchor="middle">-1000</text>
<text transform="translate(150.7 902.4) rotate(-90)" text-anchor="middle">0</text>
<text transform="translate(145.7 961.2) rotate(-90)" text-anchor="middle">Position (micrometers)</text>
<text x="182.7" y="1032.6" text-anchor="middle">Position (micrometers)</text>
</g>
<rect x="104.80" y="172.80" width="15.00" height="16.60" fill="none" stroke="#c00000" stroke-width="2.6"/>
<path d="M109.5 178.75H115.5M112.5 175.75V181.75" stroke="#ff2020" stroke-width="0.9" fill="none"/>
<rect x="220.20" y="136.50" width="15.50" height="16.30" fill="none" stroke="#c00000" stroke-width="2.6"/>
<path d="M225.4 143.6H231.4M228.4 140.6V146.6" stroke="#ff2020" stroke-width="0.9" fill="none"/>
<rect x="105.05" y="245.30" width="14.90" height="15.70" fill="none" stroke="#c00000" stroke-width="2.6"/>
<path d="M110.1 252.7H116.1M113.1 249.7V255.7" stroke="#ff2020" stroke-width="0.9" fill="none"/>
<rect x="164.70" y="191.50" width="16.00" height="15.90" fill="none" stroke="#c00000" stroke-width="2.6"/>
<path d="M169.7 197.3H175.7M172.7 194.3V200.3" stroke="#ff2020" stroke-width="0.9" fill="none"/>
<rect x="88.80" y="469.90" width="16.70" height="17.00" fill="none" stroke="#c00000" stroke-width="3"/>
<path d="M94.5 478.6H100.5M97.5 475.6V481.6" stroke="#ff2020" stroke-width="0.9" fill="none"/>
<rect x="183.30" y="433.30" width="16.80" height="17.20" fill="none" stroke="#c00000" stroke-width="3"/>
<path d="M188.5 441.5H194.5M191.5 438.5V444.5" stroke="#ff2020" stroke-width="0.9" fill="none"/>
<rect x="130.10" y="610.40" width="16.50" height="16.60" fill="none" stroke="#c00000" stroke-width="3"/>
<path d="M135 617.9H141M138 614.9V620.9" stroke="#ff2020" stroke-width="0.9" fill="none"/>
<rect x="189.60" y="612.20" width="16.20" height="16.80" fill="none" stroke="#c00000" stroke-width="3"/>
<path d="M194.6 620.8H200.6M197.6 617.8V623.8" stroke="#ff2020" stroke-width="0.9" fill="none"/>
<rect x="151.20" y="869.50" width="16.00" height="16.60" fill="none" stroke="#c00000" stroke-width="3"/>
<rect x="120.40" y="983.90" width="16.00" height="16.70" fill="none" stroke="#c00000" stroke-width="3"/>
<path d="M127.69999999999999 993.6H133.7M130.7 990.6V996.6" stroke="#ff2020" stroke-width="0.9" fill="none"/>
<rect x="148.60" y="921.80" width="16.20" height="15.60" fill="none" stroke="#c00000" stroke-width="3"/>
<path d="M153.9 928.7H159.9M156.9 925.7V931.7" stroke="#ff2020" stroke-width="0.9" fill="none"/>
<path d="M156.20000000000002 879.4H161.4M158.8 876.8V882.0" stroke="#ff2020" stroke-width="0.8" fill="none"/>
<path d="M124.30000000000001 820H129.5M126.9 817.4V822.6" stroke="#ff2020" stroke-width="1.0" fill="none"/>
<g stroke="#c00000" stroke-width="0.8" fill="none">
<path d="M237 143L470.5 101.4" marker-end="url(#ah)"/>
<path d="M201.6 441.8H479.5" marker-end="url(#ah)"/>
<path d="M168.7 877.3L455 814" marker-end="url(#ah)"/>
</g>
<rect x="7.5" y="2.4" width="295.5" height="26.3" fill="#e9e5ef" stroke="#333" stroke-width="0.9" stroke-dasharray="2.4 1.6"/>
<text x="154.4" y="21.0" text-anchor="middle" font-family="Liberation Sans, sans-serif" font-weight="bold" font-size="16.2" fill="#222">(a) Polystyrene</text>
<rect x="14.5" y="363.7" width="264.5" height="28.6" fill="#e0f8e0" stroke="#333" stroke-width="1.1" stroke-dasharray="4.5 2.2"/>
<text x="147.0" y="385.1" text-anchor="middle" font-family="Liberation Sans, sans-serif" font-weight="bold" font-size="17.5" fill="#222">(b) Polyethylene</text>
<rect x="5.5" y="711.2" width="280.2" height="28.4" fill="#dffafc" stroke="#333" stroke-width="1.1" stroke-dasharray="4.5 2.2"/>
<text x="145.6" y="732.4" text-anchor="middle" font-family="Liberation Sans, sans-serif" font-weight="bold" font-size="17.4" fill="#222">(c) Polypropylene</text>
<path d="M333.7 138.9L333.9 142.3L334.3 147.0L334.6 151.5L334.8 155.6L335.0 159.4L335.3 161.6L335.6 161.3L336.0 159.4L336.8 157.8L337.8 157.3L339.1 157.2L341.6 157.2L346.0 157.5L351.7 158.0L357.3 158.5L362.6 158.8L367.9 159.2L373.1 159.4L378.4 159.5L383.7 159.5L388.9 159.4L394.2 159.3L399.4 159.0L404.7 158.8L410.1 158.5L415.5 158.2L420.5 157.8L424.9 157.5L429.0 157.1L433.1 156.9L437.2 156.9L441.3 157.0L445.7 157.2L450.9 157.3L456.4 157.5L461.5 157.5L466.2 157.5L470.6 157.5L474.1 157.2L476.4 157.0L477.7 156.6L478.9 154.7L480.1 150.5L481.1 144.9L482.0 138.9L482.9 132.6L483.8 125.9L484.6 119.9L485.3 115.1L486.1 111.0L486.8 107.3L487.4 103.4L488.1 100.0L488.7 98.5L489.1 99.8L489.5 103.1L489.9 107.3L490.3 114.2L490.8 122.1L491.2 124.7L491.6 118.7L492.0 107.4L492.4 94.7L493.0 79.9L493.5 63.8L494.0 52.1L494.4 47.3L494.7 47.0L495.0 49.6L495.4 54.4L495.8 62.2L496.2 72.6L496.7 87.7L497.1 105.4L497.5 119.9L497.9 129.0L498.3 134.8L498.8 138.3L499.3 138.4L499.8 136.2L500.3 135.7L500.8 139.3L501.2 144.6L501.6 148.4L502.1 149.6L502.6 149.2L503.2 146.8L503.8 142.3L504.4 135.8L505.1 126.3L505.7 112.5L506.3 95.7L507.0 78.9L507.6 62.3L508.2 45.7L508.9 31.6L509.5 20.3L510.1 11.6L510.8 6.3L511.4 5.0L512.0 7.2L512.7 12.6L513.3 21.3L513.9 33.1L514.5 47.3L515.3 65.6L516.0 86.4L516.8 104.2L517.5 117.6L518.3 128.0L519.0 134.2L519.6 134.6L520.2 130.8L520.9 126.3L521.5 121.5L522.2 116.1L522.8 112.1L523.2 110.0L523.6 109.3L524.0 110.5L524.6 114.2L525.3 119.9L525.9 126.3L526.5 133.7L527.1 141.9L527.8 148.4L528.6 151.8L529.6 153.5L531.0 154.7L532.6 155.8L534.6 156.5L537.3 156.9L541.5 157.1L546.4 157.0L549.9 156.9L549.7 156.8L548.2 156.6L550.0 156.6L558.4 156.7L570.2 156.9L580.6 157.2L588.2 157.7L594.4 158.4L598.9 158.4L601.1 157.4L601.6 155.8L602.0 154.4L602.8 153.2L603.5 152.2L604.1 152.0L604.8 153.5L605.3 155.9L606.0 157.5L606.6 157.4L607.3 156.5L608.1 156.0L608.5 156.5L609.0 157.3L611.2 158.1L616.7 158.6L623.8 158.9L629.5 159.0L632.1 158.7L633.1 158.3L634.1 158.1L635.5 158.6L636.8 159.4L638.7 159.9L641.6 160.1L645.1 160.1L647.9 159.9L649.3 159.6L650.1 159.2L650.9 159.0L651.9 159.3L653.0 159.9L654.0 160.2L655.0 160.0L656.0 159.6L657.0 159.3L657.9 159.7L658.8 160.3L660.1 160.6L662.0 160.4L664.2 160.0L666.2 159.0L667.9 157.2L669.5 154.8L670.8 152.9L671.8 151.5L672.5 150.5L673.2 150.5L674.1 151.8L675.0 154.0L676.0 156.0L677.2 157.7L678.6 159.1L680.0 159.6L681.3 158.4L682.6 156.2L683.6 154.4L684.4 153.4L684.9 152.8L685.5 152.9L686.3 154.1L687.2 155.9L688.2 157.5L689.5 158.7L690.8 159.6L692.2 159.6L693.6 157.9L695.0 155.4L696.2 153.8L696.9 154.4L697.5 156.0L698.3 157.5L699.7 158.7L701.3 159.8L702.9 159.9L704.3 158.3L705.7 155.9L706.9 154.4L707.6 155.2L708.2 157.1L709.0 158.4L710.4 158.6L712.0 158.2L713.6 157.5L715.2 156.3L716.8 154.8L718.2 153.8L719.3 153.9L720.2 154.5L721.3 155.4L722.5 157.1L723.8 159.1L724.9 158.4L725.8 153.1L726.6 145.1L727.4 137.6L728.1 131.0L728.9 124.9L729.5 120.8L730.1 119.1L730.5 119.4L731.0 122.3L731.6 129.3L732.2 138.7L732.9 146.8L733.5 152.1L734.2 156.1L735.0 158.4L736.0 158.6L737.1 157.3L738.1 156.0L738.8 155.0L739.5 154.1L740.2 153.8L741.0 154.6L741.9 156.1L742.7 157.5L743.4 160.1L744.2 162.6L744.8 160.6L745.3 150.9L745.7 136.8L746.0 122.3L746.4 107.6L746.8 92.6L747.2 82.0L747.7 76.9L748.3 76.0L748.8 80.1L749.2 91.3L749.6 107.3L750.0 122.3L750.5 136.7L751.0 150.0L751.5 155.4L751.9 148.0L752.3 132.7L752.8 116.2L753.3 99.1L753.8 80.8L754.3 67.3L754.6 60.5L754.9 58.4L755.2 60.6L755.6 67.6L756.0 78.9L756.4 91.7L756.9 107.0L757.4 123.8L758.0 137.6L758.6 146.6L759.3 152.6L760.1 156.0L761.0 156.5L762.0 154.4L763.1 151.4L764.6 146.8L766.3 141.2L767.7 137.6L768.9 137.8L769.8 139.9L770.8 142.2L771.8 144.1L772.8 146.1L773.9 147.4L774.9 147.5L775.9 146.9L776.9 146.8L777.9 147.6L778.7 148.9L779.4 149.8" fill="none" stroke="#9450c8" stroke-width="0.8" stroke-linejoin="round" opacity="1"/>
<path d="M333.7 153.7L340.1 153.7L349.2 153.7L357.3 153.7L363.2 153.9L368.2 154.0L373.1 154.0L378.4 153.8L383.7 153.3L388.9 152.8L394.2 152.2L399.4 151.6L404.7 150.9L410.1 150.1L415.5 149.2L420.5 148.4L424.9 147.7L429.0 147.1L433.1 146.8L437.2 146.9L441.3 147.3L445.7 147.7L450.8 148.2L456.1 148.6L461.5 149.0L467.2 149.3L473.0 149.4L477.3 149.3L479.3 149.1L479.9 148.6L480.5 146.8L481.5 143.0L482.6 137.9L483.6 132.6L484.4 127.1L485.1 121.5L485.8 116.8L486.7 113.2L487.5 110.5L488.3 108.9L489.2 108.4L489.9 108.9L490.6 110.5L490.9 114.9L491.2 120.3L491.5 121.5L492.0 115.0L492.5 104.2L493.1 94.7L493.6 87.4L494.1 81.4L494.7 78.9L495.2 81.3L495.7 87.1L496.2 94.7L496.8 104.7L497.3 116.4L497.8 126.3L498.3 132.7L498.8 137.2L499.4 140.5L500.2 143.1L501.1 144.5L501.9 143.6L502.7 139.9L503.5 133.9L504.1 126.3L504.7 117.4L505.1 106.9L505.7 94.7L506.5 79.5L507.4 62.5L508.2 47.3L509.0 34.9L509.8 24.3L510.4 15.8L510.8 9.4L511.1 5.3L511.4 3.8L511.8 5.3L512.2 9.4L512.7 15.8L513.2 24.5L513.9 35.4L514.5 47.3L515.3 60.8L516.0 75.3L516.8 88.4L517.5 100.1L518.2 110.5L519.0 116.8L519.8 116.7L520.7 112.5L521.5 108.9L522.3 107.2L523.0 106.0L523.7 105.7L524.3 106.0L525.0 107.1L525.6 110.5L526.3 117.8L527.0 127.5L527.8 135.7L528.7 141.2L529.6 145.2L531.0 148.4L532.6 150.6L534.6 152.0L537.3 153.1L541.5 154.1L546.4 154.8L549.9 155.3L550.3 155.6L549.3 155.8L550.0 156.0L554.0 156.3L559.6 156.6L565.3 156.9L570.4 157.2L575.5 157.5L580.6 157.8L585.7 158.2L590.8 158.6L595.9 159.0L601.2 159.3L606.6 159.5L611.2 159.6L614.7 159.7L617.5 159.6L619.7 159.0L621.2 157.3L622.0 155.1L622.8 153.8L623.5 154.4L624.1 156.0L624.9 157.5L625.6 158.5L626.6 159.3L629.5 159.9L635.7 160.3L643.8 160.5L650.9 160.6L655.9 160.5L659.9 160.2L663.1 159.6L665.7 158.6L667.6 157.3L669.3 156.0L670.8 154.3L672.0 152.7L673.2 152.0L674.5 152.9L675.7 154.8L676.9 156.6L678.2 158.0L679.6 159.2L680.9 159.6L682.2 158.6L683.5 156.8L684.6 155.4L685.3 154.6L685.9 154.2L686.7 154.4L687.7 155.7L688.9 157.6L690.1 159.0L691.1 159.7L692.1 159.9L693.1 159.6L694.3 158.3L695.6 156.4L696.8 155.4L697.6 156.1L698.4 157.7L699.2 159.0L700.4 159.7L701.6 160.0L702.9 159.6L704.2 157.9L705.6 155.5L706.9 153.8L708.1 154.0L709.3 154.9L710.6 155.4L712.0 154.4L713.6 153.0L715.1 152.0L716.7 151.8L718.2 152.2L719.7 152.9L721.3 154.6L722.9 156.7L724.3 157.5L725.2 156.1L725.9 153.4L726.8 149.8L727.9 144.2L729.2 137.7L730.4 134.6L731.5 137.6L732.5 144.1L733.5 149.8L734.3 153.8L735.0 157.0L735.9 159.0L737.1 159.0L738.4 157.7L739.6 156.9L740.7 157.1L741.7 157.8L742.7 158.4L743.6 160.0L744.4 161.6L745.1 159.6L745.7 151.2L746.2 139.1L746.6 128.4L747.1 120.0L747.7 113.0L748.2 110.1L748.7 113.3L749.2 120.5L749.7 128.4L750.2 138.2L750.7 148.6L751.2 152.9L751.6 147.0L752.0 135.0L752.4 122.3L752.9 109.4L753.5 95.8L754.0 85.6L754.5 80.3L755.0 78.4L755.5 80.1L756.0 86.2L756.5 95.9L757.0 107.0L757.6 120.4L758.2 135.3L758.9 146.8L759.5 152.9L760.2 155.6L761.0 156.6L761.9 155.7L763.0 153.0L764.1 149.8L765.2 146.0L766.5 141.8L767.7 139.1L769.1 139.4L770.4 141.3L771.7 143.1L772.8 144.5L773.9 145.9L774.8 146.8L775.5 146.8L776.2 146.3L776.9 146.2L777.8 147.0L778.7 148.3L779.4 149.2" fill="none" stroke="#f25858" stroke-width="0.8" stroke-linejoin="round" opacity="1"/>
<path d="M333 2V162" stroke="#888" stroke-width="0.6" fill="none" stroke-dasharray="1.2 0.8"/>
<path d="M333 162H779.5" stroke="#999" stroke-width="0.6" fill="none"/>
<g font-family="Liberation Sans, sans-serif" font-size="3.5" fill="#2a2a2a">
<text x="330.8" y="7.5" text-anchor="end">0.80</text>
<path d="M331.5 6.3H333" stroke="#666" stroke-width="0.5"/>
<text x="330.8" y="20.0" text-anchor="end">0.75</text>
<path d="M331.5 18.8H333" stroke="#666" stroke-width="0.5"/>
<text x="330.8" y="32.5" text-anchor="end">0.70</text>
<path d="M331.5 31.3H333" stroke="#666" stroke-width="0.5"/>
<text x="330.8" y="45.0" text-anchor="end">0.65</text>
<path d="M331.5 43.8H333" stroke="#666" stroke-width="0.5"/>
<text x="330.8" y="57.5" text-anchor="end">0.60</text>
<path d="M331.5 56.3H333" stroke="#666" stroke-width="0.5"/>
<text x="330.8" y="70.0" text-anchor="end">0.55</text>
<path d="M331.5 68.8H333" stroke="#666" stroke-width="0.5"/>
<text x="330.8" y="82.5" text-anchor="end">0.50</text>
<path d="M331.5 81.3H333" stroke="#666" stroke-width="0.5"/>
<text x="330.8" y="95.0" text-anchor="end">0.45</text>
<path d="M331.5 93.8H333" stroke="#666" stroke-width="0.5"/>
<text x="330.8" y="107.5" text-anchor="end">0.40</text>
<path d="M331.5 106.3H333" stroke="#666" stroke-width="0.5"/>
<text x="330.8" y="120.0" text-anchor="end">0.35</text>
<path d="M331.5 118.8H333" stroke="#666" stroke-width="0.5"/>
<text x="330.8" y="132.5" text-anchor="end">0.30</text>
<path d="M331.5 131.3H333" stroke="#666" stroke-width="0.5"/>
<text x="330.8" y="145.0" text-anchor="end">0.25</text>
<path d="M331.5 143.8H333" stroke="#666" stroke-width="0.5"/>
<text x="330.8" y="157.5" text-anchor="end">0.20</text>
<path d="M331.5 156.3H333" stroke="#666" stroke-width="0.5"/>
<text x="333.0" y="168.5" text-anchor="middle">4000</text>
<path d="M333.0 162v1.6" stroke="#666" stroke-width="0.5"/>
<text x="366.1" y="168.5" text-anchor="middle">3800</text>
<path d="M366.1 162v1.6" stroke="#666" stroke-width="0.5"/>
<text x="399.2" y="168.5" text-anchor="middle">3600</text>
<path d="M399.2 162v1.6" stroke="#666" stroke-width="0.5"/>
<text x="432.3" y="168.5" text-anchor="middle">3400</text>
<path d="M432.3 162v1.6" stroke="#666" stroke-width="0.5"/>
<text x="465.4" y="168.5" text-anchor="middle">3200</text>
<path d="M465.4 162v1.6" stroke="#666" stroke-width="0.5"/>
<text x="498.5" y="168.5" text-anchor="middle">3000</text>
<path d="M498.5 162v1.6" stroke="#666" stroke-width="0.5"/>
<text x="531.6" y="168.5" text-anchor="middle">2800</text>
<path d="M531.6 162v1.6" stroke="#666" stroke-width="0.5"/>
<text x="564.7" y="168.5" text-anchor="middle">2600</text>
<path d="M564.7 162v1.6" stroke="#666" stroke-width="0.5"/>
<text x="597.8" y="168.5" text-anchor="middle">2400</text>
<path d="M597.8 162v1.6" stroke="#666" stroke-width="0.5"/>
<text x="630.9" y="168.5" text-anchor="middle">2200</text>
<path d="M630.9 162v1.6" stroke="#666" stroke-width="0.5"/>
<text x="664.0" y="168.5" text-anchor="middle">2000</text>
<path d="M664.0 162v1.6" stroke="#666" stroke-width="0.5"/>
<text x="697.1" y="168.5" text-anchor="middle">1800</text>
<path d="M697.1 162v1.6" stroke="#666" stroke-width="0.5"/>
<text x="730.2" y="168.5" text-anchor="middle">1600</text>
<path d="M730.2 162v1.6" stroke="#666" stroke-width="0.5"/>
<text x="763.3" y="168.5" text-anchor="middle">1400</text>
<path d="M763.3 162v1.6" stroke="#666" stroke-width="0.5"/>
</g>
<text x="544.2" y="180.8" text-anchor="middle" font-family="Liberation Sans, sans-serif" font-size="9.1" fill="#333">Wavenumber (cm <tspan font-size="5.6" dy="-2.2">-1</tspan><tspan dy="2.2">)</tspan></text>
<text transform="translate(319.6 82.8) rotate(-90)" text-anchor="middle" font-family="Liberation Sans, sans-serif" font-size="9.25" fill="#333">Absorbance</text>
<text x="335.5" y="7" font-family="Liberation Sans, sans-serif" font-size="3.4" font-weight="bold" fill="#e03030">2022_5_16_14_7_12</text>
<text x="335.5" y="13.5" font-family="Liberation Sans, sans-serif" font-size="3.4" font-weight="bold" fill="#8a3fc0">Poly(styrene)</text>
<path d="M368.4 7H403.1" stroke="#ee1010" stroke-width="2.6"/>
<text x="415.1" y="12.4" font-family="Liberation Sans, sans-serif" font-weight="bold" font-size="14.2" fill="#222">Unknown</text>
<path d="M368.4 25.3H403.1" stroke="#7a30b8" stroke-width="2.6"/>
<text x="415.1" y="30.2" font-family="Liberation Sans, sans-serif" font-weight="bold" font-size="14.2" fill="#222">Polystyrene</text>
<text x="652.4" y="20.8" font-family="Liberation Sans, sans-serif" font-weight="bold" font-size="16" fill="#222">Match 96.50 %</text>
<path d="M303.6 537.2L310.0 537.1L319.2 537.0L329.2 536.9L340.6 536.8L352.7 536.8L362.1 536.5L366.8 536.1L368.7 535.4L370.3 534.9L372.2 534.5L373.7 534.2L375.2 534.3L376.5 534.8L377.8 535.7L380.1 536.2L384.0 536.1L389.0 535.6L394.9 535.2L402.1 535.0L410.2 534.9L417.9 534.9L424.7 535.2L431.1 535.6L437.6 535.9L444.4 536.0L451.2 535.9L457.3 535.6L462.3 534.8L466.5 533.7L470.4 532.3L474.1 530.5L477.5 528.3L480.3 525.7L482.3 523.4L483.8 520.7L485.2 515.9L486.4 508.2L487.5 498.4L488.5 486.3L489.3 471.4L490.0 454.2L490.8 437.1L491.6 419.4L492.5 401.8L493.4 387.8L494.5 379.5L495.6 375.0L496.7 372.1L497.6 370.2L498.5 370.1L499.3 371.4L500.1 373.9L500.8 378.0L501.6 384.5L502.4 395.4L503.1 408.8L503.9 420.7L504.8 430.8L505.7 439.4L506.5 443.0L507.1 438.8L507.7 429.6L508.2 420.7L508.7 413.0L509.3 405.5L509.8 400.3L510.4 397.7L510.9 397.3L511.5 401.0L511.9 409.9L512.4 422.8L513.1 437.1L514.1 453.4L515.2 471.1L516.4 486.3L517.4 497.3L518.4 505.8L519.7 512.6L521.2 517.8L523.0 521.5L524.6 524.1L526.1 525.5L527.4 525.9L528.5 526.4L529.0 527.2L529.2 528.0L530.0 528.7L531.8 529.1L534.2 529.3L536.6 529.3L538.9 529.2L541.1 528.8L543.2 528.7L545.0 528.7L546.6 528.8L548.2 529.3L549.8 530.4L551.4 531.7L553.2 533.0L555.1 533.9L557.3 534.6L559.8 535.3L562.5 535.9L565.5 536.5L569.7 536.9L575.6 537.3L582.6 537.6L589.5 537.6L596.2 537.2L602.8 536.6L609.4 536.3L615.8 536.6L622.1 537.2L629.2 537.6L638.4 537.6L648.3 537.3L655.7 536.9L658.7 536.4L659.2 535.9L659.7 535.6L660.7 536.0L661.7 536.8L664.0 537.3L668.1 537.3L673.4 537.1L678.9 536.9L684.6 537.0L690.4 537.0L695.4 536.9L698.9 536.6L701.5 536.1L703.7 535.3L705.6 534.0L707.2 532.3L708.6 530.3L709.9 527.6L711.0 524.5L711.9 522.1L712.6 520.5L713.1 519.6L713.6 519.4L714.3 520.2L715.1 521.7L715.9 523.7L716.7 526.4L717.6 529.4L718.6 532.0L719.0 533.6L719.5 534.6L721.9 535.3L727.6 535.6L735.2 535.5L741.7 535.3L746.2 535.1L749.7 534.9L752.3 534.6L753.6 534.0L754.0 533.3L754.3 533.0L754.7 534.3L755.0 536.1L755.3 535.3L755.6 530.3L755.9 522.7L756.3 513.8L756.7 503.1L757.1 491.2L757.6 480.7L758.0 471.6L758.5 464.0L758.9 460.9L759.4 464.2L759.8 471.9L760.2 480.7L760.6 490.4L761.0 501.2L761.6 510.5L762.3 517.4L763.2 522.8L764.2 527.0L765.4 529.8L766.7 531.2L768.2 532.0L769.8 532.0L771.6 531.3L773.1 530.3L774.2 528.9L775.0 527.2L775.8 526.0L776.7 525.9L777.7 526.3L778.8 527.0L779.8 528.0L780.9 529.3L782.1 530.3L783.5 530.8L785.1 531.0L786.4 531.0L787.2 530.6L787.7 530.1L788.0 529.7" fill="none" stroke="#5ce85c" stroke-width="0.8" stroke-linejoin="round" opacity="1"/>
<path d="M303.6 534.9L306.1 533.8L309.5 532.2L312.8 530.6L315.6 529.1L318.3 527.6L321.0 526.4L323.8 525.3L326.6 524.4L329.2 524.1L331.6 524.4L333.7 525.2L335.8 526.4L338.1 528.5L340.4 531.1L342.4 532.3L343.7 531.1L344.7 528.4L345.7 525.7L346.8 522.8L347.8 519.7L348.9 518.2L350.0 519.2L351.1 521.7L352.2 524.1L353.2 525.9L354.2 527.5L355.5 528.3L357.6 527.6L360.0 526.0L362.1 525.1L363.6 525.8L364.8 527.3L366.0 528.0L367.4 527.2L368.9 525.6L370.3 524.1L371.4 522.4L372.4 520.7L373.6 520.1L375.1 521.6L376.9 524.0L378.5 525.7L379.9 525.5L381.2 524.5L382.4 524.1L383.5 525.2L384.6 527.0L385.7 528.0L387.1 527.3L388.6 525.9L390.0 525.1L391.1 525.6L392.1 526.7L393.3 527.4L394.7 526.9L396.2 526.0L398.2 525.1L400.7 524.4L403.5 523.7L406.4 523.1L409.2 522.3L412.0 521.5L414.6 521.1L416.9 521.3L419.0 521.8L421.2 522.4L423.4 523.0L425.5 523.7L427.7 524.7L430.0 526.4L432.2 528.4L434.3 529.7L435.9 529.5L437.4 528.6L439.2 528.3L441.8 529.3L444.7 530.9L447.4 532.3L449.8 533.4L452.0 534.3L454.0 534.9L455.8 534.9L457.3 534.6L458.9 533.9L460.5 533.1L462.1 532.1L463.8 530.6L465.9 528.7L468.2 526.3L470.4 524.1L472.7 521.8L475.0 519.7L477.0 518.2L478.5 517.9L479.7 518.4L480.9 518.2L482.4 517.5L483.8 516.2L485.2 512.6L486.4 506.2L487.4 497.5L488.5 486.3L489.6 471.6L490.7 454.3L491.8 437.1L492.8 419.5L493.9 401.9L495.0 387.8L496.2 378.9L497.3 373.3L498.3 369.8L499.1 368.0L499.9 368.1L500.6 369.1L501.4 370.7L502.3 373.1L503.2 376.3L504.3 381.5L505.5 387.5L506.5 390.5L507.4 387.8L508.1 382.2L508.8 378.0L509.5 376.5L510.1 376.3L510.8 377.3L511.5 378.9L512.2 381.8L513.1 387.8L514.1 398.7L515.2 412.8L516.4 427.2L517.5 441.8L518.6 456.8L519.7 469.9L520.7 480.4L521.7 489.1L522.9 496.2L524.4 501.3L526.0 504.7L527.9 507.7L530.3 510.7L533.0 513.1L534.4 514.2L533.4 512.9L531.1 510.2L530.0 508.8L531.4 510.3L534.1 513.2L536.6 515.4L538.4 516.5L540.0 516.9L541.6 517.1L543.3 516.8L545.0 516.3L546.5 516.1L547.6 516.6L548.6 517.4L549.8 518.7L551.8 520.8L554.1 523.2L556.5 525.4L558.5 526.9L560.6 528.1L563.1 529.3L566.1 530.6L569.6 531.8L573.0 533.0L576.4 534.3L579.9 535.5L582.9 536.3L585.5 536.2L587.7 535.6L589.5 535.3L590.5 535.8L591.1 536.6L592.9 536.9L596.7 536.4L601.7 535.4L606.1 534.6L609.2 534.1L611.8 533.7L614.4 533.6L616.9 534.2L619.5 535.1L622.6 535.6L626.7 535.5L631.3 534.9L635.9 534.3L640.5 533.6L645.2 532.9L649.1 532.0L651.9 530.9L653.9 529.8L655.7 528.7L657.2 527.3L658.4 526.0L659.7 525.4L661.1 525.9L662.5 527.2L664.0 528.0L665.5 528.0L667.1 527.6L668.9 527.0L671.0 526.2L673.3 525.2L675.6 524.4L677.5 524.0L679.5 523.8L682.2 523.7L686.3 523.8L691.2 523.9L695.4 523.7L698.1 522.8L700.1 521.6L702.0 520.4L704.3 519.1L706.6 517.8L708.6 517.1L710.1 517.4L711.4 518.3L712.6 518.7L714.0 518.1L715.4 517.0L716.9 516.1L718.6 515.8L720.3 515.7L721.9 515.4L723.0 514.7L724.0 513.7L725.2 513.1L726.7 513.3L728.4 513.8L730.1 514.4L731.8 515.3L733.5 516.1L735.1 516.4L736.5 515.8L737.9 514.5L739.1 513.1L740.0 511.7L740.7 510.1L741.7 508.8L743.3 508.1L745.1 507.7L746.7 507.2L747.9 506.1L748.9 505.0L750.0 504.5L751.1 505.7L752.3 507.5L753.3 507.8L754.2 506.5L754.9 503.7L755.6 497.2L756.1 485.6L756.5 470.3L756.9 454.2L757.4 437.1L757.8 419.2L758.3 404.6L758.6 394.5L758.9 387.9L759.2 385.4L759.6 387.9L759.9 394.5L760.2 404.6L760.6 419.3L761.1 437.3L761.6 454.2L762.1 469.1L762.8 482.9L763.5 493.9L764.4 501.1L765.3 505.6L766.5 508.8L768.0 511.4L769.8 512.7L771.5 513.1L773.2 512.0L774.9 510.0L776.4 508.8L777.6 509.4L778.6 510.8L779.8 512.1L781.3 513.1L783.1 514.0L784.7 514.4L786.1 514.2L787.2 513.6L788.0 513.1" fill="none" stroke="#f25858" stroke-width="0.8" stroke-linejoin="round" opacity="1"/>
<path d="M303.6 368V537.2" stroke="#888" stroke-width="0.6" fill="none" stroke-dasharray="1.2 0.8"/>
<path d="M303.6 537.2H788" stroke="#999" stroke-width="0.6" fill="none"/>
<g font-family="Liberation Sans, sans-serif" font-size="3.5" fill="#2a2a2a">
<text x="301.4" y="376.6" text-anchor="end">0.85</text>
<path d="M302.1 375.4H303.6" stroke="#666" stroke-width="0.5"/>
<text x="301.4" y="400.0" text-anchor="end">0.80</text>
<path d="M302.1 398.8H303.6" stroke="#666" stroke-width="0.5"/>
<text x="301.4" y="423.4" text-anchor="end">0.75</text>
<path d="M302.1 422.2H303.6" stroke="#666" stroke-width="0.5"/>
<text x="301.4" y="446.9" text-anchor="end">0.70</text>
<path d="M302.1 445.7H303.6" stroke="#666" stroke-width="0.5"/>
<text x="301.4" y="470.3" text-anchor="end">0.65</text>
<path d="M302.1 469.1H303.6" stroke="#666" stroke-width="0.5"/>
<text x="301.4" y="493.7" text-anchor="end">0.60</text>
<path d="M302.1 492.5H303.6" stroke="#666" stroke-width="0.5"/>
<text x="301.4" y="517.1" text-anchor="end">0.55</text>
<path d="M302.1 515.9H303.6" stroke="#666" stroke-width="0.5"/>
<text x="303.6" y="545.7" text-anchor="middle">4000</text>
<path d="M303.6 537.2v1.6" stroke="#666" stroke-width="0.5"/>
<text x="339.5" y="545.7" text-anchor="middle">3800</text>
<path d="M339.5 537.2v1.6" stroke="#666" stroke-width="0.5"/>
<text x="375.4" y="545.7" text-anchor="middle">3600</text>
<path d="M375.4 537.2v1.6" stroke="#666" stroke-width="0.5"/>
<text x="411.3" y="545.7" text-anchor="middle">3400</text>
<path d="M411.3 537.2v1.6" stroke="#666" stroke-width="0.5"/>
<text x="447.2" y="545.7" text-anchor="middle">3200</text>
<path d="M447.2 537.2v1.6" stroke="#666" stroke-width="0.5"/>
<text x="483.1" y="545.7" text-anchor="middle">3000</text>
<path d="M483.1 537.2v1.6" stroke="#666" stroke-width="0.5"/>
<text x="519.0" y="545.7" text-anchor="middle">2800</text>
<path d="M519.0 537.2v1.6" stroke="#666" stroke-width="0.5"/>
<text x="554.9" y="545.7" text-anchor="middle">2600</text>
<path d="M554.9 537.2v1.6" stroke="#666" stroke-width="0.5"/>
<text x="590.8" y="545.7" text-anchor="middle">2400</text>
<path d="M590.8 537.2v1.6" stroke="#666" stroke-width="0.5"/>
<text x="626.7" y="545.7" text-anchor="middle">2200</text>
<path d="M626.7 537.2v1.6" stroke="#666" stroke-width="0.5"/>
<text x="662.6" y="545.7" text-anchor="middle">2000</text>
<path d="M662.6 537.2v1.6" stroke="#666" stroke-width="0.5"/>
<text x="698.5" y="545.7" text-anchor="middle">1800</text>
<path d="M698.5 537.2v1.6" stroke="#666" stroke-width="0.5"/>
<text x="734.4" y="545.7" text-anchor="middle">1600</text>
<path d="M734.4 537.2v1.6" stroke="#666" stroke-width="0.5"/>
<text x="770.3" y="545.7" text-anchor="middle">1400</text>
<path d="M770.3 537.2v1.6" stroke="#666" stroke-width="0.5"/>
</g>
<text x="531.6" y="560.6" text-anchor="middle" font-family="Liberation Sans, sans-serif" font-size="9.9" fill="#333">Wavenumber (cm <tspan font-size="6.1" dy="-2.4">-1</tspan><tspan dy="2.4">)</tspan></text>
<text transform="translate(291.7 474.0) rotate(-90)" text-anchor="middle" font-family="Liberation Sans, sans-serif" font-size="9.6" fill="#333">Absorbance</text>
<text x="305.5" y="372" font-family="Liberation Sans, sans-serif" font-size="3.4" font-weight="bold" fill="#e03030">2022_7_13_19_24_32</text>
<text x="305.5" y="378.5" font-family="Liberation Sans, sans-serif" font-size="3.4" font-weight="bold" fill="#40e040">Polyethylene</text>
<path d="M343 370.4H380.1" stroke="#ee1010" stroke-width="2.6"/>
<text x="393.9" y="377.3" font-family="Liberation Sans, sans-serif" font-weight="bold" font-size="15.4" fill="#222">Unknown</text>
<path d="M343 390.5H380.1" stroke="#50f050" stroke-width="2.6"/>
<text x="393.9" y="396.3" font-family="Liberation Sans, sans-serif" font-weight="bold" font-size="15.4" fill="#222">Polyethylene</text>
<text x="634.5" y="382.1" font-family="Liberation Sans, sans-serif" font-weight="bold" font-size="17.55" fill="#222">Match 86.94 %</text>
<path d="M304.6 902.9L304.8 902.4L305.4 901.6L307.9 900.9L313.9 900.3L321.8 899.8L329.2 899.6L334.5 899.9L339.2 900.5L345.7 900.9L355.4 901.0L366.9 901.0L378.5 900.9L389.4 900.8L400.4 900.7L411.3 900.6L422.7 900.5L434.2 900.4L444.1 900.3L452.1 900.1L458.5 899.9L463.8 899.6L468.0 899.4L471.0 899.1L473.7 898.6L476.3 898.0L478.4 897.1L480.3 895.3L481.6 893.0L482.7 889.8L483.5 883.8L484.3 874.1L484.9 861.7L485.5 847.7L486.2 832.3L486.8 815.4L487.5 798.5L488.2 780.4L488.8 762.4L489.5 749.2L489.9 743.3L490.3 742.4L490.8 744.3L491.3 749.6L491.9 757.8L492.4 765.7L492.8 773.9L493.1 781.7L493.4 783.7L493.8 776.0L494.2 762.4L494.7 749.2L495.2 737.4L495.8 725.9L496.3 718.1L496.9 714.8L497.5 715.1L498.0 719.7L498.4 730.0L498.9 744.6L499.3 759.1L499.8 773.0L500.4 786.9L500.9 798.5L501.5 806.9L502.0 812.9L502.6 816.5L503.2 816.5L503.9 814.2L504.6 813.3L505.2 815.6L505.9 819.5L506.5 823.1L507.2 826.5L507.9 829.6L508.5 831.3L509.0 830.7L509.4 828.6L509.8 826.4L510.2 823.4L510.7 820.3L511.1 819.8L511.5 823.5L511.9 829.9L512.4 837.9L513.1 848.3L513.9 860.3L514.7 870.7L515.7 878.2L516.8 884.1L518.0 888.8L519.5 892.3L521.2 894.8L522.9 896.3L524.7 897.0L526.4 896.8L527.9 896.3L528.6 895.4L529.1 894.2L530.0 893.5L531.8 893.9L534.0 894.9L536.6 895.8L539.4 896.5L542.6 897.2L546.5 897.8L551.6 898.5L557.3 899.1L563.1 899.5L568.8 899.5L574.6 899.4L579.6 899.1L583.5 898.7L586.7 898.1L589.5 897.8L591.6 898.0L593.3 898.3L596.2 898.8L601.2 899.4L607.3 900.1L612.7 900.5L616.7 900.3L620.1 899.8L622.6 899.5L624.1 899.5L624.8 899.6L625.9 899.8L627.0 900.1L628.5 900.5L632.5 900.8L640.6 901.0L651.3 901.1L662.3 901.1L674.1 901.1L686.2 901.0L695.4 900.8L699.7 900.5L701.0 900.1L702.0 899.5L703.6 898.2L704.9 896.7L706.0 895.8L706.9 896.0L707.7 896.7L708.6 897.5L709.2 898.4L709.8 899.4L711.9 900.1L716.5 900.4L722.5 900.5L728.5 900.5L734.4 900.4L740.2 900.3L745.0 900.1L748.1 900.4L750.1 900.7L751.6 899.5L752.7 896.3L753.2 891.6L753.6 885.2L754.2 875.8L754.8 864.6L755.3 855.5L755.7 849.8L756.2 846.1L756.6 844.6L757.0 845.0L757.5 847.5L757.9 852.2L758.4 859.9L759.0 869.7L759.6 878.6L760.2 885.9L760.8 892.3L761.6 896.8L762.6 899.0L763.8 899.4L764.9 898.5L765.7 896.4L766.5 893.0L767.2 888.6L767.8 882.5L768.3 875.3L768.8 868.7L769.4 862.9L770.0 857.6L770.5 853.8L770.9 851.7L771.2 851.1L771.5 852.2L771.9 855.1L772.3 859.7L772.8 865.4L773.4 872.9L774.1 881.5L774.8 888.6L775.6 893.0L776.4 895.9L777.4 897.8L778.7 898.5L780.1 898.2L781.4 897.8L782.5 897.5L783.4 897.1L784.1 896.8" fill="none" stroke="#58e8f4" stroke-width="0.8" stroke-linejoin="round" opacity="1"/>
<path d="M304.6 886.1L311.1 886.2L320.2 886.3L329.2 886.5L337.1 886.8L344.9 887.1L352.2 887.1L359.2 886.9L365.7 886.3L371.9 885.5L377.8 884.2L383.2 882.6L388.3 881.2L393.0 880.3L397.2 879.6L401.5 878.9L405.8 878.2L410.2 877.6L414.6 877.3L418.9 877.6L423.1 878.3L427.7 878.9L433.1 879.4L438.8 879.9L444.1 880.6L449.0 881.6L453.5 882.8L457.3 883.2L460.0 882.3L462.0 880.6L463.8 878.9L465.7 877.2L467.4 875.4L468.8 874.0L469.8 873.2L470.6 872.8L471.4 873.0L472.2 874.5L472.9 876.6L473.7 877.3L474.5 875.3L475.3 872.0L476.0 869.1L476.7 866.8L477.3 864.9L478.0 864.1L478.5 864.9L479.0 866.7L479.6 869.1L480.3 872.9L481.1 877.3L481.9 878.9L482.7 876.5L483.5 871.3L484.2 864.1L484.9 855.2L485.5 844.1L486.2 831.3L486.8 815.8L487.5 798.4L488.1 782.1L488.8 766.8L489.5 752.6L490.1 742.7L490.5 738.7L490.8 739.0L491.1 741.0L491.6 745.0L492.2 750.9L492.7 755.8L493.1 759.9L493.4 763.2L493.7 762.4L494.1 754.7L494.6 743.0L495.0 732.8L495.6 725.7L496.1 720.1L496.7 716.4L497.1 714.5L497.6 714.7L498.0 718.1L498.4 726.1L498.8 737.4L499.3 749.2L499.8 761.6L500.3 774.5L500.9 785.4L501.7 793.4L502.5 799.5L503.2 803.4L503.9 804.1L504.6 802.7L505.2 802.4L505.7 804.4L506.1 807.4L506.5 811.6L507.2 818.5L507.9 826.6L508.5 831.3L509.0 830.1L509.4 825.6L509.8 821.5L510.2 818.4L510.7 815.8L511.1 815.6L511.5 818.8L511.9 824.5L512.4 831.3L513.1 839.5L513.9 848.9L514.7 857.6L515.7 865.1L516.8 871.8L518.0 877.3L519.5 881.2L521.1 883.8L522.9 885.5L525.2 886.1L527.7 885.9L529.5 885.5L529.8 885.1L529.4 884.6L530.0 884.6L532.4 885.4L535.8 886.7L539.9 887.9L544.9 888.7L550.7 889.4L556.5 890.2L562.0 891.3L567.5 892.5L573.0 893.5L578.5 894.3L584.0 894.8L589.5 895.2L595.4 895.3L601.2 895.3L606.1 895.2L609.7 895.0L612.3 894.6L614.4 894.2L615.6 893.3L616.3 892.3L617.0 891.9L617.4 892.4L617.8 893.5L620.0 894.5L625.0 895.0L631.9 895.4L639.2 895.8L647.3 896.4L655.8 897.0L662.3 897.5L665.4 897.8L666.4 897.9L667.3 897.8L668.5 897.3L669.5 896.5L670.6 896.2L671.6 896.5L672.5 897.2L673.9 897.8L676.0 898.2L678.5 898.4L680.5 898.5L681.6 898.2L682.2 897.7L682.8 897.5L683.5 897.8L684.3 898.4L685.5 898.8L687.5 898.8L690.0 898.7L692.1 898.5L693.4 898.1L694.4 897.7L695.4 897.5L696.5 897.7L697.6 898.2L698.7 898.5L699.8 898.5L700.9 898.3L702.0 897.8L703.3 896.7L704.6 895.4L706.0 894.5L707.4 894.7L708.8 895.4L710.3 895.8L711.9 895.6L713.6 895.0L715.2 894.5L716.9 894.2L718.6 894.0L720.2 894.2L721.9 894.9L723.7 896.0L725.2 896.8L726.2 897.4L727.0 897.9L727.8 897.8L728.6 896.8L729.4 895.3L730.1 894.5L730.9 895.1L731.7 896.5L732.4 897.8L733.2 899.1L733.9 900.4L735.1 901.1L737.1 900.9L739.5 900.2L741.7 899.5L743.6 899.3L745.3 899.2L746.7 898.5L747.5 896.7L747.9 894.3L748.3 891.9L748.9 889.2L749.4 886.6L750.0 885.2L750.5 886.4L751.1 888.9L751.6 890.2L752.2 890.1L752.7 888.9L753.3 885.2L753.8 877.5L754.4 867.4L754.9 858.8L755.5 852.8L756.1 848.4L756.6 845.6L757.0 844.1L757.5 844.4L757.9 847.2L758.4 853.8L759.0 863.0L759.6 872.0L760.2 880.6L760.8 889.0L761.6 895.2L762.6 898.1L763.8 898.8L764.9 898.5L765.8 897.4L766.7 895.2L767.5 891.9L768.2 886.8L768.9 880.7L769.5 875.3L770.1 871.0L770.6 867.5L771.2 866.1L771.7 867.5L772.2 871.0L772.8 875.3L773.4 880.7L774.0 886.9L774.8 891.9L775.7 894.8L776.8 896.5L778.1 897.8L779.8 898.7L781.7 899.2L783.1 899.5" fill="none" stroke="#f25858" stroke-width="0.8" stroke-linejoin="round" opacity="1"/>
<path d="M304 716V902.9" stroke="#888" stroke-width="0.6" fill="none" stroke-dasharray="1.2 0.8"/>
<path d="M304 902.9H784" stroke="#999" stroke-width="0.6" fill="none"/>
<g font-family="Liberation Sans, sans-serif" font-size="3.5" fill="#2a2a2a">
<text x="301.8" y="728.1" text-anchor="end">0.80</text>
<path d="M302.5 726.9H304" stroke="#666" stroke-width="0.5"/>
<text x="301.8" y="742.9" text-anchor="end">0.75</text>
<path d="M302.5 741.7H304" stroke="#666" stroke-width="0.5"/>
<text x="301.8" y="757.6" text-anchor="end">0.70</text>
<path d="M302.5 756.4H304" stroke="#666" stroke-width="0.5"/>
<text x="301.8" y="772.4" text-anchor="end">0.65</text>
<path d="M302.5 771.2H304" stroke="#666" stroke-width="0.5"/>
<text x="301.8" y="787.2" text-anchor="end">0.60</text>
<path d="M302.5 786.0H304" stroke="#666" stroke-width="0.5"/>
<text x="301.8" y="802.0" text-anchor="end">0.55</text>
<path d="M302.5 800.8H304" stroke="#666" stroke-width="0.5"/>
<text x="301.8" y="816.7" text-anchor="end">0.50</text>
<path d="M302.5 815.5H304" stroke="#666" stroke-width="0.5"/>
<text x="301.8" y="831.5" text-anchor="end">0.45</text>
<path d="M302.5 830.3H304" stroke="#666" stroke-width="0.5"/>
<text x="301.8" y="846.3" text-anchor="end">0.40</text>
<path d="M302.5 845.1H304" stroke="#666" stroke-width="0.5"/>
<text x="301.8" y="861.0" text-anchor="end">0.35</text>
<path d="M302.5 859.8H304" stroke="#666" stroke-width="0.5"/>
<text x="301.8" y="875.8" text-anchor="end">0.30</text>
<path d="M302.5 874.6H304" stroke="#666" stroke-width="0.5"/>
<text x="301.8" y="890.6" text-anchor="end">0.25</text>
<path d="M302.5 889.4H304" stroke="#666" stroke-width="0.5"/>
<text x="304.0" y="910.7" text-anchor="middle">4000</text>
<path d="M304.0 902.9v1.6" stroke="#666" stroke-width="0.5"/>
<text x="339.6" y="910.7" text-anchor="middle">3800</text>
<path d="M339.6 902.9v1.6" stroke="#666" stroke-width="0.5"/>
<text x="375.3" y="910.7" text-anchor="middle">3600</text>
<path d="M375.3 902.9v1.6" stroke="#666" stroke-width="0.5"/>
<text x="410.9" y="910.7" text-anchor="middle">3400</text>
<path d="M410.9 902.9v1.6" stroke="#666" stroke-width="0.5"/>
<text x="446.6" y="910.7" text-anchor="middle">3200</text>
<path d="M446.6 902.9v1.6" stroke="#666" stroke-width="0.5"/>
<text x="482.2" y="910.7" text-anchor="middle">3000</text>
<path d="M482.2 902.9v1.6" stroke="#666" stroke-width="0.5"/>
<text x="517.9" y="910.7" text-anchor="middle">2800</text>
<path d="M517.9 902.9v1.6" stroke="#666" stroke-width="0.5"/>
<text x="553.5" y="910.7" text-anchor="middle">2600</text>
<path d="M553.5 902.9v1.6" stroke="#666" stroke-width="0.5"/>
<text x="589.2" y="910.7" text-anchor="middle">2400</text>
<path d="M589.2 902.9v1.6" stroke="#666" stroke-width="0.5"/>
<text x="624.8" y="910.7" text-anchor="middle">2200</text>
<path d="M624.8 902.9v1.6" stroke="#666" stroke-width="0.5"/>
<text x="660.5" y="910.7" text-anchor="middle">2000</text>
<path d="M660.5 902.9v1.6" stroke="#666" stroke-width="0.5"/>
<text x="696.1" y="910.7" text-anchor="middle">1800</text>
<path d="M696.1 902.9v1.6" stroke="#666" stroke-width="0.5"/>
<text x="731.8" y="910.7" text-anchor="middle">1600</text>
<path d="M731.8 902.9v1.6" stroke="#666" stroke-width="0.5"/>
<text x="767.5" y="910.7" text-anchor="middle">1400</text>
<path d="M767.5 902.9v1.6" stroke="#666" stroke-width="0.5"/>
</g>
<text x="528.8" y="921.8" text-anchor="middle" font-family="Liberation Sans, sans-serif" font-size="9.7" fill="#333">Wavenumber (cm <tspan font-size="6.0" dy="-2.3">-1</tspan><tspan dy="2.3">)</tspan></text>
<text transform="translate(290.1 811.6) rotate(-90)" text-anchor="middle" font-family="Liberation Sans, sans-serif" font-size="9.6" fill="#333">Absorbance</text>
<text x="306" y="721.5" font-family="Liberation Sans, sans-serif" font-size="3.4" font-weight="bold" fill="#e03030">2022_5_16_14_7_12</text>
<text x="306" y="729.5" font-family="Liberation Sans, sans-serif" font-size="3.4" font-weight="bold" fill="#40d8f0">Polypropylene+poly(ethylene:propylene)</text>
<path d="M312.8 746H349.6" stroke="#ee1010" stroke-width="2.6"/>
<text x="362.1" y="751.8" font-family="Liberation Sans, sans-serif" font-weight="bold" font-size="15.1" fill="#222">Unknown</text>
<path d="M312.8 765.7H349.6" stroke="#70f4ff" stroke-width="2.6"/>
<text x="362.1" y="770.5" font-family="Liberation Sans, sans-serif" font-weight="bold" font-size="15.1" fill="#222">Polypropylene</text>
<text x="643.1" y="744.4" font-family="Liberation Sans, sans-serif" font-weight="bold" font-size="17.25" fill="#222">Match 94.29 %</text>
<rect x="291" y="929" width="492" height="1.6" fill="#e6e6f4"/>
<rect x="323.4" y="229.9" width="458.3" height="51.1" fill="#e6e1ee"/>
<path d="M323.4 193.4H781.7" stroke="#5585cc" stroke-width="1.15"/>
<path d="M323.4 229.9H781.7" stroke="#5585cc" stroke-width="1.15"/>
<path d="M323.4 332.2H781.7" stroke="#5585cc" stroke-width="1.15"/>
<text x="390.3" y="218.2" text-anchor="middle" font-family='"Noto Sans CJK KR", "NanumGothic", "Liberation Sans", sans-serif' font-size="16"  fill="#222">Match</text>
<text x="521.8" y="218.2" text-anchor="middle" font-family='"Noto Sans CJK KR", "NanumGothic", "Liberation Sans", sans-serif' font-size="16"  fill="#222">Compound Name</text>
<text x="693.4" y="218.2" text-anchor="middle" font-family='"Noto Sans CJK KR", "NanumGothic", "Liberation Sans", sans-serif' font-size="16"  fill="#222">Library name</text>
<text x="333.0" y="257.7" text-anchor="middle" font-family='"Noto Sans CJK KR", "NanumGothic", "Liberation Sans", sans-serif' font-size="16"  fill="#222">1</text>
<text x="390.3" y="257.7" text-anchor="middle" font-family='"Noto Sans CJK KR", "NanumGothic", "Liberation Sans", sans-serif' font-size="16" font-weight="bold" fill="#222">96.50</text>
<text x="521.8" y="257.7" text-anchor="middle" font-family='"Noto Sans CJK KR", "NanumGothic", "Liberation Sans", sans-serif' font-size="16" font-weight="bold" fill="#222">Polystyrene</text>
<text x="693.4" y="256.4" text-anchor="middle" font-family='"Noto Sans CJK KR", "NanumGothic", "Liberation Sans", sans-serif' font-size="14"  fill="#222">Thermo Scientific</text>
<text x="693.4" y="274.1" text-anchor="middle" font-family='"Noto Sans CJK KR", "NanumGothic", "Liberation Sans", sans-serif' font-size="14"  fill="#222">Infrared spectral library</text>
<text x="333.0" y="311.9" text-anchor="middle" font-family='"Noto Sans CJK KR", "NanumGothic", "Liberation Sans", sans-serif' font-size="16"  fill="#222">2</text>
<text x="390.3" y="311.9" text-anchor="middle" font-family='"Noto Sans CJK KR", "NanumGothic", "Liberation Sans", sans-serif' font-size="16"  fill="#222">96.10</text>
<text x="521.8" y="311.9" text-anchor="middle" font-family='"Noto Sans CJK KR", "NanumGothic", "Liberation Sans", sans-serif' font-size="16"  fill="#222">Polystyrene</text>
<text x="693.4" y="311.2" text-anchor="middle" font-family='"Noto Sans CJK KR", "NanumGothic", "Liberation Sans", sans-serif' font-size="14"  fill="#222">PS container spectrum</text>
<rect x="291.6" y="624.0" width="500.4" height="56.1" fill="#e8fae4"/>
<path d="M291.6 584.6H792" stroke="#5585cc" stroke-width="1.15"/>
<path d="M291.6 624.0H792" stroke="#5585cc" stroke-width="1.15"/>
<path d="M291.6 680.1H792" stroke="#5585cc" stroke-width="1.15"/>
<text x="372.4" y="609.7" text-anchor="middle" font-family='"Noto Sans CJK KR", "NanumGothic", "Liberation Sans", sans-serif' font-size="17.4"  fill="#222">Match</text>
<text x="515.3" y="609.7" text-anchor="middle" font-family='"Noto Sans CJK KR", "NanumGothic", "Liberation Sans", sans-serif' font-size="17.4"  fill="#222">Compound Name</text>
<text x="702.1" y="609.7" text-anchor="middle" font-family='"Noto Sans CJK KR", "NanumGothic", "Liberation Sans", sans-serif' font-size="17.4"  fill="#222">Library name</text>
<text x="309.0" y="651.7" text-anchor="middle" font-family='"Noto Sans CJK KR", "NanumGothic", "Liberation Sans", sans-serif' font-size="17.4"  fill="#222">1</text>
<text x="372.4" y="651.7" text-anchor="middle" font-family='"Noto Sans CJK KR", "NanumGothic", "Liberation Sans", sans-serif' font-size="17.4" font-weight="bold" fill="#222">86.94</text>
<text x="515.3" y="651.7" text-anchor="middle" font-family='"Noto Sans CJK KR", "NanumGothic", "Liberation Sans", sans-serif' font-size="17.4" font-weight="bold" fill="#222">Polyethylene</text>
<text x="702.1" y="649.6" text-anchor="middle" font-family='"Noto Sans CJK KR", "NanumGothic", "Liberation Sans", sans-serif' font-size="15.2"  fill="#222">Thermo Scientific</text>
<text x="702.1" y="669.0" text-anchor="middle" font-family='"Noto Sans CJK KR", "NanumGothic", "Liberation Sans", sans-serif' font-size="15.2"  fill="#222">Infrared spectral library</text>
<rect x="291" y="969.3" width="490.0" height="55.6" fill="#eafcfd"/>
<path d="M291 930.4H781" stroke="#5585cc" stroke-width="1.15"/>
<path d="M291 969.3H781" stroke="#5585cc" stroke-width="1.15"/>
<path d="M291 1024.9H781" stroke="#5585cc" stroke-width="1.15"/>
<text x="364.0" y="954.1" text-anchor="middle" font-family='"Noto Sans CJK KR", "NanumGothic", "Liberation Sans", sans-serif' font-size="17"  fill="#222">Match</text>
<text x="505.0" y="954.1" text-anchor="middle" font-family='"Noto Sans CJK KR", "NanumGothic", "Liberation Sans", sans-serif' font-size="17"  fill="#222">Compound Name</text>
<text x="689.2" y="954.1" text-anchor="middle" font-family='"Noto Sans CJK KR", "NanumGothic", "Liberation Sans", sans-serif' font-size="17"  fill="#222">Library name</text>
<text x="303.9" y="994.2" text-anchor="middle" font-family='"Noto Sans CJK KR", "NanumGothic", "Liberation Sans", sans-serif' font-size="17"  fill="#222">1</text>
<text x="364.0" y="994.2" text-anchor="middle" font-family='"Noto Sans CJK KR", "NanumGothic", "Liberation Sans", sans-serif' font-size="17" font-weight="bold" fill="#222">94.29</text>
<text x="505.0" y="994.2" text-anchor="middle" font-family='"Noto Sans CJK KR", "NanumGothic", "Liberation Sans", sans-serif' font-size="17" font-weight="bold" fill="#222">Polypropylene</text>
<text x="689.2" y="992.1" text-anchor="middle" font-family='"Noto Sans CJK KR", "NanumGothic", "Liberation Sans", sans-serif' font-size="14.8"  fill="#222">Thermo Scientific</text>
<text x="689.2" y="1010.8" text-anchor="middle" font-family='"Noto Sans CJK KR", "NanumGothic", "Liberation Sans", sans-serif' font-size="14.8"  fill="#222">Infrared spectral library</text>
</svg>
</body></html>
